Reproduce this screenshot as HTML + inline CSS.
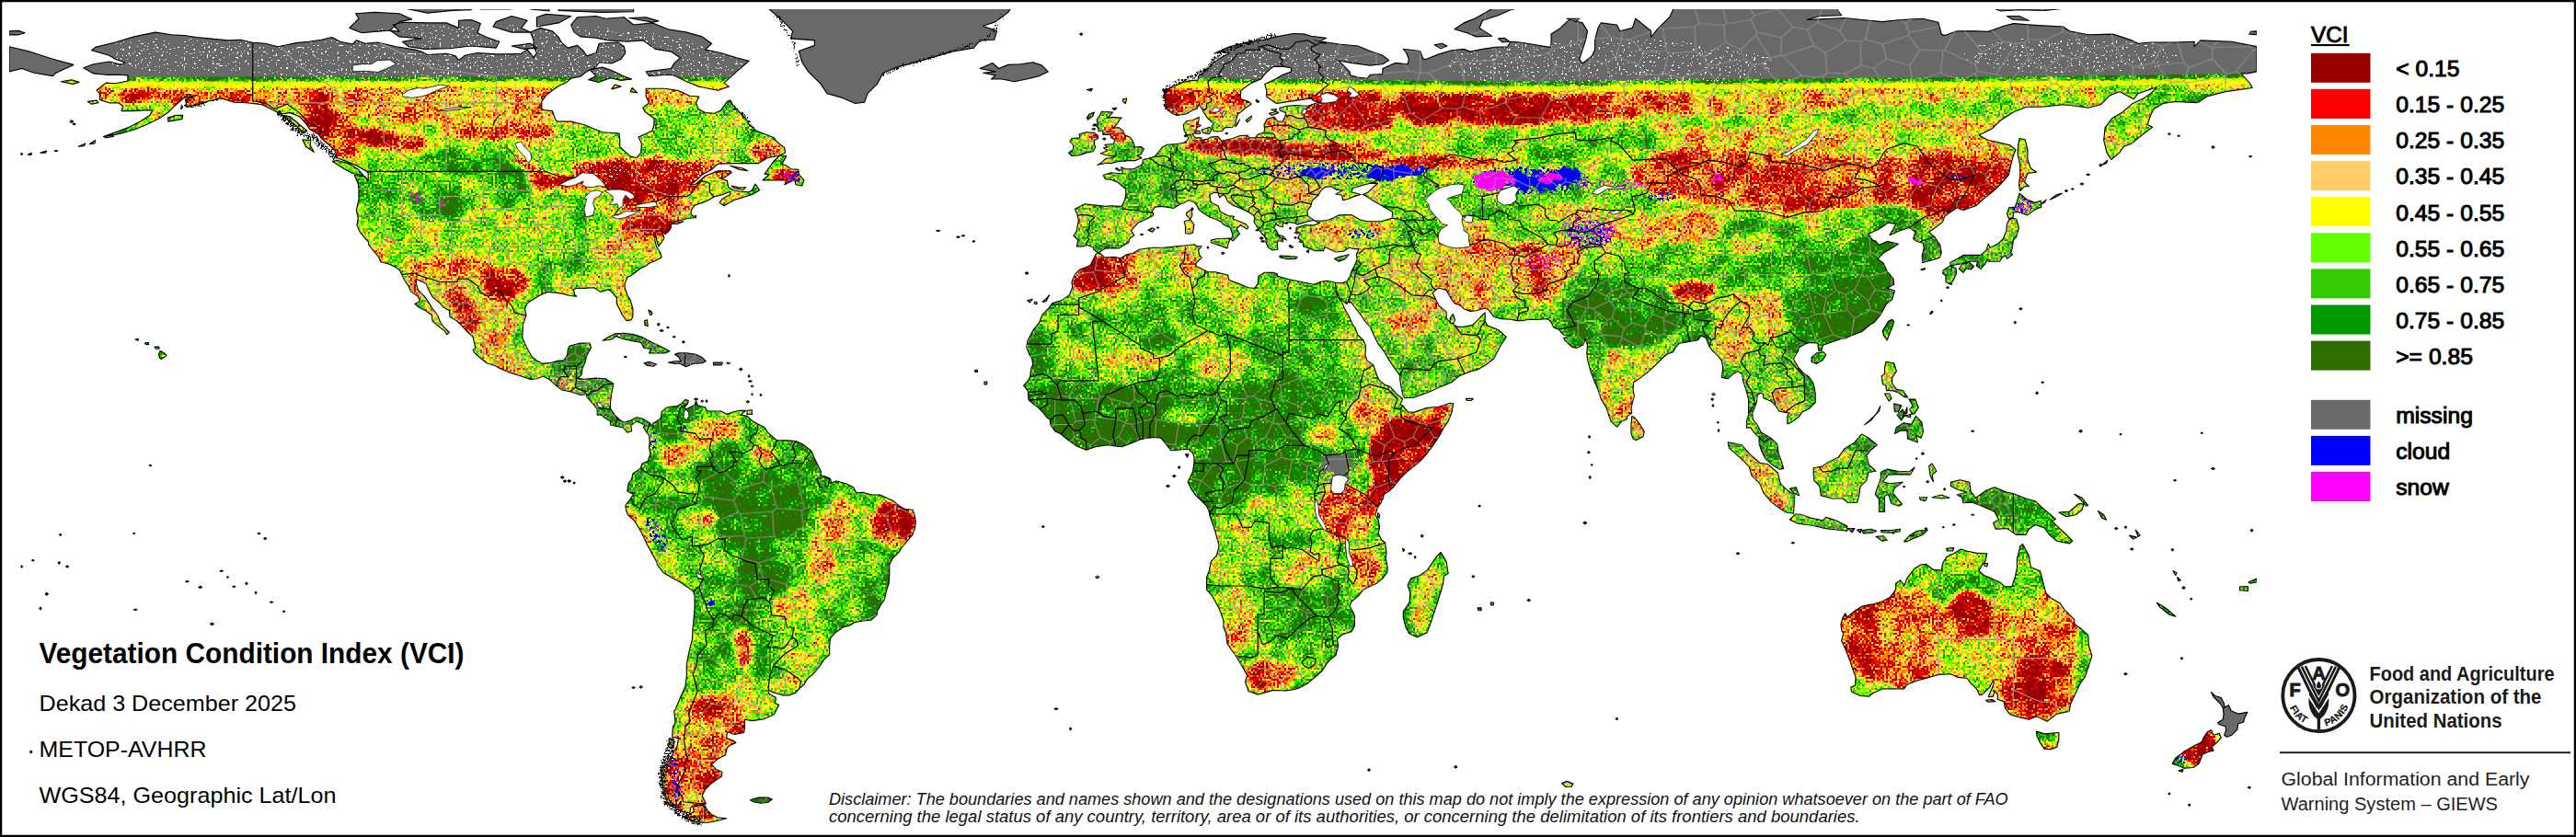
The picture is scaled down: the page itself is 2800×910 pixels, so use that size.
<!DOCTYPE html>
<html lang="en"><head><meta charset="utf-8"><title>Vegetation Condition Index (VCI)</title>
<style>
html,body{margin:0;padding:0;background:#fff}
body{width:2800px;height:910px;overflow:hidden;position:relative;font-family:"Liberation Sans",Arial,sans-serif}
svg{position:absolute;left:0;top:0;display:block}
</style></head><body>
<svg width="2800" height="910" viewBox="0 0 2800 910">
<defs>
<clipPath id="maparea"><rect x="10" y="10" width="2443" height="891"/></clipPath>
<clipPath id="land" clip-rule="nonzero"><path d="M90.8 73.8L101.6 69.7L118.6 67.0L132.1 70.4L135.5 67.7L125.4 64.3L118.6 60.2L99.6 54.8L103.6 51.4L125.4 46.0L145.7 39.9L168.8 35.1L186.4 37.8L200.0 38.5L213.6 40.5L227.2 41.9L247.5 43.9L261.1 43.3L274.7 46.3L288.2 47.3L301.8 50.7L312.0 48.7L322.2 46.6L335.7 45.3L349.3 43.3L360.8 40.5L369.7 45.3L383.2 48.0L387.3 43.9L396.8 47.3L410.4 46.0L430.7 50.7L451.1 54.1L457.9 56.1L464.7 59.5L485.0 58.2L495.2 60.9L498.6 65.6L505.4 60.2L519.0 57.5L539.3 58.9L552.9 58.9L566.5 58.2L573.2 54.1L580.0 62.3L583.4 57.5L580.0 50.7L580.0 43.9L576.6 35.1L586.8 30.4L600.4 33.8L607.2 40.5L610.6 46.6L617.3 52.1L627.5 49.4L634.3 55.5L637.7 60.9L647.9 57.5L651.3 47.3L671.6 46.0L678.4 50.7L679.8 57.5L675.0 64.3L664.8 69.0L651.3 67.7L647.9 72.4L637.7 77.9L630.9 83.3L620.7 85.3L616.0 89.4L607.2 93.5L600.4 98.2L593.6 103.6L588.8 110.4L588.8 118.6L592.2 119.9L600.4 120.6L603.8 130.1L605.8 132.1L620.7 132.1L634.3 135.5L654.7 143.7L673.0 145.0L673.7 152.5L673.7 159.3L678.4 164.0L685.2 170.1L692.0 171.5L696.7 166.1L697.4 155.9L694.0 149.1L709.0 142.3L711.0 135.5L711.0 128.8L700.8 121.3L698.8 117.2L705.6 111.8L702.2 105.0L702.2 96.2L722.5 96.2L736.1 98.2L742.9 100.9L749.7 104.3L759.9 105.0L756.5 111.8L759.2 118.6L766.6 122.6L776.8 123.3L783.6 119.9L790.4 110.4L793.8 109.1L797.2 115.2L804.0 122.0L810.7 128.8L814.1 135.5L822.3 142.3L831.1 145.7L841.3 149.8L844.7 154.5L852.8 160.6L853.5 166.1L846.0 169.5L834.5 171.5L824.3 177.6L810.7 177.6L797.2 177.6L780.2 178.3L773.4 184.4L763.2 189.8L756.5 196.6L749.7 200.7L756.5 200.0L766.6 191.2L780.2 185.8L793.8 185.8L795.1 187.8L787.0 193.2L781.6 193.2L790.4 196.6L791.7 203.4L797.2 206.8L804.0 208.2L814.1 208.8L817.5 206.8L820.9 200.0L825.7 206.8L817.5 211.5L804.0 215.6L797.2 217.7L787.0 223.8L782.2 220.4L785.0 216.3L793.8 211.5L793.8 208.2L783.6 212.2L776.8 213.6L770.0 217.7L763.2 220.4L755.1 223.1L751.7 227.8L751.0 231.9L753.1 235.3L756.5 234.6L756.5 236.7L748.3 237.3L742.9 238.7L732.7 240.7L739.5 241.4L742.9 240.7L736.1 243.4L729.3 243.4L729.3 247.5L727.3 250.9L723.2 254.6L719.1 250.9L721.2 256.3L721.9 259.0L718.5 264.5L715.7 267.9L713.7 261.1L712.4 252.9L711.7 261.1L713.7 268.5L717.8 274.7L719.1 279.7L712.4 283.5L705.6 286.2L702.2 288.9L695.4 292.3L688.6 297.7L681.8 301.8L679.1 308.6L679.1 312.7L681.8 320.8L685.2 326.2L687.9 335.7L687.9 343.9L685.9 347.9L681.1 348.6L676.4 342.5L673.7 336.4L670.3 330.3L670.3 323.5L665.5 318.1L661.5 314.7L652.6 317.4L645.8 312.7L637.7 313.3L632.3 313.3L626.2 313.3L623.5 314.7L624.8 320.8L626.8 322.2L619.4 321.5L611.9 319.4L603.8 318.1L595.0 317.4L588.8 320.1L581.4 324.2L573.2 329.6L570.5 335.7L571.9 343.2L568.5 352.7L567.8 367.6L571.9 376.4L577.3 386.6L579.3 388.7L583.4 392.1L590.2 395.4L600.4 394.1L607.2 392.1L612.6 392.1L616.7 385.9L617.3 379.8L618.7 376.4L630.9 373.1L641.1 373.1L642.5 377.8L637.7 386.6L635.7 394.8L633.0 400.2L632.3 407.0L628.2 411.1L634.3 412.4L647.9 411.1L658.1 411.7L666.9 417.2L664.8 427.3L663.5 437.5L663.5 444.3L668.2 451.1L673.7 456.5L678.4 459.2L685.2 457.2L692.0 453.8L698.8 455.2L706.2 459.9L710.3 464.7L709.6 460.6L713.7 457.9L718.5 454.5L719.1 447.7L723.9 443.6L728.0 442.3L736.1 441.6L741.5 438.2L744.9 434.5L748.3 435.5L747.6 438.9L743.6 442.9L745.6 445.0L749.7 442.9L755.1 440.2L756.5 436.2L758.5 440.9L766.6 442.9L768.7 447.0L776.8 447.0L783.6 447.0L790.4 450.4L797.2 447.7L804.0 446.3L810.7 446.3L807.4 449.1L805.3 451.1L812.1 452.4L818.2 457.9L824.3 461.3L831.1 464.7L834.5 470.1L841.3 476.2L844.7 478.9L854.9 478.9L865.0 479.6L872.5 483.0L878.6 487.7L882.0 490.4L885.4 498.6L888.8 505.4L892.2 512.2L892.2 517.6L886.8 521.0L892.2 520.3L895.6 517.6L902.4 520.3L903.7 525.1L909.1 523.0L919.3 525.7L927.5 529.8L930.9 535.9L937.6 535.2L947.8 538.0L956.6 538.0L966.8 542.7L970.2 544.1L978.4 550.8L983.8 553.6L991.9 554.2L994.0 559.7L995.3 567.1L994.6 573.9L991.9 581.4L984.5 590.2L980.4 595.0L977.0 600.4L970.2 607.2L966.8 614.0L966.8 624.1L966.1 634.3L963.4 642.5L961.4 652.0L958.0 656.7L953.3 664.8L953.3 668.2L946.5 674.3L938.3 675.0L929.5 676.4L922.7 680.5L916.6 681.8L907.1 688.6L902.4 694.0L901.7 702.2L901.7 711.7L895.6 717.1L890.8 724.6L884.0 732.7L877.9 737.5L873.9 744.2L869.1 748.3L865.0 753.1L858.2 755.8L850.1 755.8L839.2 752.4L835.2 749.7L835.2 753.7L843.3 758.5L842.6 764.6L846.7 766.6L841.3 776.8L831.1 781.6L817.5 783.6L809.4 782.2L809.4 790.4L808.7 796.5L798.5 798.5L790.4 795.8L789.7 802.6L797.2 805.3L799.9 807.4L793.8 810.1L790.4 812.8L788.4 820.9L780.2 825.0L773.4 831.1L778.2 836.5L785.0 839.2L784.3 844.0L773.4 851.5L766.6 858.2L763.2 865.0L767.3 873.9L759.9 875.2L751.0 877.3L749.7 884.0L739.5 882.0L732.7 877.3L725.9 873.2L722.5 865.0L720.5 858.2L719.1 848.1L719.1 837.9L718.5 835.2L725.9 829.7L730.7 820.9L736.1 810.7L737.5 802.6L730.7 801.2L731.4 790.4L734.1 785.6L732.7 773.4L734.7 770.0L738.8 759.9L744.9 746.3L746.3 736.1L746.3 722.5L747.6 715.7L749.7 705.6L752.4 695.4L753.1 681.8L753.7 677.1L755.1 661.5L755.1 647.9L753.7 643.1L747.6 638.4L739.5 633.0L729.3 627.5L721.2 622.8L714.4 614.0L713.7 610.6L708.3 601.1L703.5 592.2L698.8 582.1L694.0 573.2L689.3 565.8L682.5 559.7L680.5 554.2L679.8 549.5L685.2 542.7L687.2 539.3L690.0 535.2L686.6 536.6L681.8 533.9L683.2 525.7L686.6 521.0L687.9 514.9L692.0 512.2L696.1 509.4L698.1 504.0L704.2 501.3L706.9 493.8L705.6 486.4L706.2 479.6L705.6 473.5L702.9 470.1L699.5 464.7L700.8 461.9L692.0 457.9L685.9 462.6L686.6 468.7L681.8 470.1L677.1 464.7L668.9 463.3L663.5 461.9L663.5 457.9L656.7 453.8L654.0 451.1L649.2 451.1L649.2 445.0L644.5 438.9L637.7 431.4L638.4 428.7L630.9 429.4L620.7 426.0L610.6 423.9L605.1 419.9L597.0 412.4L590.2 409.0L583.4 411.7L576.6 412.4L566.5 409.0L553.6 404.9L542.7 400.2L538.0 397.5L529.1 394.8L522.3 389.3L515.6 383.2L514.2 380.5L516.9 378.5L515.6 373.1L514.2 366.3L508.8 361.5L502.0 354.1L495.2 347.9L489.1 344.5L488.4 337.8L481.6 333.7L478.2 329.6L470.1 322.8L466.0 315.4L463.3 308.6L456.5 305.2L452.4 303.2L452.4 308.6L454.5 315.4L461.3 322.2L466.0 328.9L470.1 335.7L475.5 342.5L478.2 349.3L481.6 354.7L488.4 361.5L485.7 363.6L483.0 359.5L474.8 353.4L470.1 349.3L469.4 342.5L462.6 337.8L454.5 333.7L451.1 330.3L456.5 327.6L454.5 322.2L446.3 316.7L444.3 311.3L439.6 304.5L436.8 298.4L434.1 293.0L428.0 289.6L422.6 286.9L413.8 284.8L411.7 279.4L404.3 270.6L400.9 266.5L400.2 262.4L396.8 259.0L391.4 252.3L388.0 244.8L389.3 237.3L387.3 228.5L390.0 217.0L390.0 205.4L389.3 200.0L385.3 190.5L396.8 191.9L400.2 196.6L400.2 187.8L395.4 184.4L386.6 179.6L376.4 175.6L366.3 171.5L364.2 164.0L357.4 157.3L349.3 150.5L345.9 145.7L337.1 141.0L332.3 134.2L325.5 126.7L315.4 122.6L305.2 124.0L298.4 120.6L284.8 113.8L267.9 111.8L254.3 111.1L240.7 107.0L227.2 109.8L217.0 113.1L203.4 116.5L201.4 108.4L213.6 103.6L200.0 106.4L189.8 115.2L183.0 122.0L172.9 128.8L159.3 135.5L145.7 141.0L132.1 145.0L122.0 147.1L113.1 148.4L125.4 143.7L138.9 138.9L152.5 132.1L162.7 125.4L166.1 119.9L155.9 119.9L145.7 120.6L132.1 120.6L133.5 115.2L128.8 111.8L118.6 111.8L108.4 108.4L108.4 101.6L105.0 98.2L111.8 92.8L115.2 90.1L125.4 90.8L138.9 88.0L138.9 81.9L128.8 81.3L115.2 81.3L101.6 79.9ZM1191.4 276.0L1195.5 275.3L1200.9 280.1L1211.1 279.4L1217.9 280.8L1224.7 276.7L1231.5 275.3L1238.3 271.3L1251.8 269.2L1265.4 269.2L1279.0 267.9L1292.6 266.5L1298.0 265.8L1301.4 267.9L1306.1 267.9L1302.7 271.9L1303.4 276.7L1306.1 280.1L1300.0 286.2L1300.0 289.6L1306.1 292.3L1312.9 295.7L1321.1 295.7L1334.6 299.1L1336.0 304.5L1346.8 308.6L1357.0 312.7L1363.8 313.3L1367.2 308.6L1367.9 300.4L1374.0 296.4L1384.2 296.4L1388.2 297.7L1388.9 300.4L1401.1 303.8L1414.7 306.5L1428.3 309.3L1435.1 306.5L1441.8 305.2L1448.6 306.5L1451.3 307.2L1452.4 315.7L1453.4 322.2L1458.8 328.9L1460.8 334.4L1465.6 342.5L1470.3 352.7L1473.1 356.8L1475.8 364.2L1481.9 369.7L1484.6 376.4L1483.9 385.9L1486.0 392.1L1492.7 396.8L1497.5 410.4L1499.5 413.8L1504.3 417.8L1511.1 420.6L1518.5 428.7L1524.6 433.4L1521.9 440.2L1524.6 440.9L1530.1 447.7L1536.8 448.4L1550.4 443.6L1564.0 442.3L1576.2 438.2L1579.6 438.9L1578.2 447.7L1574.2 457.9L1569.4 464.7L1564.0 474.8L1557.2 485.0L1550.4 493.8L1543.6 501.3L1538.9 505.4L1530.1 512.2L1521.9 520.3L1513.8 530.5L1509.0 534.6L1504.3 537.3L1503.6 541.3L1500.9 546.8L1497.5 551.5L1494.8 559.7L1498.2 565.1L1499.5 573.2L1498.2 580.0L1501.6 586.8L1505.6 590.2L1507.0 600.4L1506.3 607.2L1508.3 617.3L1507.7 622.1L1502.9 628.9L1496.1 634.3L1486.0 639.1L1481.9 641.1L1477.1 647.2L1469.0 654.0L1467.0 658.7L1470.3 664.8L1472.4 669.6L1472.4 680.5L1469.0 686.6L1458.8 690.0L1453.4 694.7L1454.7 702.2L1452.0 712.4L1445.2 717.8L1441.8 721.9L1437.1 729.3L1429.6 736.1L1421.5 742.9L1411.3 748.3L1405.9 749.7L1397.7 751.0L1384.2 750.4L1367.2 755.1L1360.4 752.4L1357.0 751.7L1356.3 749.0L1353.6 741.5L1355.7 734.1L1348.9 722.5L1343.4 713.0L1338.0 705.6L1333.9 699.5L1332.6 688.6L1329.9 681.8L1329.9 674.3L1325.1 661.5L1317.7 647.9L1311.6 641.1L1311.6 635.7L1311.6 627.5L1314.3 620.7L1316.3 610.6L1322.4 603.8L1325.1 593.6L1322.4 583.4L1321.1 578.7L1318.3 569.8L1314.9 560.3L1314.3 556.3L1311.6 550.2L1306.8 545.4L1299.3 538.0L1294.6 531.2L1291.2 523.7L1294.6 516.9L1296.6 512.2L1298.0 503.3L1298.0 497.2L1296.6 492.5L1291.9 488.4L1287.8 488.4L1280.3 489.1L1272.9 489.8L1268.1 483.7L1262.0 476.2L1254.6 475.5L1247.8 476.2L1239.6 477.6L1234.9 479.6L1230.1 481.6L1219.3 485.7L1211.8 485.0L1204.3 483.7L1190.8 485.7L1180.6 489.1L1170.4 485.0L1158.2 476.2L1153.4 472.1L1146.7 468.7L1141.9 461.9L1141.2 455.8L1138.5 454.5L1132.4 447.0L1129.0 443.6L1122.9 438.9L1118.2 434.8L1117.5 430.1L1117.5 425.3L1112.7 419.2L1117.5 413.8L1119.5 410.4L1120.9 400.2L1122.9 396.1L1121.5 388.7L1119.5 386.6L1115.8 377.8L1116.8 371.0L1120.9 362.9L1123.6 358.1L1129.7 350.7L1133.1 341.8L1140.5 334.4L1143.9 329.6L1153.4 326.9L1162.3 320.8L1165.7 312.7L1165.0 305.9L1168.4 298.4L1173.8 293.0L1179.9 290.9L1185.3 288.2L1189.4 280.1ZM1451.3 307.2L1458.8 307.9L1464.2 305.9L1467.6 300.4L1469.0 295.0L1472.4 288.9L1475.1 282.1L1474.4 276.7L1477.1 270.6L1472.4 270.6L1466.3 269.2L1460.2 273.3L1452.0 274.0L1439.8 268.5L1438.5 272.6L1429.6 272.6L1422.8 269.9L1416.7 267.9L1416.1 262.4L1410.6 259.0L1413.3 254.3L1408.6 250.9L1409.3 247.5L1418.1 244.8L1428.3 244.8L1434.4 242.4L1429.0 240.0L1438.5 240.0L1445.2 238.7L1455.4 233.9L1469.0 233.6L1477.8 238.7L1486.0 240.7L1500.9 240.7L1513.1 237.3L1513.8 230.5L1500.9 223.1L1492.7 218.3L1485.3 213.6L1481.2 211.5L1486.6 209.5L1490.7 205.4L1497.5 199.3L1489.3 199.3L1479.2 202.0L1470.3 204.8L1469.0 208.8L1479.2 211.5L1471.7 213.6L1465.6 216.3L1459.5 217.7L1458.8 212.2L1452.0 210.9L1459.5 206.8L1452.0 206.1L1447.3 202.7L1439.8 203.4L1435.1 208.2L1433.0 212.2L1426.2 218.3L1424.9 223.8L1420.8 229.2L1421.5 234.6L1428.3 239.4L1421.5 240.7L1416.7 242.1L1410.0 244.1L1407.9 242.8L1401.1 241.4L1394.3 242.8L1394.3 246.8L1389.6 245.5L1386.9 243.4L1384.8 247.5L1388.9 252.9L1387.6 255.0L1394.3 259.7L1394.3 263.1L1392.3 261.8L1388.9 261.8L1388.2 265.2L1388.9 271.3L1383.5 271.9L1378.7 269.2L1376.0 263.8L1376.0 259.7L1374.0 256.3L1372.0 254.3L1368.6 250.2L1365.8 245.5L1363.1 241.4L1363.8 236.7L1362.4 233.9L1357.0 230.5L1346.8 225.8L1340.1 223.1L1334.6 219.0L1331.9 213.6L1329.2 211.5L1325.8 214.9L1323.8 209.5L1319.7 209.5L1314.9 211.5L1315.6 218.3L1317.0 220.4L1323.8 223.8L1326.5 229.9L1334.6 234.6L1341.4 235.3L1340.1 238.0L1346.8 240.7L1353.6 243.4L1357.0 246.8L1355.7 248.9L1348.2 244.8L1344.1 248.9L1347.5 254.3L1343.4 258.4L1340.1 261.8L1338.0 260.4L1340.1 255.7L1337.3 247.5L1332.6 245.5L1329.2 243.4L1327.8 241.7L1323.1 239.0L1314.9 236.0L1307.5 231.2L1302.7 227.2L1301.4 223.8L1298.0 219.7L1291.9 217.7L1285.8 221.0L1281.7 222.4L1275.6 226.5L1268.1 225.1L1262.0 224.4L1255.2 225.1L1251.8 230.5L1253.9 231.9L1253.2 234.6L1246.4 238.0L1236.9 242.1L1229.4 250.9L1232.8 255.7L1228.1 259.0L1226.7 263.8L1219.3 267.9L1216.6 269.9L1207.7 269.9L1201.6 269.9L1195.2 274.0L1193.5 274.7L1188.7 271.3L1188.0 268.5L1181.3 266.5L1177.2 267.9L1170.4 267.9L1171.8 261.1L1167.0 256.3L1170.4 250.9L1171.1 246.2L1172.4 239.4L1171.1 233.9L1168.4 227.2L1175.2 223.8L1179.2 221.7L1190.8 223.1L1200.9 224.4L1207.7 223.8L1219.3 224.4L1222.7 217.0L1224.0 210.2L1223.3 205.4L1217.2 200.0L1214.5 198.0L1207.7 195.3L1201.6 194.6L1198.9 190.5L1207.7 187.8L1217.9 188.8L1220.6 188.5L1218.6 181.7L1223.3 183.7L1232.2 183.7L1241.7 179.0L1242.3 173.5L1248.4 172.2L1255.2 170.1L1258.6 166.1L1263.4 160.0L1268.8 157.3L1279.0 156.6L1286.4 155.2L1289.8 153.2L1291.9 150.5L1289.8 146.4L1287.1 142.3L1286.4 135.5L1289.8 131.5L1295.9 130.8L1303.4 127.4L1302.1 135.5L1305.4 136.2L1300.7 138.9L1299.3 144.4L1295.9 145.7L1298.0 148.4L1299.3 149.8L1306.1 149.8L1305.4 152.5L1312.9 151.1L1316.3 149.1L1323.8 148.4L1327.8 153.2L1340.1 150.5L1346.8 147.8L1355.7 147.1L1358.4 149.8L1364.5 149.8L1367.2 146.4L1374.0 143.7L1374.7 141.0L1374.0 135.5L1377.4 129.4L1384.8 127.1L1388.9 132.1L1394.3 132.1L1397.1 126.0L1397.7 122.6L1391.0 119.9L1391.0 117.2L1399.1 115.2L1407.9 114.5L1421.5 115.2L1431.7 111.8L1436.4 112.1L1428.3 109.8L1424.9 107.0L1414.7 108.4L1401.1 110.4L1387.6 112.5L1382.1 109.1L1376.7 105.0L1376.7 98.2L1374.7 91.4L1386.2 86.0L1394.3 81.3L1403.8 77.9L1403.2 73.8L1395.0 72.4L1384.2 72.4L1377.4 77.9L1374.0 81.3L1370.6 86.0L1360.4 90.1L1353.6 94.8L1348.9 98.2L1348.2 105.0L1348.9 107.7L1357.0 110.4L1360.4 113.1L1355.0 116.5L1350.2 120.6L1345.5 124.0L1344.1 128.8L1342.8 134.9L1339.4 138.3L1331.2 138.9L1328.5 142.3L1323.1 143.0L1319.0 142.3L1317.0 137.6L1319.0 134.2L1312.9 128.8L1308.2 122.0L1306.8 118.6L1304.1 115.2L1303.4 112.5L1301.4 117.9L1295.9 119.9L1289.2 124.0L1279.3 125.4L1275.6 124.0L1269.5 119.9L1266.8 115.2L1266.8 109.1L1265.4 105.0L1265.4 98.2L1275.6 94.1L1285.8 89.4L1295.9 87.4L1302.1 87.4L1302.7 82.6L1309.5 77.9L1314.9 72.4L1319.7 67.7L1326.5 62.9L1336.7 57.5L1326.5 56.1L1319.7 58.2L1333.3 52.1L1336.7 50.7L1350.2 47.3L1360.4 45.3L1374.0 43.3L1387.6 39.9L1405.9 36.5L1418.1 37.1L1424.9 39.2L1441.8 41.2L1435.1 44.6L1428.3 43.9L1441.8 46.0L1455.4 48.0L1475.8 50.0L1489.3 55.5L1502.9 60.2L1509.7 65.6L1502.9 69.7L1489.3 71.1L1469.0 68.4L1455.4 66.3L1451.3 63.6L1458.8 69.7L1467.0 77.9L1467.6 81.9L1475.8 84.0L1486.0 85.3L1489.3 81.3L1502.9 80.6L1502.9 74.5L1516.5 68.4L1530.1 69.7L1531.4 64.3L1528.7 57.5L1525.3 53.4L1543.6 55.5L1547.0 64.3L1550.4 64.3L1564.0 58.9L1577.6 54.8L1591.1 53.4L1597.9 56.1L1611.5 53.4L1625.1 51.4L1638.6 50.7L1642.0 45.3L1652.2 46.0L1669.2 48.7L1684.8 51.4L1686.1 47.3L1686.1 37.1L1696.3 30.4L1703.1 23.6L1706.5 21.5L1720.1 24.9L1725.5 33.8L1723.5 43.9L1720.1 54.1L1716.7 64.3L1720.1 69.0L1730.3 60.9L1733.6 54.1L1733.6 43.9L1737.0 30.4L1740.4 24.9L1757.4 27.0L1760.8 33.8L1774.4 30.4L1777.8 20.2L1794.7 33.8L1794.7 40.5L1801.5 31.7L1815.1 18.1L1821.9 3.2L1991.5 3.2L2001.7 16.8L1977.9 17.5L1964.4 21.5L1977.9 20.9L2005.1 19.5L2032.2 22.2L2045.8 23.6L2066.2 21.5L2089.9 20.2L2106.9 24.3L2110.3 37.1L2113.7 38.5L2127.2 33.8L2147.6 33.8L2161.2 34.4L2178.1 28.3L2188.3 25.6L2215.4 27.6L2242.6 29.0L2249.4 33.8L2269.7 37.8L2296.9 37.1L2317.2 43.9L2324.0 47.3L2337.6 46.0L2364.7 46.0L2385.1 45.3L2385.1 50.7L2391.9 43.9L2425.8 45.3L2453.0 50.7L2453.0 77.9L2442.8 79.9L2436.0 79.9L2446.2 91.4L2448.2 95.5L2419.0 99.6L2398.7 105.0L2388.5 111.8L2364.7 110.4L2351.2 112.5L2341.0 118.6L2337.6 125.4L2334.2 135.5L2339.6 138.3L2329.5 145.7L2317.2 155.9L2308.4 159.3L2303.7 166.1L2294.8 173.5L2290.1 166.1L2286.7 152.5L2288.1 138.9L2295.5 128.8L2307.1 122.0L2317.2 113.1L2330.8 106.4L2337.6 101.6L2344.4 94.8L2324.0 101.6L2319.3 107.7L2303.7 99.6L2293.5 103.6L2283.3 113.8L2269.7 117.2L2256.2 115.2L2242.6 113.8L2222.2 115.9L2201.9 116.5L2188.3 122.0L2174.7 130.8L2164.6 140.3L2151.0 147.1L2161.2 152.5L2167.9 153.9L2184.9 157.9L2191.0 162.7L2188.3 169.5L2185.6 179.6L2183.6 189.8L2174.7 200.0L2167.9 206.8L2157.8 214.9L2147.6 223.8L2134.0 228.5L2127.2 225.8L2119.1 231.2L2113.7 235.3L2111.6 241.4L2103.5 247.5L2096.7 252.3L2102.8 257.7L2108.9 266.5L2110.3 274.7L2108.2 280.1L2100.1 282.8L2089.9 285.5L2089.2 278.0L2091.3 269.9L2090.6 264.5L2083.8 262.4L2079.7 259.7L2081.8 252.3L2075.7 247.5L2066.2 250.2L2053.9 255.7L2058.0 248.9L2060.7 243.4L2052.6 242.1L2042.4 248.9L2030.9 254.3L2035.6 261.1L2039.0 262.4L2042.4 266.5L2051.2 262.4L2063.4 265.2L2056.0 269.9L2047.8 274.7L2041.0 281.4L2047.2 286.2L2051.2 295.0L2058.0 303.2L2058.7 309.3L2051.2 313.3L2059.4 316.0L2056.7 325.5L2050.6 330.3L2043.8 342.5L2037.0 350.7L2032.9 352.7L2023.4 360.8L2011.9 364.9L2006.4 367.6L2001.7 368.3L1991.5 371.7L1981.3 375.1L1980.0 381.2L1976.6 381.2L1975.9 373.1L1967.8 372.4L1964.4 373.1L1957.6 376.4L1955.5 377.8L1954.2 381.9L1949.4 390.0L1954.2 398.8L1961.0 406.3L1966.4 409.7L1971.2 417.2L1973.2 427.3L1973.2 437.5L1966.4 444.3L1958.3 448.4L1955.5 453.1L1946.0 459.9L1942.7 460.6L1942.7 452.4L1944.7 449.1L1940.6 448.4L1933.8 447.0L1930.4 441.6L1925.0 436.2L1916.9 432.8L1916.2 428.0L1913.5 427.3L1910.1 429.4L1909.4 437.5L1906.7 444.3L1904.7 449.1L1905.3 455.8L1910.1 461.9L1914.2 470.1L1922.3 474.8L1925.7 476.9L1931.8 483.0L1933.2 493.2L1936.5 502.0L1938.6 509.4L1933.8 510.1L1925.7 504.7L1918.9 498.6L1914.8 490.4L1912.1 482.3L1912.1 475.5L1907.4 471.4L1902.6 464.7L1898.5 465.3L1898.5 457.9L1900.6 451.1L1900.6 440.9L1900.6 434.1L1897.9 423.9L1894.5 413.8L1893.8 407.0L1889.0 403.6L1884.3 406.3L1878.2 411.7L1871.4 410.4L1872.8 400.2L1871.4 392.1L1867.3 386.6L1861.9 381.9L1857.8 376.4L1854.4 367.6L1849.0 364.9L1845.6 369.7L1838.8 371.0L1830.7 372.4L1825.3 373.1L1821.2 377.8L1818.5 382.6L1811.7 385.3L1806.3 390.0L1797.4 398.8L1790.0 405.6L1782.5 411.1L1775.7 415.8L1775.0 423.9L1776.4 430.1L1774.4 437.5L1773.0 444.3L1773.7 449.1L1768.9 452.4L1768.3 455.8L1762.1 458.6L1757.7 464.1L1751.3 458.6L1748.6 451.1L1745.9 442.9L1740.4 434.1L1736.4 421.9L1733.0 414.4L1728.9 403.6L1725.5 390.4L1724.8 383.2L1725.5 375.8L1723.5 368.3L1720.8 375.1L1713.3 378.5L1708.5 377.1L1701.1 370.3L1699.7 367.6L1707.9 364.2L1699.7 364.2L1697.0 361.5L1694.3 358.1L1688.9 356.1L1686.1 350.7L1682.7 346.6L1672.6 347.3L1662.4 347.3L1654.2 348.6L1648.8 348.6L1642.0 347.3L1631.9 346.6L1623.7 344.5L1618.3 337.1L1614.2 335.0L1604.7 337.8L1597.9 338.4L1591.1 335.7L1587.7 332.3L1581.0 329.6L1576.2 322.8L1572.1 315.4L1567.4 314.0L1563.3 313.3L1560.6 315.4L1557.2 318.8L1560.6 325.5L1564.0 332.3L1572.1 339.1L1572.1 345.9L1576.2 350.7L1576.2 345.9L1579.3 341.5L1581.6 347.3L1579.6 352.7L1584.4 355.4L1591.1 355.4L1600.6 353.4L1606.7 347.3L1611.5 342.5L1614.2 339.8L1614.2 349.3L1616.9 354.1L1629.1 358.8L1637.3 366.3L1631.9 374.4L1628.5 380.5L1623.7 390.0L1614.9 396.8L1606.7 401.6L1598.6 403.6L1585.7 409.0L1577.6 415.8L1565.4 420.6L1553.8 426.0L1536.8 432.1L1526.7 432.8L1524.6 428.7L1522.6 418.5L1521.2 407.7L1511.1 393.4L1504.3 381.9L1497.5 373.1L1492.7 362.9L1489.3 355.4L1483.9 349.3L1479.2 342.5L1472.4 333.7L1469.0 328.9L1466.3 328.9L1468.3 318.8L1464.9 328.9L1463.9 330.6L1459.5 326.9L1456.8 324.9L1453.4 318.1L1452.4 315.7ZM2198.5 591.6L2205.3 603.8L2207.3 616.7L2217.5 620.7L2220.9 633.6L2223.6 644.5L2229.0 649.9L2239.2 656.0L2244.0 662.8L2254.8 673.7L2254.8 678.4L2261.6 683.2L2269.7 690.6L2270.4 702.2L2273.1 710.3L2273.8 713.4L2269.7 725.9L2266.3 736.1L2261.6 742.2L2258.2 749.0L2254.8 756.5L2250.7 765.3L2249.0 773.4L2235.8 776.1L2225.0 784.3L2215.4 779.5L2213.4 778.9L2205.3 782.2L2191.7 778.9L2184.9 776.8L2179.5 770.0L2178.1 762.6L2171.3 760.5L2171.3 755.1L2167.9 751.0L2166.6 757.1L2161.2 757.8L2164.6 749.7L2167.3 742.9L2166.6 739.5L2162.5 747.6L2154.4 755.1L2151.7 755.8L2148.9 749.7L2142.2 742.9L2138.1 737.5L2127.2 736.1L2120.4 732.7L2106.9 733.4L2093.3 737.5L2083.1 740.2L2072.9 744.2L2069.6 749.0L2056.0 748.7L2045.8 749.0L2035.6 753.7L2031.5 757.1L2022.0 756.5L2012.5 752.0L2011.9 747.0L2016.6 744.9L2017.0 736.1L2013.2 725.9L2011.2 719.1L2009.2 714.4L2005.8 705.6L2001.7 696.7L2003.7 688.6L2001.7 685.2L2001.0 678.4L2003.0 671.6L2005.8 666.9L2007.8 671.0L2015.3 664.8L2023.4 659.4L2032.2 657.4L2036.3 656.7L2045.8 654.0L2054.6 649.2L2060.7 641.1L2060.7 634.3L2065.5 630.9L2070.2 636.3L2072.3 629.6L2076.3 624.1L2081.1 618.0L2087.9 614.0L2093.3 613.3L2101.4 619.4L2110.3 620.1L2111.6 612.6L2115.7 605.8L2119.4 603.4L2123.8 601.7L2131.3 597.0L2137.4 599.0L2147.6 601.1L2154.4 601.7L2159.8 601.7L2157.8 610.6L2153.7 615.3L2151.0 620.7L2156.4 625.5L2164.6 628.9L2174.7 633.6L2178.8 637.7L2186.9 637.7L2190.3 627.5L2192.4 617.3L2192.4 607.2L2194.4 600.4L2195.8 593.6ZM10.0 50.7L30.4 55.5L57.5 64.3L79.9 70.4L60.9 79.2L57.5 82.6L37.1 79.2L23.6 74.5L10.0 77.9ZM736.1 -10.4L770.0 2.5L804.0 1.9L834.5 8.6L848.1 20.2L861.6 33.8L859.6 41.9L885.4 43.9L885.4 49.4L868.4 55.5L871.8 67.7L878.6 77.9L892.2 91.4L899.0 101.6L915.9 106.4L929.5 112.5L939.7 111.1L943.1 101.6L953.3 91.4L960.0 79.2L977.0 72.4L1000.8 66.3L1034.7 56.1L1058.4 52.1L1065.2 43.9L1080.8 43.3L1083.5 33.8L1068.6 28.3L1082.2 23.6L1095.8 13.4L1102.5 3.2L1102.5 -10.4ZM1065.2 74.5L1078.8 68.4L1085.6 74.5L1095.8 70.4L1109.3 69.7L1122.9 67.7L1132.4 71.1L1139.2 77.9L1129.7 82.6L1116.1 86.0L1102.5 88.7L1089.0 86.0L1077.4 86.0L1082.2 81.9L1068.6 79.2L1082.2 77.9ZM394.8 190.5L383.2 188.5L373.1 183.0L361.5 175.6L366.3 174.2L379.8 178.3L388.7 183.7ZM341.2 165.4L332.3 159.3L328.9 151.8L337.8 152.5L337.1 157.9ZM183.0 132.1L198.0 129.4L198.7 125.4L191.2 125.4L182.4 128.1ZM328.9 144.4L322.2 136.9L312.0 130.1L306.5 125.4L315.4 126.7L325.5 135.5L333.7 142.3ZM829.1 195.9L835.9 189.8L831.1 189.2L841.3 174.9L848.1 168.8L854.9 169.5L850.1 178.3L854.9 180.3L859.6 183.7L867.8 184.4L868.4 189.8L873.9 195.9L871.8 202.0L865.0 200.7L863.7 195.3L852.8 200.7L854.9 195.9L841.3 195.9ZM795.1 202.0L804.0 204.1L810.7 203.7L807.4 206.8L798.5 204.8ZM793.8 180.3L807.4 183.0L812.8 185.8L804.0 184.4ZM655.3 370.3L661.5 366.3L668.2 362.9L678.4 362.2L688.6 363.6L698.8 366.9L709.0 372.4L717.8 376.4L728.0 381.9L722.5 383.9L705.6 383.9L707.6 379.2L700.1 378.5L696.7 372.4L685.2 370.3L676.4 368.3L669.6 365.6L664.8 369.0ZM726.6 394.1L734.7 395.4L739.5 395.4L745.6 398.8L753.1 395.4L763.2 394.8L767.3 392.7L763.2 388.7L756.5 385.3L746.3 383.9L737.5 383.9L733.4 385.3L737.5 388.0L740.2 392.7L732.7 392.7ZM700.1 394.8L705.6 393.4L713.7 396.1L710.3 398.2L703.5 397.5ZM775.5 394.1L785.6 394.1L784.3 396.8L775.5 396.8ZM700.8 348.6L703.5 347.9L704.2 354.7L700.8 353.4ZM704.9 337.1L708.3 339.1L709.0 341.8L706.9 342.5ZM812.1 446.3L817.5 445.7L817.5 450.4L812.1 450.4ZM814.1 66.3L800.6 77.9L787.0 90.1L792.4 94.1L780.2 98.2L770.0 96.2L759.9 94.1L746.3 88.7L732.7 81.9L725.9 81.3L705.6 82.6L702.2 77.9L729.3 74.5L732.7 69.0L739.5 62.9L729.3 56.1L712.4 53.4L698.8 43.9L681.8 45.3L661.5 43.9L647.9 41.2L630.9 39.9L624.1 35.1L620.7 27.0L627.5 18.8L647.9 17.5L658.1 20.2L678.4 18.8L688.6 27.0L709.0 24.9L725.9 31.7L746.3 35.1L763.2 39.9L773.4 47.3L766.6 54.1L783.6 57.5L800.6 62.9ZM641.1 75.8L654.7 73.1L664.8 76.5L677.1 82.6L686.6 86.0L675.0 87.4L663.5 84.6L650.6 89.4L639.7 86.7L647.9 82.6ZM668.2 92.1L675.0 94.1L664.8 96.9ZM687.2 95.5L692.7 100.9L685.2 99.6ZM434.1 34.4L423.9 33.1L434.1 39.9L457.9 41.9L437.5 45.3L444.3 50.7L461.3 53.4L488.4 52.8L512.2 50.0L539.3 52.1L542.7 45.3L529.1 40.5L519.0 35.8L522.3 25.6L512.2 21.5L498.6 22.2L498.6 30.4L485.0 24.9L464.7 24.9L437.5 24.3L427.3 27.0ZM379.8 30.4L393.4 35.8L407.0 34.4L423.9 33.1L434.1 23.6L447.7 20.9L434.1 14.8L407.0 13.4L386.6 14.8L390.0 20.2ZM539.3 23.6L556.3 17.5L573.2 22.2L566.5 30.4L576.6 35.1L556.3 35.1L535.9 29.0ZM583.4 29.0L607.2 24.9L620.7 17.5L593.6 15.4L583.4 18.8ZM556.3 50.0L576.6 47.3L583.4 52.1L569.8 53.4ZM607.2 11.4L654.7 13.4L688.6 12.7L688.6 3.2L607.2 -0.2ZM437.5 8.6L464.7 14.1L491.8 11.4L512.2 10.7L512.2 -0.2L437.5 -0.2ZM522.3 10.0L552.9 10.0L566.5 8.6L566.5 -0.2L525.7 -0.2ZM576.6 10.0L597.0 12.0L597.0 6.6L580.0 5.9ZM683.8 19.5L709.0 24.3L715.7 22.9L702.2 18.8ZM95.5 110.4L105.0 109.1L107.0 111.8L99.6 113.1ZM66.3 88.7L77.9 86.7L86.0 89.4L79.2 91.4ZM172.5 385.3L174.2 381.5L179.0 384.2L181.0 386.6L175.6 390.4L173.5 389.3ZM168.1 377.1L172.9 377.1L172.9 379.2L169.5 379.2ZM157.3 373.1L161.3 372.4L161.3 374.7L158.6 374.4ZM147.1 369.0L150.5 368.3L149.8 370.3ZM766.0 875.9L768.7 880.6L773.4 885.4L780.2 888.8L789.7 889.8L780.2 892.2L770.0 894.2L759.9 894.2L749.7 891.5L742.9 888.1L749.7 885.4L754.4 882.0L753.1 877.3L759.9 875.9ZM815.5 869.8L824.3 867.1L834.5 867.1L839.2 869.1L834.5 872.5L826.4 873.2L818.9 871.8ZM728.0 802.6L732.7 804.0L732.0 813.5L726.6 812.1ZM888.1 520.3L893.5 516.9L901.7 521.0L900.3 528.5L890.8 529.8ZM1566.0 600.4L1572.1 610.6L1574.2 623.5L1569.4 626.2L1568.7 634.3L1566.7 641.1L1562.6 654.7L1559.2 664.8L1555.2 677.1L1551.1 687.9L1540.2 692.7L1531.4 688.6L1528.0 681.8L1525.3 671.6L1525.3 664.8L1532.1 654.7L1532.8 644.5L1530.1 636.3L1533.5 628.9L1543.6 625.5L1551.8 619.4L1557.2 611.2L1562.6 603.8ZM1593.2 433.4L1601.3 433.4L1599.3 435.5L1594.5 435.5ZM1606.1 660.8L1610.1 660.8L1610.1 663.8L1606.7 663.5ZM1620.7 654.7L1623.7 655.3L1623.0 658.1L1620.3 657.7ZM1524.6 596.3L1526.7 597.7L1525.3 599.7ZM1116.8 326.6L1122.2 325.2L1119.5 328.9ZM1124.3 328.3L1127.0 328.3L1127.0 330.6L1124.3 330.3ZM1133.1 328.3L1137.8 324.2L1140.5 320.8L1137.2 327.6ZM1070.0 415.1L1072.7 415.1L1072.7 417.8L1070.0 417.8ZM1059.8 402.2L1062.5 402.2L1062.5 404.3L1059.8 404.3ZM1288.5 493.8L1291.9 493.8L1290.5 497.2ZM1497.5 557.6L1499.5 559.7L1499.5 563.1L1497.5 561.7ZM10.0 33.8L20.2 33.4L27.0 35.8L20.2 37.8L10.0 37.8ZM2453.0 33.8L2446.2 34.4L2444.8 37.1L2453.0 37.8ZM1192.8 179.3L1203.0 177.3L1207.7 177.6L1214.5 175.6L1224.7 174.6L1233.5 174.6L1241.0 171.8L1238.3 170.1L1235.6 169.5L1240.3 167.4L1243.4 162.0L1240.3 159.6L1233.5 160.0L1232.2 155.9L1230.8 152.5L1228.1 149.1L1222.7 147.1L1220.6 142.3L1216.6 138.9L1209.8 138.9L1213.8 135.5L1217.9 128.8L1219.3 128.1L1207.7 127.4L1203.0 128.8L1209.8 122.0L1197.5 121.3L1195.5 125.4L1192.1 130.1L1193.5 135.5L1189.4 134.9L1193.5 138.9L1194.2 143.0L1198.9 141.6L1198.9 146.4L1207.1 146.4L1207.7 149.8L1211.8 151.8L1210.4 156.6L1200.9 157.3L1203.7 160.0L1199.6 160.6L1203.7 164.0L1196.2 166.8L1203.0 168.8L1209.8 170.1L1213.2 168.8L1210.4 171.5L1202.3 172.2L1196.2 177.6ZM1189.4 157.3L1190.8 160.0L1188.0 164.7L1180.6 166.1L1173.8 168.8L1165.0 169.5L1161.6 166.1L1167.0 162.0L1166.3 157.3L1162.9 153.9L1165.0 150.5L1173.8 149.8L1173.1 145.7L1180.6 143.7L1189.4 144.4L1193.5 147.8L1193.5 150.5L1189.4 152.5ZM1316.3 261.1L1322.4 259.7L1337.3 259.0L1334.6 266.5L1333.9 269.9L1328.5 267.9L1316.3 263.8ZM1287.1 240.7L1293.9 238.7L1298.0 244.1L1296.6 252.9L1292.6 254.3L1288.5 253.6L1288.5 245.5ZM1289.8 231.2L1295.3 227.2L1295.9 233.9L1293.9 238.0L1289.8 234.6ZM1391.0 278.0L1397.7 278.4L1410.0 279.4L1408.6 281.4L1399.1 281.8L1391.0 279.7ZM1450.7 281.4L1455.4 279.4L1466.3 276.7L1462.2 281.4L1455.4 284.2ZM1247.8 250.2L1252.5 247.8L1255.2 249.5L1252.5 252.3ZM1388.9 255.0L1395.0 257.0L1398.4 261.1L1391.6 257.7ZM1420.1 273.3L1422.8 271.6L1422.2 274.7ZM1407.2 252.9L1412.0 252.3L1410.0 254.3ZM1306.1 141.0L1314.9 138.3L1317.0 141.0L1314.3 145.7L1307.5 144.4ZM1298.0 142.3L1304.1 142.3L1304.8 145.0L1300.0 145.4ZM1354.3 130.8L1360.4 126.0L1359.7 129.4L1355.7 132.8ZM1342.8 137.6L1347.5 130.1L1344.8 135.5ZM1379.4 123.3L1387.6 121.3L1389.6 122.6L1382.1 125.4ZM1381.5 119.3L1387.6 118.6L1386.2 120.6ZM1181.3 97.5L1187.4 96.2L1186.0 98.9ZM1220.6 107.7L1224.7 107.0L1223.3 112.5L1220.6 110.4ZM1209.1 117.9L1213.8 117.2L1211.8 119.6ZM1184.0 124.0L1189.4 122.0L1188.0 126.0L1182.6 130.1L1181.3 128.1ZM1581.0 31.7L1591.1 24.9L1601.3 20.9L1611.5 15.4L1618.3 11.4L1628.5 6.6L1638.6 1.9L1686.1 -3.6L1692.9 -0.2L1659.0 6.6L1642.0 10.7L1628.5 16.8L1611.5 22.2L1608.1 30.4L1621.7 39.2L1604.7 39.9L1594.5 35.8ZM1559.2 48.7L1567.4 47.3L1572.8 50.0L1566.0 52.8ZM1628.5 41.9L1635.2 41.2L1640.7 45.3L1633.2 46.0ZM2161.2 6.6L2181.5 1.9L2215.4 5.9L2249.4 8.6L2222.2 11.4L2195.1 10.7L2174.7 12.0ZM2181.5 17.5L2195.1 17.5L2205.3 22.2L2188.3 21.5ZM1703.1 20.2L1716.7 20.2L1713.3 23.6ZM2195.1 150.5L2201.2 151.8L2203.9 162.7L2203.9 172.9L2207.3 183.0L2213.4 187.1L2203.9 188.5L2200.5 198.0L2205.3 202.7L2200.5 202.7L2195.8 207.5L2194.4 200.0L2195.8 191.2L2195.8 179.6L2193.1 167.4L2193.7 157.3ZM2181.5 232.6L2183.6 225.8L2190.3 225.1L2193.1 217.0L2195.1 210.2L2203.2 217.0L2212.1 220.4L2218.2 218.3L2218.8 225.1L2212.1 227.8L2203.9 233.9L2193.7 230.5L2188.3 231.2L2188.3 236.0L2183.6 238.0ZM2187.6 237.3L2191.7 238.0L2194.4 247.5L2191.7 257.7L2188.3 261.1L2187.6 268.5L2185.6 274.7L2187.6 276.7L2181.5 281.4L2180.2 277.4L2176.1 280.1L2173.4 284.2L2169.3 284.2L2161.2 284.2L2160.5 281.4L2157.8 286.9L2153.0 292.3L2148.3 288.9L2149.6 284.2L2140.8 284.2L2130.6 286.9L2120.4 288.9L2119.8 285.5L2127.2 281.4L2134.0 277.4L2144.2 277.4L2153.0 277.4L2159.1 271.9L2161.2 265.2L2163.2 269.2L2171.3 265.2L2177.4 259.7L2180.8 250.9L2181.5 243.4L2183.6 239.4ZM2129.3 292.3L2132.7 287.5L2140.8 285.5L2145.6 289.6L2142.2 293.0L2137.4 291.6L2134.0 296.4ZM2112.3 293.7L2119.8 288.9L2125.9 291.6L2126.6 297.0L2122.5 305.9L2118.4 308.6L2115.0 306.5L2115.0 299.8L2111.6 297.0ZM2052.6 349.3L2056.7 347.3L2058.7 349.3L2056.7 356.1L2053.3 364.2L2051.2 370.0L2047.2 364.2L2046.5 359.5ZM1969.1 388.7L1974.5 383.9L1982.0 382.6L1984.7 385.9L1981.3 391.4L1974.5 395.4L1969.1 393.4ZM2087.9 293.0L2092.6 291.6L2091.9 293.0L2088.6 293.7ZM1773.7 452.4L1776.4 453.8L1782.5 461.3L1787.3 469.4L1785.9 474.8L1778.4 478.6L1775.0 476.9L1773.0 471.4L1773.0 463.3ZM2049.9 393.4L2058.7 394.8L2061.4 403.6L2056.7 410.4L2056.7 417.2L2061.4 423.3L2068.2 424.6L2073.6 432.1L2069.6 431.4L2063.4 426.7L2056.7 424.6L2050.6 424.6L2049.9 419.2L2046.5 417.8L2045.1 409.0L2048.5 406.3L2048.5 400.2ZM2048.5 428.0L2053.9 428.0L2056.0 433.4L2053.3 436.2ZM2026.8 461.9L2035.6 453.8L2042.4 447.0L2043.8 441.6L2040.4 448.4L2034.3 456.5ZM2058.7 438.9L2066.8 440.9L2063.4 447.7L2059.4 447.7ZM2062.1 451.1L2068.2 445.0L2069.6 448.4L2066.8 457.2ZM2068.2 454.5L2072.9 442.9L2072.9 449.1ZM2075.0 434.1L2081.8 434.1L2085.2 442.9L2081.1 449.7L2078.4 450.4L2075.7 445.0L2079.1 440.9ZM2071.6 452.4L2077.0 450.4L2076.3 453.8ZM2059.4 471.4L2061.4 464.7L2068.9 459.9L2077.7 461.3L2082.4 452.4L2088.6 458.6L2090.6 469.4L2087.9 476.2L2082.4 472.8L2084.5 480.9L2073.6 476.9L2072.9 468.1L2066.2 468.1ZM1971.2 508.8L1980.0 507.4L1986.8 502.7L1998.3 497.2L2005.1 487.7L2015.3 481.6L2023.4 472.1L2030.2 475.5L2040.4 483.7L2032.9 489.8L2028.8 495.2L2031.5 505.4L2039.0 512.2L2030.9 513.5L2028.8 522.3L2022.0 529.1L2020.7 539.3L2018.7 546.1L2009.2 546.8L2003.0 542.0L1991.5 542.0L1979.3 538.6L1977.9 528.5L1971.8 522.3L1971.2 515.6ZM1878.2 480.9L1893.1 483.7L1901.3 493.2L1912.8 503.3L1921.6 504.7L1932.5 514.2L1935.2 525.7L1940.6 531.2L1950.8 538.6L1950.1 549.5L1949.4 558.3L1941.3 557.0L1933.8 552.2L1925.7 546.1L1916.9 535.9L1912.8 525.7L1904.0 516.9L1901.3 507.4L1891.1 497.2L1879.5 487.1ZM1945.4 565.1L1951.5 559.0L1957.6 559.3L1967.8 563.1L1981.3 565.8L1984.7 562.4L1995.6 565.8L2007.8 571.9L2007.8 577.3L1996.3 576.0L1984.7 574.6L1969.8 571.2L1954.2 569.2ZM2008.5 574.6L2015.9 574.6L2013.2 578.7ZM2018.7 576.0L2023.4 575.3L2022.0 579.3ZM2024.1 576.6L2033.6 575.3L2039.7 577.3L2035.6 579.3L2025.4 580.0ZM2044.4 576.6L2056.0 576.6L2065.5 575.3L2064.8 578.0L2052.6 579.3L2045.1 578.7ZM2039.0 583.4L2047.2 582.7L2051.2 587.5L2045.8 588.2ZM2069.6 588.8L2075.7 582.1L2083.8 577.3L2095.3 576.0L2089.9 581.4L2079.7 585.5L2072.9 588.8ZM2044.4 513.5L2051.2 510.1L2064.8 512.8L2076.3 512.2L2081.1 508.1L2076.3 516.2L2066.2 515.6L2052.6 516.2L2046.5 523.7L2053.9 525.7L2068.2 524.4L2059.4 530.5L2057.3 535.9L2062.8 542.7L2067.5 548.1L2064.1 550.2L2056.0 547.5L2052.6 537.3L2048.5 539.3L2048.5 556.3L2042.4 556.3L2042.4 542.7L2038.3 537.3L2044.4 519.6ZM2096.7 506.7L2100.1 504.0L2104.8 512.2L2100.1 516.2L2101.4 523.7L2098.1 516.9ZM2100.1 540.7L2110.3 538.0L2119.1 541.3L2110.3 542.0ZM2086.5 540.7L2094.7 540.7L2092.6 544.7L2087.2 543.4ZM1945.4 531.2L1952.2 529.8L1955.5 538.6L1949.4 535.9ZM2120.4 524.4L2130.6 521.7L2140.8 524.4L2142.2 534.6L2147.6 541.3L2157.8 533.9L2167.9 529.8L2181.5 535.2L2188.3 536.6L2201.9 542.0L2212.1 544.7L2220.9 552.9L2229.0 559.7L2234.5 564.4L2230.4 566.5L2237.2 573.2L2244.6 580.0L2252.8 588.2L2249.4 590.9L2235.8 588.2L2228.3 582.1L2222.2 573.9L2212.1 570.5L2205.3 575.3L2201.9 581.4L2191.7 581.4L2181.5 574.6L2169.3 575.3L2166.6 568.5L2172.7 565.1L2167.9 556.3L2154.4 550.2L2144.2 546.1L2134.0 546.8L2132.7 540.7L2127.2 538.0L2137.4 535.2L2128.6 532.5L2120.4 528.5ZM2237.8 557.0L2249.4 556.3L2259.6 547.5L2265.0 548.1L2263.0 554.2L2256.2 559.7L2246.0 561.7ZM2254.8 537.3L2263.0 541.3L2269.7 549.5L2267.7 550.2L2259.6 541.3ZM2280.6 555.6L2286.7 559.7L2289.4 565.1L2284.7 563.1ZM2314.5 582.1L2322.7 584.1L2318.6 586.1ZM2321.3 576.0L2326.1 582.1L2324.0 583.4ZM2344.4 655.3L2354.6 661.5L2364.7 670.3L2358.0 668.2L2347.8 660.1ZM2362.0 620.7L2366.1 622.8L2364.7 625.5ZM2366.8 627.5L2370.2 630.9L2367.5 631.6ZM2434.6 637.7L2443.5 637.7L2443.5 642.5L2434.6 641.8ZM2444.1 633.0L2453.0 628.9L2453.0 633.0L2446.2 634.3ZM2213.4 795.1L2222.2 797.9L2229.0 797.2L2237.8 796.5L2237.8 804.0L2235.8 812.1L2229.0 814.8L2222.2 814.1L2217.5 807.4L2214.1 800.6ZM2403.4 752.4L2407.5 756.5L2414.3 758.5L2417.7 765.3L2417.7 769.4L2422.4 766.6L2425.1 772.7L2432.6 776.1L2442.8 774.4L2439.4 781.6L2438.7 785.0L2432.6 787.0L2431.9 793.1L2425.8 799.2L2420.4 801.2L2417.7 799.2L2419.7 793.8L2419.0 789.7L2412.2 787.7L2410.9 785.6L2416.3 782.2L2417.0 776.8L2416.3 770.0L2413.6 765.3L2406.1 757.8ZM2403.4 793.8L2406.1 799.2L2412.2 797.2L2414.3 801.9L2410.2 806.7L2404.1 812.1L2406.1 816.2L2400.0 817.5L2393.9 820.2L2392.6 824.3L2389.9 830.4L2383.7 834.5L2374.2 835.2L2368.1 832.5L2361.3 830.4L2364.7 824.3L2370.2 820.2L2374.2 816.9L2385.1 810.7L2393.2 806.7L2395.3 801.9L2399.4 795.8ZM2368.1 837.9L2372.9 836.5L2372.2 839.2ZM2158.4 761.2L2165.2 760.5L2168.6 762.6L2161.2 763.2ZM2115.7 596.3L2123.8 595.6L2122.5 599.0L2116.4 599.0ZM2157.1 612.6L2160.5 612.6L2159.8 616.0L2157.1 615.3ZM2228.3 217.0L2235.8 211.5L2241.2 210.2L2234.5 214.3ZM2218.2 221.7L2224.3 217.0L2222.2 220.4ZM2285.3 179.0L2290.8 174.2L2289.4 177.6ZM112.5 148.4L122.6 145.7L123.3 148.4L115.2 149.8ZM97.5 156.6L103.6 152.5L103.0 155.9ZM85.3 159.3L92.8 155.9L91.4 158.6ZM43.9 166.1L50.7 164.0L49.4 166.1ZM30.4 168.1L34.4 166.4L33.8 168.5ZM1697.7 851.5L1703.1 849.4L1709.9 852.1L1707.9 855.5L1701.7 855.5ZM612.5 523.0L614.0 521.9L615.4 523.0L614.0 524.2ZM617.0 523.0L618.7 521.7L620.4 523.0L618.7 524.3ZM609.6 519.0L611.2 517.7L612.9 519.0L611.2 520.2ZM623.3 525.1L624.1 524.1L625.0 525.1L624.1 526.0ZM215.8 638.4L217.7 637.3L219.5 638.4L217.7 639.5ZM201.6 632.3L203.4 631.6L205.2 632.3L203.4 632.9ZM280.1 580.0L281.4 579.3L282.8 580.0L281.4 580.8ZM286.8 585.5L288.2 584.4L289.6 585.5L288.2 586.5ZM246.7 627.5L247.5 626.8L248.3 627.5L247.5 628.2ZM266.8 634.3L267.9 633.0L269.0 634.3L267.9 635.6ZM293.4 654.7L295.0 654.0L296.7 654.7L295.0 655.3ZM239.0 620.7L240.7 620.1L242.4 620.7L240.7 621.4ZM252.8 637.7L254.3 637.1L255.8 637.7L254.3 638.4ZM277.2 644.5L278.0 643.2L278.9 644.5L278.0 645.7ZM307.5 664.8L308.6 664.1L309.6 664.8L308.6 665.6ZM228.7 678.4L230.5 677.2L232.4 678.4L230.5 679.7ZM63.2 611.9L64.3 610.6L65.4 611.9L64.3 613.2ZM71.7 616.0L73.1 614.9L74.5 616.0L73.1 617.1ZM42.9 661.5L43.9 660.1L45.0 661.5L43.9 662.8ZM49.2 645.8L50.7 644.5L52.3 645.8L50.7 647.2ZM145.3 662.8L147.1 662.0L148.9 662.8L147.1 663.6ZM162.2 506.1L163.4 505.4L164.6 506.1L163.4 506.7ZM144.7 580.0L145.7 579.4L146.7 580.0L145.7 580.6ZM64.5 581.4L65.6 580.3L66.8 581.4L65.6 582.4ZM22.8 616.0L23.6 614.9L24.4 616.0L23.6 617.1ZM34.6 609.2L35.8 608.4L37.0 609.2L35.8 610.0ZM1039.8 257.7L1041.5 256.8L1043.2 257.7L1041.5 258.6ZM1057.3 262.4L1058.4 261.5L1059.6 262.4L1058.4 263.4ZM1045.3 256.3L1046.9 255.7L1048.5 256.3L1046.9 256.9ZM1017.9 250.9L1019.8 250.3L1021.6 250.9L1019.8 251.5ZM1114.5 297.0L1116.1 295.8L1117.7 297.0L1116.1 298.3ZM791.6 299.8L792.4 298.6L793.3 299.8L792.4 300.9ZM1725.6 491.8L1726.9 490.8L1728.1 491.8L1726.9 492.8ZM1729.4 505.4L1730.3 504.8L1731.1 505.4L1730.3 506.0ZM1727.2 519.0L1728.2 517.6L1729.2 519.0L1728.2 520.3ZM1726.5 474.8L1727.5 473.7L1728.6 474.8L1727.5 476.0ZM1721.0 568.5L1722.8 567.2L1724.6 568.5L1722.8 569.8ZM1606.9 550.2L1608.1 549.3L1609.3 550.2L1608.1 551.0ZM1859.8 434.1L1861.2 433.0L1862.6 434.1L1861.2 435.3ZM1861.0 440.9L1861.9 439.8L1862.8 440.9L1861.9 442.1ZM1860.9 428.7L1862.6 427.5L1864.3 428.7L1862.6 429.9ZM1867.2 468.1L1868.0 466.7L1868.9 468.1L1868.0 469.4ZM1866.4 459.2L1867.3 458.4L1868.2 459.2L1867.3 460.1ZM1173.7 37.1L1175.2 35.9L1176.6 37.1L1175.2 38.4ZM2212.9 427.3L2214.1 426.0L2215.3 427.3L2214.1 428.6ZM2142.8 468.7L2144.2 467.9L2145.6 468.7L2144.2 469.5ZM2219.0 415.8L2220.2 415.1L2221.4 415.8L2220.2 416.5ZM2304.1 472.1L2305.0 471.5L2305.9 472.1L2305.0 472.8ZM2260.0 468.7L2261.6 467.4L2263.2 468.7L2261.6 470.1ZM2392.3 470.8L2393.2 470.2L2394.2 470.8L2393.2 471.4ZM2403.6 509.4L2405.5 508.5L2407.3 509.4L2405.5 510.4ZM2362.8 522.3L2364.1 521.6L2365.3 522.3L2364.1 523.1ZM2446.1 576.6L2447.5 575.4L2449.0 576.6L2447.5 577.8ZM816.2 419.9L817.5 419.0L818.8 419.9L817.5 420.8ZM813.3 409.0L814.1 407.7L815.0 409.0L814.1 410.3ZM816.7 428.7L817.5 427.8L818.4 428.7L817.5 429.6ZM813.8 414.4L815.5 413.8L817.2 414.4L815.5 415.1ZM803.7 401.6L805.3 400.2L806.9 401.6L805.3 402.9ZM811.3 436.8L812.8 435.7L814.3 436.8L812.8 438.0ZM826.1 429.4L827.0 428.5L828.0 429.4L827.0 430.3ZM767.0 436.2L768.0 434.9L769.0 436.2L768.0 437.4ZM762.1 436.2L763.2 435.2L764.4 436.2L763.2 437.1ZM754.6 434.1L756.5 432.9L758.4 434.1L756.5 435.4ZM789.9 394.8L791.7 393.9L793.6 394.8L791.7 395.7ZM741.5 371.7L742.9 370.6L744.2 371.7L742.9 372.8ZM731.4 366.3L732.7 365.5L734.0 366.3L732.7 367.0ZM724.7 356.1L725.9 355.4L727.2 356.1L725.9 356.7ZM714.5 352.7L715.7 351.3L717.0 352.7L715.7 354.0ZM717.3 359.5L719.1 358.4L721.0 359.5L719.1 360.5ZM678.4 388.0L679.8 387.2L681.1 388.0L679.8 388.8ZM2380.8 651.3L2381.7 650.5L2382.6 651.3L2381.7 652.0ZM2371.9 639.1L2373.6 637.8L2375.2 639.1L2373.6 640.3ZM2360.1 597.7L2361.3 596.5L2362.6 597.7L2361.3 598.9ZM2315.6 597.0L2317.2 595.9L2318.9 597.0L2317.2 598.1ZM2298.7 574.6L2300.3 573.4L2301.8 574.6L2300.3 575.8ZM2309.2 573.2L2310.5 572.1L2311.7 573.2L2310.5 574.4ZM2370.4 715.7L2371.5 714.8L2372.6 715.7L2371.5 716.7ZM2308.8 732.7L2310.5 731.6L2312.1 732.7L2310.5 733.8ZM32.6 817.5L33.8 816.2L34.9 817.5L33.8 818.8ZM2443.3 856.2L2444.8 855.2L2446.3 856.2L2444.8 857.2ZM2357.1 863.0L2358.0 862.0L2358.8 863.0L2358.0 864.0ZM2378.6 875.2L2379.7 874.1L2380.8 875.2L2379.7 876.3ZM1486.7 837.2L1488.0 836.0L1489.3 837.2L1488.0 838.4ZM1580.8 833.8L1582.3 832.6L1583.8 833.8L1582.3 835.0ZM1756.2 781.6L1757.4 780.5L1758.6 781.6L1757.4 782.6ZM1274.7 517.6L1276.3 516.4L1277.9 517.6L1276.3 518.8ZM1280.5 508.1L1281.7 506.9L1282.9 508.1L1281.7 509.3ZM1267.7 528.5L1269.5 527.3L1271.2 528.5L1269.5 529.6ZM1190.9 627.5L1192.8 626.2L1194.7 627.5L1192.8 628.8ZM1132.4 572.6L1133.8 571.6L1135.1 572.6L1133.8 573.5ZM1162.6 792.4L1163.6 791.2L1164.6 792.4L1163.6 793.6ZM1146.2 770.7L1148.0 769.8L1149.8 770.7L1148.0 771.6ZM1887.5 601.7L1889.0 600.6L1890.6 601.7L1889.0 602.9ZM1947.2 590.2L1948.8 589.5L1950.4 590.2L1948.8 590.9ZM487.4 702.9L489.1 701.8L490.8 702.9L489.1 703.9ZM687.1 747.6L688.6 746.8L690.1 747.6L688.6 748.5ZM695.3 747.0L696.7 745.8L698.2 747.0L696.7 748.1ZM2088.4 493.2L2089.9 492.0L2091.4 493.2L2089.9 494.3ZM2082.3 498.6L2083.1 497.9L2084.0 498.6L2083.1 499.3ZM2094.0 523.7L2095.3 522.6L2096.6 523.7L2095.3 524.8ZM2112.6 531.8L2113.7 530.7L2114.7 531.8L2113.7 532.9ZM2142.7 559.7L2144.2 559.1L2145.7 559.7L2144.2 560.2ZM2122.5 570.5L2123.8 569.8L2125.2 570.5L2123.8 571.3ZM2111.4 573.2L2112.3 572.6L2113.2 573.2L2112.3 573.9ZM2092.1 574.6L2093.3 573.9L2094.5 574.6L2093.3 575.3ZM2068.5 529.1L2069.6 528.6L2070.6 529.1L2069.6 529.7ZM2056.7 579.3L2058.0 578.5L2059.3 579.3L2058.0 580.2ZM2195.0 335.7L2196.4 334.7L2197.9 335.7L2196.4 336.8ZM2189.3 350.7L2190.3 349.4L2191.4 350.7L2190.3 351.9ZM2109.5 326.9L2110.3 326.0L2111.1 326.9L2110.3 327.8ZM2099.0 339.1L2100.1 338.2L2101.2 339.1L2100.1 340.0ZM2097.8 340.5L2098.7 339.3L2099.7 340.5L2098.7 341.7ZM2073.1 353.4L2074.3 352.8L2075.5 353.4L2074.3 353.9ZM2119.0 308.6L2120.4 308.0L2121.9 308.6L2120.4 309.2ZM2115.6 312.7L2117.1 311.8L2118.5 312.7L2117.1 313.5ZM2281.9 179.6L2283.3 178.3L2284.8 179.6L2283.3 181.0ZM2268.0 189.8L2269.7 188.9L2271.4 189.8L2269.7 190.7ZM2261.3 200.0L2263.0 198.9L2264.6 200.0L2263.0 201.1ZM2251.6 205.4L2252.8 204.8L2254.0 205.4L2252.8 206.1ZM2244.5 207.5L2246.0 206.5L2247.4 207.5L2246.0 208.5ZM76.0 132.1L77.9 130.8L79.7 132.1L77.9 133.5ZM79.1 134.9L80.6 134.0L82.0 134.9L80.6 135.7ZM59.1 164.0L60.9 163.5L62.7 164.0L60.9 164.6ZM22.6 167.4L23.6 166.4L24.5 167.4L23.6 168.4ZM2444.7 170.1L2446.2 169.5L2447.7 170.1L2446.2 170.8ZM2404.0 160.0L2405.5 158.7L2407.0 160.0L2405.5 161.2ZM2356.7 145.7L2358.0 144.8L2359.2 145.7L2358.0 146.6ZM2367.1 147.8L2368.1 147.0L2369.2 147.8L2368.1 148.5ZM1370.8 262.4L1372.6 261.6L1374.5 262.4L1372.6 263.3ZM1369.4 259.0L1371.3 257.8L1373.1 259.0L1371.3 260.3ZM1365.1 250.2L1366.5 249.5L1368.0 250.2L1366.5 251.0ZM1402.0 268.5L1403.8 267.6L1405.7 268.5L1403.8 269.5ZM1401.2 267.2L1402.5 266.4L1403.8 267.2L1402.5 268.0ZM1412.1 262.8L1414.0 261.8L1415.9 262.8L1414.0 263.7ZM1406.8 258.4L1407.9 257.4L1409.0 258.4L1407.9 259.3ZM1401.5 248.2L1402.5 247.1L1403.4 248.2L1402.5 249.2ZM1397.1 242.8L1398.4 242.0L1399.7 242.8L1398.4 243.5ZM1327.5 275.3L1329.2 274.1L1330.9 275.3L1329.2 276.5ZM1312.1 269.2L1312.9 268.2L1313.7 269.2L1312.9 270.2ZM1294.8 227.2L1295.9 225.8L1297.1 227.2L1295.9 228.5ZM1239.3 255.0L1241.0 254.2L1242.6 255.0L1241.0 255.7ZM1257.5 247.5L1258.6 246.8L1259.7 247.5L1258.6 248.2ZM1186.8 140.3L1188.7 139.5L1190.6 140.3L1188.7 141.1ZM1187.9 136.2L1189.4 135.3L1190.9 136.2L1189.4 137.1ZM1198.7 151.1L1200.3 150.1L1201.8 151.1L1200.3 152.2ZM1221.0 174.9L1222.7 174.3L1224.3 174.9L1222.7 175.5ZM1214.9 185.1L1216.6 184.3L1218.2 185.1L1216.6 185.9ZM1212.4 183.4L1213.8 182.6L1215.2 183.4L1213.8 184.2ZM1287.3 147.8L1288.5 146.8L1289.6 147.8L1288.5 148.7ZM1332.0 145.0L1333.3 144.2L1334.6 145.0L1333.3 145.9ZM1365.6 110.4L1367.2 109.4L1368.8 110.4L1367.2 111.5ZM1365.0 109.1L1365.8 108.3L1366.7 109.1L1365.8 109.8ZM1544.4 582.7L1545.7 581.4L1547.0 582.7L1545.7 584.0ZM1531.0 601.7L1532.8 600.8L1534.6 601.7L1532.8 602.7ZM1537.4 605.8L1538.2 604.6L1539.0 605.8L1538.2 607.0ZM1600.0 626.8L1601.3 625.8L1602.6 626.8L1601.3 627.9ZM1660.1 652.6L1661.7 651.6L1663.3 652.6L1661.7 653.7Z"/></clipPath>
<clipPath id="north"><rect x="10" y="10" width="2443" height="79.6" transform="translate(0,-10)"/></clipPath>
<path id="mp" d="M88.7 63.5L99.0 76.9M88.7 63.5L70.5 83.3M70.5 83.3L98.9 88.1M99.0 76.9L98.9 88.1M24.0 142.6L5.6 136.8M24.0 142.6L26.4 141.5M5.6 136.8L5.4 114.9M26.4 141.5L26.9 114.3M26.9 114.3L5.4 114.9M70.0 83.4L68.1 94.1M70.0 83.4L70.5 83.3M82.6 110.6L101.3 92.0M82.6 110.6L75.7 111.3M101.3 92.0L98.9 88.1M75.7 111.3L68.1 94.1M87.3 113.6L108.1 119.0M87.3 113.6L95.9 136.2M108.1 119.0L103.6 139.7M95.9 136.2L103.6 139.7M82.6 110.6L87.3 113.6M103.8 93.0L101.3 92.0M103.8 93.0L112.1 99.0M112.1 99.0L113.2 114.2M113.2 114.2L108.1 119.0M103.8 93.0L122.5 71.0M99.0 76.9L114.4 67.0M114.4 67.0L122.5 71.0M112.1 99.0L131.8 91.5M131.8 91.5L126.4 71.4M122.5 71.0L126.4 71.4M113.2 114.2L134.4 122.4M131.8 91.5L132.4 91.9M132.4 91.9L142.5 111.3M142.5 111.3L134.4 122.4M103.6 139.7L109.8 141.4M103.6 139.7L103.6 139.7M109.8 141.4L135.5 134.5M134.4 122.4L135.5 134.5M157.4 163.6L161.5 139.4M142.5 111.3L160.8 109.2M161.5 139.4L136.9 136.2M135.5 134.5L136.9 136.2M165.4 114.9L160.8 109.2M24.0 142.6L21.7 159.1M26.4 141.5L45.6 141.5M21.7 159.1L31.6 169.0M45.6 141.5L47.4 154.6M47.4 154.6L46.2 157.3M46.2 157.3L31.6 169.0M86.5 160.4L87.9 177.0M86.5 160.4L75.9 155.6M75.9 155.6L65.2 164.0M65.2 164.0L47.4 154.6M46.2 157.3L52.7 181.9M45.0 25.7L38.2 25.7M45.0 25.7L54.6 50.4M54.6 50.4L46.9 61.0M46.9 61.0L26.3 42.3M26.3 42.3L38.2 25.7M45.5 93.0L45.1 69.7M45.5 93.0L24.3 90.8M45.1 69.7L32.7 74.0M32.7 74.0L22.5 88.5M24.3 90.8L22.5 88.5M60.6 74.1L47.0 68.2M60.6 74.1L70.0 83.4M47.0 68.2L45.1 69.7M68.1 94.1L48.4 98.8M48.4 98.8L45.5 93.0M32.4 110.3L24.3 90.8M32.4 110.3L41.7 111.3M48.4 98.8L41.7 111.3M-2.6 3.6L2.5 9.9M-2.6 3.6L1.5 -20.6M2.5 9.9L21.7 -0.9M21.7 -0.9L24.0 -17.4M-19.5 26.7L2.2 22.4M2.2 22.4L3.1 19.7M3.1 19.7L2.5 9.9M31.6 9.0L32.7 18.4M31.6 9.0L21.7 -0.9M32.7 18.4L3.1 19.7M118.3 155.3L135.2 158.3M118.3 155.3L110.8 167.0M136.4 160.8L135.2 158.3M136.4 160.8L128.5 179.2M109.8 141.4L118.3 155.3M136.9 136.2L135.2 158.3M95.8 154.9L110.8 167.0M95.8 154.9L103.6 139.7M157.4 163.6L136.4 160.8M95.8 154.9L86.5 160.4M54.6 50.4L72.6 43.8M60.6 74.1L82.1 47.4M46.9 61.0L47.0 68.2M72.6 43.8L82.1 47.4M88.7 63.5L88.7 47.9M82.1 47.4L88.7 47.9M132.4 91.9L159.2 79.9M160.8 109.2L166.2 89.2M166.2 89.2L159.2 79.9M155.8 64.7L133.3 64.9M155.8 64.7L157.9 67.7M133.3 64.9L126.4 71.4M157.9 67.7L159.2 79.9M1.5 139.4L-2.6 163.6M1.5 139.4L-23.1 136.2M1.5 139.4L5.6 136.8M21.7 159.1L2.5 169.9M74.2 113.6L43.1 113.0M74.2 113.6L70.3 133.6M70.3 133.6L68.5 135.8M68.5 135.8L49.1 138.2M43.1 113.0L49.1 138.2M75.7 111.3L74.2 113.6M41.7 111.3L43.1 113.0M95.9 136.2L70.3 133.6M75.9 155.6L68.5 135.8M45.6 141.5L49.1 138.2M32.4 110.3L26.9 114.3M7.5 38.1L25.2 42.5M7.5 38.1L-3.0 51.7M25.2 42.5L18.8 63.6M18.8 63.6L-2.1 67.7M26.3 42.3L25.2 42.5M38.2 25.7L32.7 18.4M2.2 22.4L7.5 38.1M32.7 74.0L18.8 63.6M72.6 43.8L62.6 21.8M88.7 47.9L92.5 45.3M62.6 21.8L87.9 17.0M87.9 17.0L95.3 25.8M95.3 25.8L92.5 45.3M114.4 67.0L105.6 48.9M105.6 48.9L92.5 45.3M178.8 63.6L157.9 67.7M6.2 89.2L0.8 109.2M6.2 89.2L-0.8 79.9M-0.8 79.9L-27.6 91.9M0.8 109.2L-17.5 111.3M5.4 114.9L0.8 109.2M22.5 88.5L6.2 89.2M-2.1 67.7L-0.8 79.9M140.5 26.7L140.6 41.4M140.5 26.7L128.5 19.2M128.5 19.2L124.3 20.5M124.3 20.5L119.9 43.8M140.6 41.4L128.7 48.4M128.7 48.4L119.9 43.8M95.3 25.8L113.5 17.3M105.6 48.9L119.9 43.8M113.5 17.3L124.3 20.5M155.8 64.7L157.0 51.7M133.3 64.9L128.7 48.4M157.0 51.7L140.6 41.4M157.0 51.7L167.5 38.1M140.5 26.7L162.2 22.4M65.2 4.0L47.4 -5.4M65.2 4.0L61.3 21.0M52.7 21.9L46.2 -2.7M52.7 21.9L61.3 21.0M75.9 -4.4L65.2 4.0M62.6 21.8L61.3 21.0M87.9 17.0L86.5 0.4M86.5 0.4L75.9 -4.4M45.0 25.7L52.7 21.9M31.6 9.0L46.2 -2.7M86.5 0.4L95.8 -5.1M113.5 17.3L110.8 7.0M95.8 -5.1L110.8 7.0M110.8 7.0L118.3 -4.7M161.5 -20.6L157.4 3.6M157.4 3.6L136.4 0.8M136.4 0.8L135.2 -1.7M162.5 9.9L157.4 3.6M128.5 19.2L136.4 0.8" fill="none" stroke="#929292"/>
<pattern id="ma" width="160" height="160" patternUnits="userSpaceOnUse"><use href="#mp" stroke-width="1.0"/></pattern>
<pattern id="mb" width="160" height="160" patternUnits="userSpaceOnUse" patternTransform="scale(0.48)"><use href="#mp" stroke-width="2.1"/></pattern>
<pattern id="mc" width="160" height="160" patternUnits="userSpaceOnUse" patternTransform="scale(0.75) rotate(20)"><use href="#mp" stroke-width="1.35"/></pattern>
<pattern id="md" width="160" height="160" patternUnits="userSpaceOnUse" patternTransform="scale(1.4 1.1) rotate(-12)"><use href="#mp" stroke-width="0.75"/></pattern>
<filter id="vci" x="0" y="0" width="2460" height="910" filterUnits="userSpaceOnUse" color-interpolation-filters="sRGB">
<feGaussianBlur in="SourceGraphic" stdDeviation="3.2" result="b"/>
<feTurbulence type="fractalNoise" baseFrequency="0.012" numOctaves="2" seed="7"/><feColorMatrix type="matrix" values="1 0 0 0 0  1 0 0 0 0  1 0 0 0 0  0 0 0 0 1" result="n1"/>
<feTurbulence type="fractalNoise" baseFrequency="0.05" numOctaves="2" seed="11"/><feColorMatrix type="matrix" values="1 0 0 0 0  1 0 0 0 0  1 0 0 0 0  0 0 0 0 1" result="n2"/>
<feTurbulence type="fractalNoise" baseFrequency="0.42" numOctaves="1" seed="5"/><feColorMatrix type="matrix" values="1 0 0 0 0  1 0 0 0 0  1 0 0 0 0  0 0 0 0 1" result="n3"/>
<feComposite in="n1" in2="n2" operator="arithmetic" k1="0" k2="0.250" k3="0.350" k4="0.2000" result="n12"/>
<feComposite in="n12" in2="n3" operator="arithmetic" k1="0" k2="1" k3="0.575" k4="-0.2875" result="n"/>
<feComposite in="b" in2="n" operator="arithmetic" k1="0" k2="1.4286" k3="2" k4="-1.2143" result="v"/>
<feComponentTransfer in="v" result="c">
<feFuncR type="discrete" tableValues="0.600 1.000 1.000 1.000 1.000 0.400 0.200 0.000 0.176"/>
<feFuncG type="discrete" tableValues="0.000 0.000 0.533 0.800 1.000 1.000 0.800 0.600 0.431"/>
<feFuncB type="discrete" tableValues="0.000 0.000 0.000 0.400 0.000 0.000 0.000 0.000 0.000"/>
<feFuncA type="linear" slope="0" intercept="1"/>
</feComponentTransfer>
<feFlood flood-color="#000" x="0" y="0" width="1" height="1" result="px"/>
<feComposite in="px" in2="px" operator="over" x="0" y="0" width="2" height="2" result="cell"/>
<feTile in="cell" result="grid"/>
<feComposite in="c" in2="grid" operator="in" result="s"/>
<feOffset in="s" dx="1" dy="0" result="s1"/>
<feMerge result="row"><feMergeNode in="s"/><feMergeNode in="s1"/></feMerge>
<feOffset in="row" dx="0" dy="1" result="r1"/>
<feMerge><feMergeNode in="row"/><feMergeNode in="r1"/></feMerge>
</filter>

<filter id="rag" x="-20%" y="-20%" width="140%" height="140%" color-interpolation-filters="sRGB">
<feTurbulence type="fractalNoise" baseFrequency="0.09" numOctaves="3" seed="3" result="t"/>
<feDisplacementMap in="SourceGraphic" in2="t" scale="16" xChannelSelector="R" yChannelSelector="G"/>
</filter>
<filter id="rag2" x="0" y="60" width="2460" height="60" filterUnits="userSpaceOnUse" color-interpolation-filters="sRGB">
<feTurbulence type="fractalNoise" baseFrequency="0.2" numOctaves="2" seed="9" result="t"/>
<feDisplacementMap in="SourceGraphic" in2="t" scale="5" xChannelSelector="R" yChannelSelector="G"/>
</filter>
<filter id="spk" x="-15%" y="-15%" width="130%" height="130%" color-interpolation-filters="sRGB">
<feTurbulence type="fractalNoise" baseFrequency="0.33" numOctaves="1" seed="21"/>
<feColorMatrix type="matrix" values="0 0 0 0 0  0 0 0 0 0  0 0 0 0 0  30 0 0 0 -15.6" result="a"/>
<feGaussianBlur in="SourceGraphic" stdDeviation="2.5" result="sg"/>
<feComposite in="sg" in2="a" operator="in"/>
<feComponentTransfer><feFuncA type="discrete" tableValues="0 0 1 1"/></feComponentTransfer>
</filter>
<filter id="spk3" x="-15%" y="-15%" width="130%" height="130%" color-interpolation-filters="sRGB">
<feTurbulence type="fractalNoise" baseFrequency="0.45" numOctaves="1" seed="77"/>
<feColorMatrix type="matrix" values="0 0 0 0 0  0 0 0 0 0  0 0 0 0 0  0 0 30 0 -19.8" result="a"/>
<feGaussianBlur in="SourceGraphic" stdDeviation="6" result="sg"/>
<feComposite in="sg" in2="a" operator="in"/>
<feComponentTransfer><feFuncA type="discrete" tableValues="0 0 1 1"/></feComponentTransfer>
</filter>
<filter id="rag4" x="-60%" y="-30%" width="220%" height="160%" color-interpolation-filters="sRGB">
<feTurbulence type="fractalNoise" baseFrequency="0.3" numOctaves="2" seed="13" result="t"/>
<feDisplacementMap in="SourceGraphic" in2="t" scale="8" xChannelSelector="R" yChannelSelector="G"/>
</filter>
<filter id="spk2" x="-15%" y="-15%" width="130%" height="130%" color-interpolation-filters="sRGB">
<feTurbulence type="fractalNoise" baseFrequency="0.4" numOctaves="1" seed="33"/>
<feColorMatrix type="matrix" values="0 0 0 0 0  0 0 0 0 0  0 0 0 0 0  0 30 0 0 -16.5" result="a"/>
<feGaussianBlur in="SourceGraphic" stdDeviation="2.5" result="sg"/>
<feComposite in="sg" in2="a" operator="in"/>
<feComponentTransfer><feFuncA type="discrete" tableValues="0 0 1 1"/></feComponentTransfer>
</filter>

</defs>
<rect x="0" y="0" width="2800" height="910" fill="#fff"/>
<g clip-path="url(#maparea)">
<g clip-path="url(#land)">
<g filter="url(#vci)">
<rect x="0" y="0" width="2800" height="910" fill="#a7a7a7"/>
<ellipse cx="480.0" cy="230.0" rx="330.0" ry="170.0" fill="#8d8d8d"/>
<ellipse cx="800.0" cy="620.0" rx="170.0" ry="280.0" fill="#a7a7a7"/>
<ellipse cx="1330.0" cy="180.0" rx="170.0" ry="110.0" fill="#999999"/>
<ellipse cx="1380.0" cy="350.0" rx="260.0" ry="90.0" fill="#939393"/>
<ellipse cx="1400.0" cy="560.0" rx="230.0" ry="200.0" fill="#afafaf"/>
<ellipse cx="1560.0" cy="340.0" rx="120.0" ry="110.0" fill="#939393"/>
<ellipse cx="1900.0" cy="180.0" rx="520.0" ry="120.0" fill="#8b8b8b"/>
<ellipse cx="1800.0" cy="380.0" rx="140.0" ry="110.0" fill="#a7a7a7"/>
<ellipse cx="2000.0" cy="330.0" rx="170.0" ry="120.0" fill="#ababab"/>
<ellipse cx="2080.0" cy="520.0" rx="260.0" ry="120.0" fill="#a3a3a3"/>
<ellipse cx="2230.0" cy="750.0" rx="170.0" ry="110.0" fill="#5e5e5e"/>
<ellipse cx="236.1" cy="107.2" rx="130.5" ry="9.3" fill="#484848"/>
<ellipse cx="118.0" cy="102.5" rx="18.6" ry="9.3" fill="#787878"/>
<ellipse cx="161.5" cy="124.3" rx="28.0" ry="10.9" fill="#9f9f9f" transform="rotate(-30 161.5 124.3)"/>
<ellipse cx="357.3" cy="136.7" rx="40.4" ry="24.9" fill="#3c3c3c" transform="rotate(45 357.3 136.7)"/>
<ellipse cx="400.7" cy="217.5" rx="18.6" ry="37.3" fill="#979797"/>
<ellipse cx="488.7" cy="115.9" rx="130.5" ry="18.6" fill="#606060"/>
<ellipse cx="420.4" cy="112.8" rx="40.4" ry="12.4" fill="#505050"/>
<ellipse cx="411.1" cy="150.1" rx="68.3" ry="8.7" fill="#383838" transform="rotate(10 411.1 150.1)"/>
<ellipse cx="541.5" cy="142.3" rx="65.2" ry="7.5" fill="#4e4e4e"/>
<ellipse cx="653.4" cy="143.9" rx="40.4" ry="17.1" fill="#999999"/>
<ellipse cx="746.6" cy="137.7" rx="52.8" ry="24.9" fill="#999999"/>
<ellipse cx="737.3" cy="106.6" rx="34.2" ry="9.3" fill="#666666"/>
<ellipse cx="578.8" cy="190.5" rx="28.0" ry="10.9" fill="#2a2a2a" transform="rotate(30 578.8 190.5)"/>
<ellipse cx="622.3" cy="199.8" rx="21.7" ry="9.3" fill="#303030" transform="rotate(10 622.3 199.8)"/>
<ellipse cx="675.1" cy="184.3" rx="52.8" ry="13.0" fill="#303030"/>
<ellipse cx="752.8" cy="190.5" rx="52.8" ry="14.9" fill="#363636"/>
<ellipse cx="686.0" cy="218.4" rx="14.0" ry="8.7" fill="#343434"/>
<ellipse cx="513.6" cy="179.6" rx="59.0" ry="12.4" fill="#c3c3c3" transform="rotate(8 513.6 179.6)"/>
<ellipse cx="482.5" cy="215.3" rx="34.2" ry="21.7" fill="#b7b7b7"/>
<ellipse cx="488.7" cy="221.5" rx="17.1" ry="12.4" fill="#cfcfcf"/>
<ellipse cx="550.9" cy="206.0" rx="28.0" ry="17.1" fill="#b3b3b3"/>
<ellipse cx="516.7" cy="160.0" rx="34.2" ry="8.7" fill="#999999"/>
<ellipse cx="473.2" cy="158.8" rx="15.5" ry="5.0" fill="#838383"/>
<ellipse cx="411.1" cy="215.3" rx="28.0" ry="31.1" fill="#999999"/>
<ellipse cx="420.4" cy="274.4" rx="34.2" ry="24.9" fill="#7e7e7e"/>
<ellipse cx="491.8" cy="296.1" rx="43.5" ry="21.7" fill="#626262"/>
<ellipse cx="547.8" cy="305.4" rx="24.9" ry="15.5" fill="#363636"/>
<ellipse cx="563.3" cy="265.0" rx="28.0" ry="18.6" fill="#8d8d8d"/>
<ellipse cx="569.5" cy="247.9" rx="12.4" ry="4.0" fill="#585858"/>
<ellipse cx="628.5" cy="246.4" rx="49.7" ry="28.0" fill="#898989"/>
<ellipse cx="678.2" cy="265.0" rx="34.2" ry="8.1" fill="#5e5e5e" transform="rotate(-25 678.2 265.0)"/>
<ellipse cx="721.7" cy="227.8" rx="31.1" ry="15.5" fill="#545454"/>
<ellipse cx="777.6" cy="206.0" rx="21.7" ry="15.5" fill="#6a6a6a"/>
<ellipse cx="659.6" cy="299.2" rx="37.3" ry="18.6" fill="#787878"/>
<ellipse cx="547.8" cy="311.1" rx="23.3" ry="18.6" fill="#424242"/>
<ellipse cx="549.3" cy="309.5" rx="10.9" ry="9.3" fill="#303030"/>
<ellipse cx="502.7" cy="335.9" rx="14.0" ry="27.3" fill="#444444" transform="rotate(-20 502.7 335.9)"/>
<ellipse cx="504.3" cy="332.8" rx="6.2" ry="14.0" fill="#303030" transform="rotate(-20 504.3 332.8)"/>
<ellipse cx="479.4" cy="311.1" rx="24.9" ry="12.4" fill="#565656"/>
<ellipse cx="463.9" cy="329.7" rx="40.4" ry="5.6" fill="#5c5c5c" transform="rotate(54 463.9 329.7)"/>
<ellipse cx="535.3" cy="360.8" rx="18.6" ry="24.9" fill="#787878"/>
<ellipse cx="566.4" cy="373.2" rx="10.9" ry="24.9" fill="#afafaf"/>
<ellipse cx="554.0" cy="398.0" rx="40.4" ry="9.3" fill="#787878" transform="rotate(15 554.0 398.0)"/>
<ellipse cx="628.5" cy="387.2" rx="12.4" ry="15.5" fill="#d3d3d3"/>
<ellipse cx="616.1" cy="416.7" rx="12.4" ry="7.8" fill="#6c6c6c"/>
<ellipse cx="650.3" cy="419.8" rx="15.5" ry="12.4" fill="#b7b7b7"/>
<ellipse cx="675.1" cy="454.0" rx="28.0" ry="7.8" fill="#cbcbcb" transform="rotate(20 675.1 454.0)"/>
<ellipse cx="678.2" cy="329.7" rx="9.3" ry="18.6" fill="#727272"/>
<ellipse cx="659.6" cy="292.4" rx="12.4" ry="12.4" fill="#646464"/>
<ellipse cx="724.8" cy="460.2" rx="15.5" ry="18.6" fill="#b9b9b9"/>
<ellipse cx="771.4" cy="469.5" rx="31.1" ry="15.5" fill="#5e5e5e"/>
<ellipse cx="765.2" cy="472.6" rx="14.0" ry="6.2" fill="#363636"/>
<ellipse cx="737.3" cy="497.5" rx="21.7" ry="15.5" fill="#6c6c6c"/>
<ellipse cx="780.7" cy="519.2" rx="24.9" ry="24.9" fill="#d5d5d5"/>
<ellipse cx="730.1" cy="107.2" rx="31.1" ry="10.9" fill="#686868"/>
<ellipse cx="754.9" cy="139.8" rx="59.0" ry="23.3" fill="#999999"/>
<ellipse cx="832.6" cy="161.5" rx="21.7" ry="12.4" fill="#585858"/>
<ellipse cx="708.3" cy="192.6" rx="65.2" ry="20.2" fill="#343434"/>
<ellipse cx="854.4" cy="191.1" rx="18.6" ry="10.9" fill="#3a3a3a"/>
<ellipse cx="789.1" cy="201.9" rx="28.0" ry="15.5" fill="#787878"/>
<ellipse cx="736.3" cy="226.8" rx="21.7" ry="15.5" fill="#606060"/>
<ellipse cx="702.1" cy="245.4" rx="31.1" ry="12.4" fill="#444444"/>
<ellipse cx="820.2" cy="553.6" rx="55.9" ry="40.4" fill="#d7d7d7"/>
<ellipse cx="832.6" cy="618.8" rx="24.9" ry="34.2" fill="#cfcfcf"/>
<ellipse cx="789.1" cy="494.6" rx="18.6" ry="15.5" fill="#cbcbcb"/>
<ellipse cx="776.7" cy="466.6" rx="31.1" ry="11.8" fill="#505050"/>
<ellipse cx="829.5" cy="494.6" rx="12.4" ry="12.4" fill="#5e5e5e"/>
<ellipse cx="739.4" cy="497.7" rx="15.5" ry="15.5" fill="#6c6c6c"/>
<ellipse cx="758.0" cy="562.9" rx="21.7" ry="14.0" fill="#707070"/>
<ellipse cx="695.9" cy="581.5" rx="9.3" ry="37.3" fill="#808080" transform="rotate(-25 695.9 581.5)"/>
<ellipse cx="919.6" cy="566.0" rx="28.0" ry="24.9" fill="#666666"/>
<ellipse cx="969.3" cy="569.1" rx="23.3" ry="26.4" fill="#303030"/>
<ellipse cx="891.6" cy="606.4" rx="15.5" ry="31.1" fill="#707070"/>
<ellipse cx="935.1" cy="637.5" rx="28.0" ry="31.1" fill="#999999"/>
<ellipse cx="946.0" cy="643.7" rx="9.3" ry="14.0" fill="#cbcbcb"/>
<ellipse cx="863.7" cy="659.2" rx="28.0" ry="18.6" fill="#858585"/>
<ellipse cx="807.8" cy="702.8" rx="10.9" ry="21.7" fill="#404040"/>
<ellipse cx="770.5" cy="796.0" rx="24.9" ry="40.4" fill="#505050"/>
<ellipse cx="764.3" cy="848.8" rx="18.6" ry="28.0" fill="#565656"/>
<ellipse cx="759.6" cy="842.6" rx="7.8" ry="7.8" fill="#808080"/>
<ellipse cx="814.0" cy="755.6" rx="31.1" ry="21.7" fill="#858585"/>
<ellipse cx="854.4" cy="743.2" rx="15.5" ry="10.9" fill="#686868"/>
<ellipse cx="876.1" cy="705.9" rx="24.9" ry="21.7" fill="#939393"/>
<ellipse cx="750.3" cy="727.7" rx="5.6" ry="46.6" fill="#7c7c7c"/>
<ellipse cx="739.4" cy="811.5" rx="6.8" ry="37.3" fill="#b3b3b3"/>
<ellipse cx="1286.4" cy="195.3" rx="87.0" ry="28.0" fill="#999999"/>
<ellipse cx="1311.2" cy="114.6" rx="46.6" ry="15.5" fill="#666666"/>
<ellipse cx="1277.1" cy="111.5" rx="10.9" ry="12.4" fill="#3c3c3c"/>
<ellipse cx="1298.8" cy="136.3" rx="12.4" ry="7.8" fill="#5e5e5e"/>
<ellipse cx="1469.7" cy="123.9" rx="52.8" ry="21.1" fill="#363636"/>
<ellipse cx="1398.2" cy="133.2" rx="24.9" ry="12.4" fill="#5e5e5e"/>
<ellipse cx="1342.3" cy="159.0" rx="57.5" ry="9.3" fill="#242424"/>
<ellipse cx="1441.7" cy="164.3" rx="65.2" ry="11.8" fill="#303030"/>
<ellipse cx="1205.6" cy="147.2" rx="24.9" ry="6.2" fill="#2c2c2c"/>
<ellipse cx="1205.6" cy="131.6" rx="12.4" ry="7.5" fill="#747474"/>
<ellipse cx="1221.2" cy="164.3" rx="18.6" ry="8.1" fill="#b3b3b3"/>
<ellipse cx="1176.1" cy="159.6" rx="14.0" ry="9.3" fill="#9f9f9f"/>
<ellipse cx="1205.6" cy="245.0" rx="37.3" ry="21.7" fill="#858585"/>
<ellipse cx="1466.6" cy="254.4" rx="52.8" ry="17.1" fill="#808080"/>
<ellipse cx="1205.6" cy="288.5" rx="34.2" ry="12.4" fill="#444444"/>
<ellipse cx="1267.8" cy="285.4" rx="37.3" ry="12.4" fill="#6a6a6a"/>
<ellipse cx="1500.7" cy="154.9" rx="21.7" ry="10.3" fill="#858585"/>
<ellipse cx="1214.7" cy="294.4" rx="53.5" ry="21.0" fill="#6a6a6a" transform="rotate(-15 1214.7 294.4)"/>
<ellipse cx="1195.6" cy="296.3" rx="32.5" ry="16.1" fill="#303030" transform="rotate(-25 1195.6 296.3)"/>
<ellipse cx="1272.1" cy="286.8" rx="42.1" ry="13.4" fill="#727272"/>
<ellipse cx="1168.8" cy="382.4" rx="21.0" ry="13.4" fill="#747474"/>
<ellipse cx="1230.0" cy="346.0" rx="42.1" ry="19.1" fill="#b7b7b7"/>
<ellipse cx="1260.6" cy="370.9" rx="21.0" ry="11.5" fill="#d5d5d5"/>
<ellipse cx="1348.6" cy="325.0" rx="22.9" ry="11.5" fill="#7a7a7a"/>
<ellipse cx="1325.6" cy="393.8" rx="32.5" ry="15.3" fill="#747474"/>
<ellipse cx="1428.9" cy="344.1" rx="26.8" ry="26.8" fill="#b3b3b3"/>
<ellipse cx="1425.0" cy="336.5" rx="13.4" ry="17.2" fill="#cfcfcf"/>
<ellipse cx="1195.6" cy="439.7" rx="99.4" ry="22.9" fill="#d5d5d5"/>
<ellipse cx="1314.1" cy="432.1" rx="42.1" ry="13.4" fill="#b7b7b7"/>
<ellipse cx="1405.9" cy="428.3" rx="65.0" ry="21.0" fill="#c7c7c7"/>
<ellipse cx="1214.7" cy="469.6" rx="80.3" ry="15.3" fill="#e3e3e3"/>
<ellipse cx="1287.4" cy="451.2" rx="24.9" ry="11.5" fill="#808080"/>
<ellipse cx="1383.0" cy="474.1" rx="57.4" ry="19.1" fill="#c7c7c7"/>
<ellipse cx="1436.5" cy="474.1" rx="21.0" ry="13.4" fill="#858585"/>
<ellipse cx="1360.0" cy="516.2" rx="65.0" ry="34.4" fill="#d9d9d9"/>
<ellipse cx="1493.9" cy="447.4" rx="26.8" ry="26.8" fill="#707070"/>
<ellipse cx="1528.3" cy="489.4" rx="45.9" ry="38.2" fill="#202020" transform="rotate(-35 1528.3 489.4)"/>
<ellipse cx="1558.9" cy="451.2" rx="19.1" ry="9.6" fill="#303030" transform="rotate(-30 1558.9 451.2)"/>
<ellipse cx="1501.5" cy="535.3" rx="15.3" ry="19.1" fill="#303030"/>
<ellipse cx="1463.3" cy="554.5" rx="30.6" ry="22.9" fill="#4a4a4a"/>
<ellipse cx="1405.9" cy="558.3" rx="22.9" ry="19.1" fill="#767676"/>
<ellipse cx="1532.1" cy="351.8" rx="24.9" ry="21.0" fill="#747474"/>
<ellipse cx="1578.0" cy="370.9" rx="19.1" ry="11.5" fill="#767676"/>
<ellipse cx="1570.4" cy="405.3" rx="38.2" ry="13.4" fill="#9f9f9f"/>
<ellipse cx="1520.7" cy="305.9" rx="30.6" ry="19.1" fill="#858585"/>
<ellipse cx="1593.3" cy="294.4" rx="30.6" ry="34.4" fill="#707070"/>
<ellipse cx="1463.9" cy="558.2" rx="30.6" ry="30.6" fill="#505050"/>
<ellipse cx="1391.2" cy="550.6" rx="38.2" ry="30.6" fill="#9f9f9f"/>
<ellipse cx="1372.1" cy="527.6" rx="19.1" ry="11.5" fill="#cfcfcf"/>
<ellipse cx="1349.1" cy="596.5" rx="30.6" ry="30.6" fill="#8b8b8b"/>
<ellipse cx="1326.2" cy="619.4" rx="15.3" ry="15.3" fill="#5e5e5e"/>
<ellipse cx="1418.0" cy="615.6" rx="34.4" ry="22.9" fill="#727272"/>
<ellipse cx="1483.0" cy="615.6" rx="19.1" ry="26.8" fill="#6c6c6c"/>
<ellipse cx="1398.9" cy="669.1" rx="26.8" ry="26.8" fill="#c7c7c7"/>
<ellipse cx="1341.5" cy="673.0" rx="22.9" ry="38.2" fill="#747474"/>
<ellipse cx="1379.7" cy="734.1" rx="30.6" ry="17.2" fill="#505050"/>
<ellipse cx="1429.4" cy="711.2" rx="19.1" ry="19.1" fill="#a7a7a7"/>
<ellipse cx="1544.2" cy="661.5" rx="13.4" ry="26.8" fill="#686868"/>
<ellipse cx="1555.6" cy="630.9" rx="11.5" ry="15.3" fill="#898989"/>
<ellipse cx="1567.1" cy="613.7" rx="5.7" ry="9.6" fill="#b1b1b1"/>
<ellipse cx="1653.0" cy="116.5" rx="160.6" ry="18.4" fill="#3c3c3c"/>
<ellipse cx="1653.0" cy="120.3" rx="30.6" ry="15.3" fill="#262626"/>
<ellipse cx="1549.7" cy="120.3" rx="26.8" ry="15.3" fill="#2a2a2a"/>
<ellipse cx="1882.4" cy="112.7" rx="137.7" ry="14.5" fill="#606060"/>
<ellipse cx="1683.6" cy="154.0" rx="130.0" ry="17.6" fill="#a1a1a1"/>
<ellipse cx="1565.0" cy="175.8" rx="65.0" ry="7.6" fill="#343434"/>
<ellipse cx="1653.0" cy="238.9" rx="49.7" ry="22.9" fill="#8b8b8b"/>
<ellipse cx="1658.7" cy="271.4" rx="15.3" ry="6.1" fill="#3c3c3c"/>
<ellipse cx="1588.0" cy="300.0" rx="74.6" ry="42.1" fill="#6c6c6c"/>
<ellipse cx="1679.7" cy="300.0" rx="34.4" ry="26.8" fill="#686868"/>
<ellipse cx="1867.1" cy="150.9" rx="53.5" ry="14.5" fill="#424242"/>
<ellipse cx="1958.9" cy="150.9" rx="61.2" ry="17.2" fill="#686868"/>
<ellipse cx="1932.1" cy="200.6" rx="91.8" ry="16.1" fill="#343434"/>
<ellipse cx="1805.9" cy="246.5" rx="65.0" ry="19.1" fill="#5e5e5e"/>
<ellipse cx="1844.2" cy="280.9" rx="76.5" ry="17.2" fill="#a1a1a1"/>
<ellipse cx="1844.2" cy="326.8" rx="76.5" ry="10.7" fill="#6c6c6c"/>
<ellipse cx="1840.3" cy="315.3" rx="26.8" ry="9.6" fill="#303030"/>
<ellipse cx="1767.7" cy="342.1" rx="68.8" ry="26.8" fill="#d7d7d7"/>
<ellipse cx="1970.4" cy="288.6" rx="57.4" ry="65.0" fill="#c7c7c7"/>
<ellipse cx="1958.9" cy="231.2" rx="61.2" ry="11.5" fill="#939393"/>
<ellipse cx="1905.4" cy="261.8" rx="26.8" ry="13.4" fill="#787878"/>
<ellipse cx="1916.8" cy="338.3" rx="19.1" ry="22.9" fill="#6c6c6c"/>
<ellipse cx="2132.1" cy="128.0" rx="172.1" ry="19.1" fill="#979797"/>
<ellipse cx="2055.6" cy="105.8" rx="99.4" ry="6.1" fill="#606060"/>
<ellipse cx="2086.2" cy="170.0" rx="99.4" ry="22.2" fill="#404040"/>
<ellipse cx="1998.2" cy="200.6" rx="42.1" ry="18.4" fill="#2a2a2a"/>
<ellipse cx="2074.7" cy="219.7" rx="34.4" ry="26.8" fill="#c7c7c7"/>
<ellipse cx="2128.3" cy="198.7" rx="17.2" ry="8.4" fill="#262626"/>
<ellipse cx="2162.7" cy="193.0" rx="19.1" ry="34.4" fill="#686868"/>
<ellipse cx="2105.3" cy="238.9" rx="19.1" ry="13.4" fill="#6c6c6c"/>
<ellipse cx="2005.9" cy="300.0" rx="57.4" ry="65.0" fill="#c7c7c7"/>
<ellipse cx="1998.2" cy="246.5" rx="38.2" ry="19.1" fill="#999999"/>
<ellipse cx="2311.8" cy="143.3" rx="19.1" ry="22.9" fill="#8b8b8b"/>
<ellipse cx="2315.6" cy="141.3" rx="5.7" ry="5.7" fill="#4e4e4e"/>
<ellipse cx="2200.9" cy="173.8" rx="5.7" ry="22.9" fill="#808080"/>
<ellipse cx="1765.0" cy="334.4" rx="68.8" ry="34.4" fill="#d7d7d7"/>
<ellipse cx="1765.0" cy="410.9" rx="26.8" ry="45.9" fill="#707070"/>
<ellipse cx="1826.2" cy="326.8" rx="76.5" ry="6.9" fill="#6c6c6c" transform="rotate(12 1826.2 326.8)"/>
<ellipse cx="1837.7" cy="315.3" rx="28.7" ry="7.6" fill="#303030"/>
<ellipse cx="1879.7" cy="368.8" rx="22.9" ry="26.8" fill="#5e5e5e"/>
<ellipse cx="1918.0" cy="342.1" rx="26.8" ry="26.8" fill="#686868"/>
<ellipse cx="1998.3" cy="334.4" rx="61.2" ry="34.4" fill="#d7d7d7"/>
<ellipse cx="1929.4" cy="407.1" rx="34.4" ry="30.6" fill="#999999"/>
<ellipse cx="1944.7" cy="435.8" rx="19.1" ry="15.3" fill="#5e5e5e"/>
<ellipse cx="1918.0" cy="487.4" rx="15.3" ry="22.9" fill="#b9b9b9"/>
<ellipse cx="1918.0" cy="521.8" rx="15.3" ry="34.4" fill="#767676" transform="rotate(-38 1918.0 521.8)"/>
<ellipse cx="2005.9" cy="514.1" rx="30.6" ry="26.8" fill="#808080"/>
<ellipse cx="1780.3" cy="464.4" rx="6.9" ry="11.5" fill="#6c6c6c"/>
<ellipse cx="2055.6" cy="701.5" rx="57.4" ry="42.1" fill="#484848"/>
<ellipse cx="2139.7" cy="667.1" rx="26.8" ry="26.8" fill="#262626"/>
<ellipse cx="2086.2" cy="632.7" rx="26.8" ry="15.3" fill="#999999" transform="rotate(-30 2086.2 632.7)"/>
<ellipse cx="2139.7" cy="617.4" rx="26.8" ry="17.2" fill="#8b8b8b"/>
<ellipse cx="2197.1" cy="636.5" rx="22.9" ry="34.4" fill="#8f8f8f"/>
<ellipse cx="2158.9" cy="716.8" rx="22.9" ry="22.9" fill="#7a7a7a"/>
<ellipse cx="2220.0" cy="686.2" rx="30.6" ry="26.8" fill="#565656"/>
<ellipse cx="2212.4" cy="739.7" rx="38.2" ry="30.6" fill="#3c3c3c"/>
<ellipse cx="2264.0" cy="720.6" rx="8.4" ry="49.7" fill="#ababab"/>
<ellipse cx="2223.9" cy="774.1" rx="30.6" ry="8.4" fill="#9f9f9f"/>
<ellipse cx="2023.1" cy="749.3" rx="13.4" ry="7.6" fill="#9b9b9b"/>
<ellipse cx="2392.1" cy="812.4" rx="22.9" ry="19.1" fill="#343434" transform="rotate(-40 2392.1 812.4)"/>
<ellipse cx="2223.9" cy="799.0" rx="11.5" ry="10.7" fill="#b1b1b1"/>
<ellipse cx="560.0" cy="118.0" rx="140.0" ry="18.0" fill="#6c6c6c"/>
<ellipse cx="430.0" cy="112.0" rx="60.0" ry="14.0" fill="#606060"/>
<ellipse cx="1960.0" cy="190.0" rx="190.0" ry="38.0" fill="#424242"/>
<ellipse cx="2110.0" cy="190.0" rx="90.0" ry="40.0" fill="#444444"/>
<ellipse cx="2050.0" cy="150.0" rx="250.0" ry="20.0" fill="#747474"/>
<ellipse cx="2060.0" cy="690.0" rx="70.0" ry="50.0" fill="#565656"/>
<ellipse cx="2150.0" cy="720.0" rx="40.0" ry="30.0" fill="#787878"/>
<ellipse cx="2215.0" cy="745.0" rx="40.0" ry="35.0" fill="#484848"/>
<ellipse cx="760.0" cy="840.0" rx="40.0" ry="55.0" fill="#565656"/>
<ellipse cx="775.0" cy="790.0" rx="35.0" ry="40.0" fill="#5c5c5c"/>
<ellipse cx="1764.1" cy="339.4" rx="62.1" ry="37.3" fill="#d5d5d5"/>
<ellipse cx="1717.5" cy="313.0" rx="18.6" ry="15.5" fill="#cfcfcf"/>
<ellipse cx="1736.1" cy="379.8" rx="9.3" ry="28.0" fill="#b1b1b1"/>
<ellipse cx="1767.2" cy="414.0" rx="17.1" ry="31.1" fill="#7c7c7c"/>
<ellipse cx="1788.9" cy="386.0" rx="18.6" ry="12.4" fill="#898989"/>
<ellipse cx="2187.0" cy="554.0" rx="47.0" ry="16.0" fill="#c5c5c5" transform="rotate(20 2187.0 554.0)"/>
<ellipse cx="2150.0" cy="545.0" rx="25.0" ry="12.0" fill="#cbcbcb" transform="rotate(20 2150.0 545.0)"/>
<ellipse cx="2053.0" cy="529.0" rx="16.0" ry="18.0" fill="#b7b7b7"/>
<ellipse cx="1950.0" cy="572.0" rx="55.0" ry="6.0" fill="#b3b3b3" transform="rotate(5 1950.0 572.0)"/>
<ellipse cx="2010.0" cy="520.0" rx="25.0" ry="20.0" fill="#9d9d9d"/>
<path d="M0.0 95.5L50.0 95.5L100.0 95.5L150.0 95.5L200.0 95.5L250.0 95.5L300.0 95.5L350.0 95.5L400.0 95.5L420.0 95.5L420.0 107.5L400.0 107.5L350.0 107.5L300.0 107.5L250.0 107.5L200.0 107.5L150.0 107.5L100.0 107.5L50.0 107.5L0.0 107.5Z" fill="#4a4a4a"/><path d="M420.0 95.5L470.0 95.5L520.0 95.5L570.0 95.5L620.0 95.5L670.0 95.5L720.0 95.5L770.0 95.6L820.0 95.7L870.0 95.8L920.0 95.9L970.0 96.0L1000.0 96.0L1000.0 106.0L970.0 106.0L920.0 105.9L870.0 105.8L820.0 105.7L770.0 105.6L720.0 105.5L670.0 105.5L620.0 105.5L570.0 105.5L520.0 105.5L470.0 105.5L420.0 105.5Z" fill="#686868"/><path d="M1200.0 96.4L1250.0 96.5L1300.0 97.0L1350.0 97.5L1400.0 98.0L1450.0 98.5L1500.0 99.0L1550.0 99.5L1600.0 100.0L1650.0 100.5L1700.0 100.2L1750.0 100.0L1750.0 112.0L1700.0 112.2L1650.0 112.5L1600.0 112.0L1550.0 111.5L1500.0 111.0L1450.0 110.5L1400.0 110.0L1350.0 109.5L1300.0 109.0L1250.0 108.5L1200.0 108.4Z" fill="#484848"/><path d="M1750.0 100.0L1800.0 99.2L1850.0 98.3L1900.0 97.8L1950.0 97.4L2000.0 97.1L2050.0 96.7L2100.0 96.2L2150.0 95.6L2150.0 105.6L2100.0 106.2L2050.0 106.7L2000.0 107.1L1950.0 107.4L1900.0 107.8L1850.0 108.3L1800.0 109.2L1750.0 110.0Z" fill="#646464"/><path d="M2150.0 95.6L2200.0 95.0L2250.0 94.5L2300.0 94.0L2300.0 102.0L2250.0 102.5L2200.0 103.0L2150.0 103.6Z" fill="#767676"/><path d="M0.0 88.5L50.0 88.5L100.0 88.5L150.0 88.5L200.0 88.5L250.0 88.5L300.0 88.5L350.0 88.5L400.0 88.5L450.0 88.5L500.0 88.5L550.0 88.5L600.0 88.5L650.0 88.5L700.0 88.5L750.0 88.6L800.0 88.7L850.0 88.8L900.0 88.8L950.0 88.9L1000.0 89.0L1050.0 89.1L1100.0 89.2L1150.0 89.3L1200.0 89.4L1250.0 89.5L1300.0 90.0L1350.0 90.5L1400.0 91.0L1450.0 91.5L1500.0 92.0L1550.0 92.5L1600.0 93.0L1650.0 93.5L1700.0 93.2L1750.0 93.0L1800.0 92.2L1850.0 91.3L1900.0 90.8L1950.0 90.4L2000.0 90.1L2050.0 89.7L2100.0 89.2L2150.0 88.6L2200.0 88.0L2250.0 87.5L2300.0 87.0L2350.0 86.3L2400.0 85.6L2450.0 84.9L2460.0 84.8L2460.0 92.3L2450.0 92.4L2400.0 93.1L2350.0 93.8L2300.0 94.5L2250.0 95.0L2200.0 95.5L2150.0 96.1L2100.0 96.8L2050.0 97.2L2000.0 97.6L1950.0 97.9L1900.0 98.3L1850.0 98.8L1800.0 99.7L1750.0 100.5L1700.0 100.8L1650.0 101.0L1600.0 100.5L1550.0 100.0L1500.0 99.5L1450.0 99.0L1400.0 98.5L1350.0 98.0L1300.0 97.5L1250.0 97.0L1200.0 96.9L1150.0 96.8L1100.0 96.7L1050.0 96.6L1000.0 96.5L950.0 96.4L900.0 96.3L850.0 96.2L800.0 96.2L750.0 96.1L700.0 96.0L650.0 96.0L600.0 96.0L550.0 96.0L500.0 96.0L450.0 96.0L400.0 96.0L350.0 96.0L300.0 96.0L250.0 96.0L200.0 96.0L150.0 96.0L100.0 96.0L50.0 96.0L0.0 96.0Z" fill="#808080"/><path d="M2150.0 95.6L2200.0 95.0L2250.0 94.5L2300.0 94.0L2350.0 93.3L2400.0 92.6L2450.0 91.9L2460.0 91.8L2460.0 97.8L2450.0 97.9L2400.0 98.6L2350.0 99.3L2300.0 100.0L2250.0 100.5L2200.0 101.0L2150.0 101.6Z" fill="#898989"/><path d="M0.0 77.5L50.0 77.5L100.0 77.5L150.0 77.5L200.0 77.5L250.0 77.5L300.0 77.5L350.0 77.5L400.0 77.5L450.0 77.5L500.0 77.5L550.0 77.5L600.0 77.5L650.0 77.5L700.0 77.5L750.0 77.6L800.0 77.7L850.0 77.8L900.0 77.8L950.0 77.9L1000.0 78.0L1050.0 78.1L1100.0 78.2L1150.0 78.3L1200.0 78.4L1250.0 78.5L1300.0 79.0L1350.0 79.5L1400.0 80.0L1450.0 80.5L1500.0 81.0L1550.0 81.5L1600.0 82.0L1650.0 82.5L1700.0 82.2L1750.0 82.0L1800.0 81.2L1850.0 80.3L1900.0 79.8L1950.0 79.4L2000.0 79.1L2050.0 78.7L2100.0 78.2L2150.0 77.6L2200.0 77.0L2250.0 76.5L2300.0 76.0L2350.0 75.3L2400.0 74.6L2450.0 73.9L2460.0 73.8L2460.0 84.8L2450.0 84.9L2400.0 85.6L2350.0 86.3L2300.0 87.0L2250.0 87.5L2200.0 88.0L2150.0 88.6L2100.0 89.2L2050.0 89.7L2000.0 90.1L1950.0 90.4L1900.0 90.8L1850.0 91.3L1800.0 92.2L1750.0 93.0L1700.0 93.2L1650.0 93.5L1600.0 93.0L1550.0 92.5L1500.0 92.0L1450.0 91.5L1400.0 91.0L1350.0 90.5L1300.0 90.0L1250.0 89.5L1200.0 89.4L1150.0 89.3L1100.0 89.2L1050.0 89.1L1000.0 89.0L950.0 88.9L900.0 88.8L850.0 88.8L800.0 88.7L750.0 88.6L700.0 88.5L650.0 88.5L600.0 88.5L550.0 88.5L500.0 88.5L450.0 88.5L400.0 88.5L350.0 88.5L300.0 88.5L250.0 88.5L200.0 88.5L150.0 88.5L100.0 88.5L50.0 88.5L0.0 88.5Z" fill="#c7c7c7"/>
</g>
<path d="M0.0 88.5L50.0 88.5L100.0 88.5L150.0 88.5L200.0 88.5L250.0 88.5L300.0 88.5L350.0 88.5L400.0 88.5L450.0 88.5L500.0 88.5L550.0 88.5L600.0 88.5L650.0 88.5L700.0 88.5L750.0 88.6L800.0 88.7L850.0 88.8L900.0 88.8L950.0 88.9L1000.0 89.0L1050.0 89.1L1100.0 89.2L1150.0 89.3L1200.0 89.4L1250.0 89.5L1300.0 90.0L1350.0 90.5L1400.0 91.0L1450.0 91.5L1500.0 92.0L1550.0 92.5L1600.0 93.0L1650.0 93.5L1700.0 93.2L1750.0 93.0L1800.0 92.2L1850.0 91.3L1900.0 90.8L1950.0 90.4L2000.0 90.1L2050.0 89.7L2100.0 89.2L2150.0 88.6L2200.0 88.0L2250.0 87.5L2300.0 87.0L2350.0 86.3L2400.0 85.6L2450.0 84.9L2460.0 84.8L2460.0 90.8L2450.0 90.9L2400.0 91.6L2350.0 92.3L2300.0 93.0L2250.0 93.5L2200.0 94.0L2150.0 94.6L2100.0 95.2L2050.0 95.7L2000.0 96.1L1950.0 96.4L1900.0 96.8L1850.0 97.3L1800.0 98.2L1750.0 99.0L1700.0 99.2L1650.0 99.5L1600.0 99.0L1550.0 98.5L1500.0 98.0L1450.0 97.5L1400.0 97.0L1350.0 96.5L1300.0 96.0L1250.0 95.5L1200.0 95.4L1150.0 95.3L1100.0 95.2L1050.0 95.1L1000.0 95.0L950.0 94.9L900.0 94.8L850.0 94.8L800.0 94.7L750.0 94.6L700.0 94.5L650.0 94.5L600.0 94.5L550.0 94.5L500.0 94.5L450.0 94.5L400.0 94.5L350.0 94.5L300.0 94.5L250.0 94.5L200.0 94.5L150.0 94.5L100.0 94.5L50.0 94.5L0.0 94.5Z" fill="#FFFF00" opacity="0.85" filter="url(#rag2)"/>
<path d="M0.0 -116.5L50.0 -116.5L100.0 -116.5L150.0 -116.5L200.0 -116.5L250.0 -116.5L300.0 -116.5L350.0 -116.5L400.0 -116.5L450.0 -116.5L500.0 -116.5L550.0 -116.5L600.0 -116.5L650.0 -116.5L700.0 -116.5L750.0 -116.4L800.0 -116.3L850.0 -116.2L900.0 -116.2L950.0 -116.1L1000.0 -116.0L1050.0 -115.9L1100.0 -115.8L1150.0 -115.7L1200.0 -115.6L1250.0 -115.5L1300.0 -115.0L1350.0 -114.5L1400.0 -114.0L1450.0 -113.5L1500.0 -113.0L1550.0 -112.5L1600.0 -112.0L1650.0 -111.5L1700.0 -111.8L1750.0 -112.0L1800.0 -112.8L1850.0 -113.7L1900.0 -114.2L1950.0 -114.6L2000.0 -114.9L2050.0 -115.3L2100.0 -115.8L2150.0 -116.4L2200.0 -117.0L2250.0 -117.5L2300.0 -118.0L2350.0 -118.7L2400.0 -119.4L2450.0 -120.1L2460.0 -120.2L2460.0 79.8L2450.0 79.9L2400.0 80.6L2350.0 81.3L2300.0 82.0L2250.0 82.5L2200.0 83.0L2150.0 83.6L2100.0 84.2L2050.0 84.7L2000.0 85.1L1950.0 85.4L1900.0 85.8L1850.0 86.3L1800.0 87.2L1750.0 88.0L1700.0 88.2L1650.0 88.5L1600.0 88.0L1550.0 87.5L1500.0 87.0L1450.0 86.5L1400.0 86.0L1350.0 85.5L1300.0 85.0L1250.0 84.5L1200.0 84.4L1150.0 84.3L1100.0 84.2L1050.0 84.1L1000.0 84.0L950.0 83.9L900.0 83.8L850.0 83.8L800.0 83.7L750.0 83.6L700.0 83.5L650.0 83.5L600.0 83.5L550.0 83.5L500.0 83.5L450.0 83.5L400.0 83.5L350.0 83.5L300.0 83.5L250.0 83.5L200.0 83.5L150.0 83.5L100.0 83.5L50.0 83.5L0.0 83.5Z" fill="#696969"/>
<path d="M736.1 -10.4L770.0 2.5L804.0 1.9L834.5 8.6L848.1 20.2L861.6 33.8L859.6 41.9L885.4 43.9L885.4 49.4L868.4 55.5L871.8 67.7L878.6 77.9L892.2 91.4L899.0 101.6L915.9 106.4L929.5 112.5L939.7 111.1L943.1 101.6L953.3 91.4L960.0 79.2L977.0 72.4L1000.8 66.3L1034.7 56.1L1058.4 52.1L1065.2 43.9L1080.8 43.3L1083.5 33.8L1068.6 28.3L1082.2 23.6L1095.8 13.4L1102.5 3.2L1102.5 -10.4ZM1065.2 74.5L1078.8 68.4L1085.6 74.5L1095.8 70.4L1109.3 69.7L1122.9 67.7L1132.4 71.1L1139.2 77.9L1129.7 82.6L1116.1 86.0L1102.5 88.7L1089.0 86.0L1077.4 86.0L1082.2 81.9L1068.6 79.2L1082.2 77.9ZM2403.4 752.4L2407.5 756.5L2414.3 758.5L2417.7 765.3L2417.7 769.4L2422.4 766.6L2425.1 772.7L2432.6 776.1L2442.8 774.4L2439.4 781.6L2438.7 785.0L2432.6 787.0L2431.9 793.1L2425.8 799.2L2420.4 801.2L2417.7 799.2L2419.7 793.8L2419.0 789.7L2412.2 787.7L2410.9 785.6L2416.3 782.2L2417.0 776.8L2416.3 770.0L2413.6 765.3L2406.1 757.8ZM726.6 394.1L734.7 395.4L739.5 395.4L745.6 398.8L753.1 395.4L763.2 394.8L767.3 392.7L763.2 388.7L756.5 385.3L746.3 383.9L737.5 383.9L733.4 385.3L737.5 388.0L740.2 392.7L732.7 392.7ZM700.1 394.8L705.6 393.4L713.7 396.1L710.3 398.2L703.5 397.5ZM775.5 394.1L785.6 394.1L784.3 396.8L775.5 396.8Z" fill="#696969"/>
<g><ellipse cx="1451.0" cy="186.0" rx="87.0" ry="9.3" fill="#0000FF" filter="url(#spk)"/><ellipse cx="1482.1" cy="254.4" rx="18.6" ry="6.2" fill="#0000FF" filter="url(#spk)"/><ellipse cx="1664.4" cy="196.0" rx="65.0" ry="15.3" fill="#0000FF" filter="url(#spk)"/><ellipse cx="1805.9" cy="214.0" rx="17.2" ry="5.4" fill="#0000FF" filter="url(#spk)"/><ellipse cx="1729.4" cy="254.1" rx="26.8" ry="15.3" fill="#0000FF" filter="url(#spk)"/><ellipse cx="2197.1" cy="223.6" rx="13.4" ry="9.6" fill="#0000FF" filter="url(#spk)"/><ellipse cx="2128.3" cy="193.0" rx="11.5" ry="3.8" fill="#0000FF" filter="url(#spk)"/><ellipse cx="865.2" cy="192.6" rx="7.8" ry="6.2" fill="#0000FF" filter="url(#spk)"/><g filter="url(#spk)"><ellipse cx="734.7" cy="848.8" rx="4.3" ry="34.2" fill="#0000FF" transform="rotate(-8 734.7 848.8)"/></g><ellipse cx="770.5" cy="656.2" rx="4.3" ry="4.3" fill="#0000FF" filter="url(#spk)"/><ellipse cx="709.9" cy="479.0" rx="3.7" ry="12.4" fill="#0000FF" filter="url(#spk)"/><ellipse cx="742.5" cy="466.6" rx="4.7" ry="4.7" fill="#0000FF" filter="url(#spk)"/><g filter="url(#spk)"><ellipse cx="714.6" cy="581.5" rx="7.8" ry="21.7" fill="#0000FF" transform="rotate(-30 714.6 581.5)"/></g><ellipse cx="2371.1" cy="825.8" rx="6.9" ry="5.4" fill="#0000FF" filter="url(#spk)"/><ellipse cx="1451.8" cy="508.6" rx="22.9" ry="19.1" fill="#696969" filter="url(#spk)"/><g filter="url(#spk)"><ellipse cx="690.7" cy="370.1" rx="34.2" ry="7.8" fill="#696969" transform="rotate(20 690.7 370.1)"/></g><ellipse cx="625.4" cy="416.7" rx="34.2" ry="15.5" fill="#696969" filter="url(#spk)"/><ellipse cx="2065.2" cy="426.2" rx="11.5" ry="26.8" fill="#696969" filter="url(#spk)"/><ellipse cx="1990.6" cy="575.3" rx="45.9" ry="4.6" fill="#696969" filter="url(#spk)"/></g>
<g><ellipse cx="1752.4" cy="200.6" rx="42.1" ry="6.1" fill="#FF00FF" filter="url(#spk2)"/><ellipse cx="1725.6" cy="252.2" rx="32.5" ry="19.1" fill="#FF00FF" filter="url(#spk2)"/><ellipse cx="1679.7" cy="284.7" rx="22.9" ry="9.6" fill="#FF00FF" filter="url(#spk2)"/><ellipse cx="1886.2" cy="254.1" rx="7.6" ry="3.8" fill="#FF00FF" filter="url(#spk2)"/><ellipse cx="2197.1" cy="223.6" rx="13.4" ry="9.6" fill="#FF00FF" filter="url(#spk2)"/><ellipse cx="857.5" cy="191.1" rx="10.9" ry="6.2" fill="#FF00FF" filter="url(#spk2)"/><g filter="url(#spk2)"><ellipse cx="733.2" cy="851.9" rx="2.5" ry="18.6" fill="#FF00FF" transform="rotate(-8 733.2 851.9)"/></g><ellipse cx="451.5" cy="215.3" rx="10.9" ry="7.8" fill="#FF00FF" filter="url(#spk2)"/><ellipse cx="482.5" cy="221.5" rx="6.2" ry="4.7" fill="#FF00FF" filter="url(#spk2)"/><ellipse cx="420.4" cy="258.8" rx="3.7" ry="6.2" fill="#FF00FF" filter="url(#spk2)"/></g>
<g filter="url(#rag)"><ellipse cx="1435.5" cy="186.6" rx="21.7" ry="4.3" fill="#0000FF"/><ellipse cx="1503.9" cy="189.1" rx="18.6" ry="5.0" fill="#0000FF"/><ellipse cx="1522.9" cy="187.2" rx="28.7" ry="5.0" fill="#0000FF"/><ellipse cx="1672.1" cy="196.8" rx="38.2" ry="9.2" fill="#0000FF"/><ellipse cx="1698.9" cy="188.4" rx="17.2" ry="6.9" fill="#0000FF"/><ellipse cx="1624.3" cy="194.9" rx="23.7" ry="9.9" fill="#FF00FF"/><ellipse cx="1683.6" cy="193.0" rx="13.4" ry="5.4" fill="#FF00FF"/><ellipse cx="1867.1" cy="192.2" rx="4.6" ry="3.1" fill="#FF00FF"/><ellipse cx="2084.3" cy="197.6" rx="9.2" ry="3.4" fill="#FF00FF"/><ellipse cx="773.0" cy="656.1" rx="3.1" ry="2.5" fill="#0000FF"/><ellipse cx="1451.8" cy="504.7" rx="14.5" ry="12.2" fill="#696969"/><ellipse cx="749.7" cy="390.3" rx="18.6" ry="5.6" fill="#696969"/><ellipse cx="709.3" cy="395.6" rx="7.8" ry="2.5" fill="#696969"/><ellipse cx="783.9" cy="394.9" rx="9.3" ry="2.5" fill="#696969"/></g>
<g><ellipse cx="540.0" cy="70.0" rx="270.0" ry="45.0" fill="#FFFFFF" filter="url(#spk3)"/><ellipse cx="700.0" cy="150.0" rx="160.0" ry="50.0" fill="#FFFFFF" filter="url(#spk3)"/><ellipse cx="860.0" cy="140.0" rx="60.0" ry="40.0" fill="#FFFFFF" filter="url(#spk3)"/><ellipse cx="1400.0" cy="80.0" rx="90.0" ry="30.0" fill="#FFFFFF" filter="url(#spk3)"/><ellipse cx="1750.0" cy="70.0" rx="180.0" ry="28.0" fill="#FFFFFF" filter="url(#spk3)"/><ellipse cx="2250.0" cy="60.0" rx="120.0" ry="20.0" fill="#FFFFFF" filter="url(#spk3)"/><ellipse cx="200.0" cy="60.0" rx="100.0" ry="20.0" fill="#FFFFFF" filter="url(#spk3)"/><ellipse cx="2080.0" cy="330.0" rx="30.0" ry="25.0" fill="#FFFFFF" filter="url(#spk3)"/></g>
</g>
<g fill="none" stroke="#000" stroke-linecap="butt" stroke-linejoin="round" stroke-dasharray="2.2 1.6"><path d="M1267.4 118.6L1264.7 105.0L1266.8 96.9L1279.0 90.1L1299.3 81.9L1312.9 73.8L1319.7 64.3L1329.9 55.5L1350.2 48.0L1367.2 43.3L1387.6 38.5" stroke-width="3.5" filter="url(#rag4)"/><path d="M301.8 122.0L313.3 132.1L323.5 142.3L339.1 149.1L349.3 157.3L359.5 166.1L366.3 174.2" stroke-width="6" filter="url(#rag4)"/><path d="M196.6 116.5L213.6 114.5L227.2 110.4L237.3 107.7" stroke-width="3" filter="url(#rag4)"/><path d="M730.7 804.0L726.6 817.5L722.5 831.1L720.5 844.7L721.2 858.2L725.9 871.8L736.1 882.0L749.7 889.5L763.2 894.9" stroke-width="8" filter="url(#rag4)"/><path d="M868.4 71.1L865.0 57.5L861.6 43.9L851.5 30.4L844.7 16.8" stroke-width="2" filter="url(#rag4)"/><path d="M960.0 81.3L980.4 72.4L1027.9 57.5L1068.6 43.9L1082.2 30.4L1089.0 16.8" stroke-width="2" filter="url(#rag4)"/><path d="M797.2 115.2L810.7 128.8L820.9 142.3" stroke-width="2.5" filter="url(#rag4)"/></g>
<path d="M90.8 73.8L101.6 69.7L118.6 67.0L132.1 70.4L135.5 67.7L125.4 64.3L118.6 60.2L99.6 54.8L103.6 51.4L125.4 46.0L145.7 39.9L168.8 35.1L186.4 37.8L200.0 38.5L213.6 40.5L227.2 41.9L247.5 43.9L261.1 43.3L274.7 46.3L288.2 47.3L301.8 50.7L312.0 48.7L322.2 46.6L335.7 45.3L349.3 43.3L360.8 40.5L369.7 45.3L383.2 48.0L387.3 43.9L396.8 47.3L410.4 46.0L430.7 50.7L451.1 54.1L457.9 56.1L464.7 59.5L485.0 58.2L495.2 60.9L498.6 65.6L505.4 60.2L519.0 57.5L539.3 58.9L552.9 58.9L566.5 58.2L573.2 54.1L580.0 62.3L583.4 57.5L580.0 50.7L580.0 43.9L576.6 35.1L586.8 30.4L600.4 33.8L607.2 40.5L610.6 46.6L617.3 52.1L627.5 49.4L634.3 55.5L637.7 60.9L647.9 57.5L651.3 47.3L671.6 46.0L678.4 50.7L679.8 57.5L675.0 64.3L664.8 69.0L651.3 67.7L647.9 72.4L637.7 77.9L630.9 83.3L620.7 85.3L616.0 89.4L607.2 93.5L600.4 98.2L593.6 103.6L588.8 110.4L588.8 118.6L592.2 119.9L600.4 120.6L603.8 130.1L605.8 132.1L620.7 132.1L634.3 135.5L654.7 143.7L673.0 145.0L673.7 152.5L673.7 159.3L678.4 164.0L685.2 170.1L692.0 171.5L696.7 166.1L697.4 155.9L694.0 149.1L709.0 142.3L711.0 135.5L711.0 128.8L700.8 121.3L698.8 117.2L705.6 111.8L702.2 105.0L702.2 96.2L722.5 96.2L736.1 98.2L742.9 100.9L749.7 104.3L759.9 105.0L756.5 111.8L759.2 118.6L766.6 122.6L776.8 123.3L783.6 119.9L790.4 110.4L793.8 109.1L797.2 115.2L804.0 122.0L810.7 128.8L814.1 135.5L822.3 142.3L831.1 145.7L841.3 149.8L844.7 154.5L852.8 160.6L853.5 166.1L846.0 169.5L834.5 171.5L824.3 177.6L810.7 177.6L797.2 177.6L780.2 178.3L773.4 184.4L763.2 189.8L756.5 196.6L749.7 200.7L756.5 200.0L766.6 191.2L780.2 185.8L793.8 185.8L795.1 187.8L787.0 193.2L781.6 193.2L790.4 196.6L791.7 203.4L797.2 206.8L804.0 208.2L814.1 208.8L817.5 206.8L820.9 200.0L825.7 206.8L817.5 211.5L804.0 215.6L797.2 217.7L787.0 223.8L782.2 220.4L785.0 216.3L793.8 211.5L793.8 208.2L783.6 212.2L776.8 213.6L770.0 217.7L763.2 220.4L755.1 223.1L751.7 227.8L751.0 231.9L753.1 235.3L756.5 234.6L756.5 236.7L748.3 237.3L742.9 238.7L732.7 240.7L739.5 241.4L742.9 240.7L736.1 243.4L729.3 243.4L729.3 247.5L727.3 250.9L723.2 254.6L719.1 250.9L721.2 256.3L721.9 259.0L718.5 264.5L715.7 267.9L713.7 261.1L712.4 252.9L711.7 261.1L713.7 268.5L717.8 274.7L719.1 279.7L712.4 283.5L705.6 286.2L702.2 288.9L695.4 292.3L688.6 297.7L681.8 301.8L679.1 308.6L679.1 312.7L681.8 320.8L685.2 326.2L687.9 335.7L687.9 343.9L685.9 347.9L681.1 348.6L676.4 342.5L673.7 336.4L670.3 330.3L670.3 323.5L665.5 318.1L661.5 314.7L652.6 317.4L645.8 312.7L637.7 313.3L632.3 313.3L626.2 313.3L623.5 314.7L624.8 320.8L626.8 322.2L619.4 321.5L611.9 319.4L603.8 318.1L595.0 317.4L588.8 320.1L581.4 324.2L573.2 329.6L570.5 335.7L571.9 343.2L568.5 352.7L567.8 367.6L571.9 376.4L577.3 386.6L579.3 388.7L583.4 392.1L590.2 395.4L600.4 394.1L607.2 392.1L612.6 392.1L616.7 385.9L617.3 379.8L618.7 376.4L630.9 373.1L641.1 373.1L642.5 377.8L637.7 386.6L635.7 394.8L633.0 400.2L632.3 407.0L628.2 411.1L634.3 412.4L647.9 411.1L658.1 411.7L666.9 417.2L664.8 427.3L663.5 437.5L663.5 444.3L668.2 451.1L673.7 456.5L678.4 459.2L685.2 457.2L692.0 453.8L698.8 455.2L706.2 459.9L710.3 464.7L709.6 460.6L713.7 457.9L718.5 454.5L719.1 447.7L723.9 443.6L728.0 442.3L736.1 441.6L741.5 438.2L744.9 434.5L748.3 435.5L747.6 438.9L743.6 442.9L745.6 445.0L749.7 442.9L755.1 440.2L756.5 436.2L758.5 440.9L766.6 442.9L768.7 447.0L776.8 447.0L783.6 447.0L790.4 450.4L797.2 447.7L804.0 446.3L810.7 446.3L807.4 449.1L805.3 451.1L812.1 452.4L818.2 457.9L824.3 461.3L831.1 464.7L834.5 470.1L841.3 476.2L844.7 478.9L854.9 478.9L865.0 479.6L872.5 483.0L878.6 487.7L882.0 490.4L885.4 498.6L888.8 505.4L892.2 512.2L892.2 517.6L886.8 521.0L892.2 520.3L895.6 517.6L902.4 520.3L903.7 525.1L909.1 523.0L919.3 525.7L927.5 529.8L930.9 535.9L937.6 535.2L947.8 538.0L956.6 538.0L966.8 542.7L970.2 544.1L978.4 550.8L983.8 553.6L991.9 554.2L994.0 559.7L995.3 567.1L994.6 573.9L991.9 581.4L984.5 590.2L980.4 595.0L977.0 600.4L970.2 607.2L966.8 614.0L966.8 624.1L966.1 634.3L963.4 642.5L961.4 652.0L958.0 656.7L953.3 664.8L953.3 668.2L946.5 674.3L938.3 675.0L929.5 676.4L922.7 680.5L916.6 681.8L907.1 688.6L902.4 694.0L901.7 702.2L901.7 711.7L895.6 717.1L890.8 724.6L884.0 732.7L877.9 737.5L873.9 744.2L869.1 748.3L865.0 753.1L858.2 755.8L850.1 755.8L839.2 752.4L835.2 749.7L835.2 753.7L843.3 758.5L842.6 764.6L846.7 766.6L841.3 776.8L831.1 781.6L817.5 783.6L809.4 782.2L809.4 790.4L808.7 796.5L798.5 798.5L790.4 795.8L789.7 802.6L797.2 805.3L799.9 807.4L793.8 810.1L790.4 812.8L788.4 820.9L780.2 825.0L773.4 831.1L778.2 836.5L785.0 839.2L784.3 844.0L773.4 851.5L766.6 858.2L763.2 865.0L767.3 873.9L759.9 875.2L751.0 877.3L749.7 884.0L739.5 882.0L732.7 877.3L725.9 873.2L722.5 865.0L720.5 858.2L719.1 848.1L719.1 837.9L718.5 835.2L725.9 829.7L730.7 820.9L736.1 810.7L737.5 802.6L730.7 801.2L731.4 790.4L734.1 785.6L732.7 773.4L734.7 770.0L738.8 759.9L744.9 746.3L746.3 736.1L746.3 722.5L747.6 715.7L749.7 705.6L752.4 695.4L753.1 681.8L753.7 677.1L755.1 661.5L755.1 647.9L753.7 643.1L747.6 638.4L739.5 633.0L729.3 627.5L721.2 622.8L714.4 614.0L713.7 610.6L708.3 601.1L703.5 592.2L698.8 582.1L694.0 573.2L689.3 565.8L682.5 559.7L680.5 554.2L679.8 549.5L685.2 542.7L687.2 539.3L690.0 535.2L686.6 536.6L681.8 533.9L683.2 525.7L686.6 521.0L687.9 514.9L692.0 512.2L696.1 509.4L698.1 504.0L704.2 501.3L706.9 493.8L705.6 486.4L706.2 479.6L705.6 473.5L702.9 470.1L699.5 464.7L700.8 461.9L692.0 457.9L685.9 462.6L686.6 468.7L681.8 470.1L677.1 464.7L668.9 463.3L663.5 461.9L663.5 457.9L656.7 453.8L654.0 451.1L649.2 451.1L649.2 445.0L644.5 438.9L637.7 431.4L638.4 428.7L630.9 429.4L620.7 426.0L610.6 423.9L605.1 419.9L597.0 412.4L590.2 409.0L583.4 411.7L576.6 412.4L566.5 409.0L553.6 404.9L542.7 400.2L538.0 397.5L529.1 394.8L522.3 389.3L515.6 383.2L514.2 380.5L516.9 378.5L515.6 373.1L514.2 366.3L508.8 361.5L502.0 354.1L495.2 347.9L489.1 344.5L488.4 337.8L481.6 333.7L478.2 329.6L470.1 322.8L466.0 315.4L463.3 308.6L456.5 305.2L452.4 303.2L452.4 308.6L454.5 315.4L461.3 322.2L466.0 328.9L470.1 335.7L475.5 342.5L478.2 349.3L481.6 354.7L488.4 361.5L485.7 363.6L483.0 359.5L474.8 353.4L470.1 349.3L469.4 342.5L462.6 337.8L454.5 333.7L451.1 330.3L456.5 327.6L454.5 322.2L446.3 316.7L444.3 311.3L439.6 304.5L436.8 298.4L434.1 293.0L428.0 289.6L422.6 286.9L413.8 284.8L411.7 279.4L404.3 270.6L400.9 266.5L400.2 262.4L396.8 259.0L391.4 252.3L388.0 244.8L389.3 237.3L387.3 228.5L390.0 217.0L390.0 205.4L389.3 200.0L385.3 190.5L396.8 191.9L400.2 196.6L400.2 187.8L395.4 184.4L386.6 179.6L376.4 175.6L366.3 171.5L364.2 164.0L357.4 157.3L349.3 150.5L345.9 145.7L337.1 141.0L332.3 134.2L325.5 126.7L315.4 122.6L305.2 124.0L298.4 120.6L284.8 113.8L267.9 111.8L254.3 111.1L240.7 107.0L227.2 109.8L217.0 113.1L203.4 116.5L201.4 108.4L213.6 103.6L200.0 106.4L189.8 115.2L183.0 122.0L172.9 128.8L159.3 135.5L145.7 141.0L132.1 145.0L122.0 147.1L113.1 148.4L125.4 143.7L138.9 138.9L152.5 132.1L162.7 125.4L166.1 119.9L155.9 119.9L145.7 120.6L132.1 120.6L133.5 115.2L128.8 111.8L118.6 111.8L108.4 108.4L108.4 101.6L105.0 98.2L111.8 92.8L115.2 90.1L125.4 90.8L138.9 88.0L138.9 81.9L128.8 81.3L115.2 81.3L101.6 79.9ZM1191.4 276.0L1195.5 275.3L1200.9 280.1L1211.1 279.4L1217.9 280.8L1224.7 276.7L1231.5 275.3L1238.3 271.3L1251.8 269.2L1265.4 269.2L1279.0 267.9L1292.6 266.5L1298.0 265.8L1301.4 267.9L1306.1 267.9L1302.7 271.9L1303.4 276.7L1306.1 280.1L1300.0 286.2L1300.0 289.6L1306.1 292.3L1312.9 295.7L1321.1 295.7L1334.6 299.1L1336.0 304.5L1346.8 308.6L1357.0 312.7L1363.8 313.3L1367.2 308.6L1367.9 300.4L1374.0 296.4L1384.2 296.4L1388.2 297.7L1388.9 300.4L1401.1 303.8L1414.7 306.5L1428.3 309.3L1435.1 306.5L1441.8 305.2L1448.6 306.5L1451.3 307.2L1452.4 315.7L1453.4 322.2L1458.8 328.9L1460.8 334.4L1465.6 342.5L1470.3 352.7L1473.1 356.8L1475.8 364.2L1481.9 369.7L1484.6 376.4L1483.9 385.9L1486.0 392.1L1492.7 396.8L1497.5 410.4L1499.5 413.8L1504.3 417.8L1511.1 420.6L1518.5 428.7L1524.6 433.4L1521.9 440.2L1524.6 440.9L1530.1 447.7L1536.8 448.4L1550.4 443.6L1564.0 442.3L1576.2 438.2L1579.6 438.9L1578.2 447.7L1574.2 457.9L1569.4 464.7L1564.0 474.8L1557.2 485.0L1550.4 493.8L1543.6 501.3L1538.9 505.4L1530.1 512.2L1521.9 520.3L1513.8 530.5L1509.0 534.6L1504.3 537.3L1503.6 541.3L1500.9 546.8L1497.5 551.5L1494.8 559.7L1498.2 565.1L1499.5 573.2L1498.2 580.0L1501.6 586.8L1505.6 590.2L1507.0 600.4L1506.3 607.2L1508.3 617.3L1507.7 622.1L1502.9 628.9L1496.1 634.3L1486.0 639.1L1481.9 641.1L1477.1 647.2L1469.0 654.0L1467.0 658.7L1470.3 664.8L1472.4 669.6L1472.4 680.5L1469.0 686.6L1458.8 690.0L1453.4 694.7L1454.7 702.2L1452.0 712.4L1445.2 717.8L1441.8 721.9L1437.1 729.3L1429.6 736.1L1421.5 742.9L1411.3 748.3L1405.9 749.7L1397.7 751.0L1384.2 750.4L1367.2 755.1L1360.4 752.4L1357.0 751.7L1356.3 749.0L1353.6 741.5L1355.7 734.1L1348.9 722.5L1343.4 713.0L1338.0 705.6L1333.9 699.5L1332.6 688.6L1329.9 681.8L1329.9 674.3L1325.1 661.5L1317.7 647.9L1311.6 641.1L1311.6 635.7L1311.6 627.5L1314.3 620.7L1316.3 610.6L1322.4 603.8L1325.1 593.6L1322.4 583.4L1321.1 578.7L1318.3 569.8L1314.9 560.3L1314.3 556.3L1311.6 550.2L1306.8 545.4L1299.3 538.0L1294.6 531.2L1291.2 523.7L1294.6 516.9L1296.6 512.2L1298.0 503.3L1298.0 497.2L1296.6 492.5L1291.9 488.4L1287.8 488.4L1280.3 489.1L1272.9 489.8L1268.1 483.7L1262.0 476.2L1254.6 475.5L1247.8 476.2L1239.6 477.6L1234.9 479.6L1230.1 481.6L1219.3 485.7L1211.8 485.0L1204.3 483.7L1190.8 485.7L1180.6 489.1L1170.4 485.0L1158.2 476.2L1153.4 472.1L1146.7 468.7L1141.9 461.9L1141.2 455.8L1138.5 454.5L1132.4 447.0L1129.0 443.6L1122.9 438.9L1118.2 434.8L1117.5 430.1L1117.5 425.3L1112.7 419.2L1117.5 413.8L1119.5 410.4L1120.9 400.2L1122.9 396.1L1121.5 388.7L1119.5 386.6L1115.8 377.8L1116.8 371.0L1120.9 362.9L1123.6 358.1L1129.7 350.7L1133.1 341.8L1140.5 334.4L1143.9 329.6L1153.4 326.9L1162.3 320.8L1165.7 312.7L1165.0 305.9L1168.4 298.4L1173.8 293.0L1179.9 290.9L1185.3 288.2L1189.4 280.1ZM1451.3 307.2L1458.8 307.9L1464.2 305.9L1467.6 300.4L1469.0 295.0L1472.4 288.9L1475.1 282.1L1474.4 276.7L1477.1 270.6L1472.4 270.6L1466.3 269.2L1460.2 273.3L1452.0 274.0L1439.8 268.5L1438.5 272.6L1429.6 272.6L1422.8 269.9L1416.7 267.9L1416.1 262.4L1410.6 259.0L1413.3 254.3L1408.6 250.9L1409.3 247.5L1418.1 244.8L1428.3 244.8L1434.4 242.4L1429.0 240.0L1438.5 240.0L1445.2 238.7L1455.4 233.9L1469.0 233.6L1477.8 238.7L1486.0 240.7L1500.9 240.7L1513.1 237.3L1513.8 230.5L1500.9 223.1L1492.7 218.3L1485.3 213.6L1481.2 211.5L1486.6 209.5L1490.7 205.4L1497.5 199.3L1489.3 199.3L1479.2 202.0L1470.3 204.8L1469.0 208.8L1479.2 211.5L1471.7 213.6L1465.6 216.3L1459.5 217.7L1458.8 212.2L1452.0 210.9L1459.5 206.8L1452.0 206.1L1447.3 202.7L1439.8 203.4L1435.1 208.2L1433.0 212.2L1426.2 218.3L1424.9 223.8L1420.8 229.2L1421.5 234.6L1428.3 239.4L1421.5 240.7L1416.7 242.1L1410.0 244.1L1407.9 242.8L1401.1 241.4L1394.3 242.8L1394.3 246.8L1389.6 245.5L1386.9 243.4L1384.8 247.5L1388.9 252.9L1387.6 255.0L1394.3 259.7L1394.3 263.1L1392.3 261.8L1388.9 261.8L1388.2 265.2L1388.9 271.3L1383.5 271.9L1378.7 269.2L1376.0 263.8L1376.0 259.7L1374.0 256.3L1372.0 254.3L1368.6 250.2L1365.8 245.5L1363.1 241.4L1363.8 236.7L1362.4 233.9L1357.0 230.5L1346.8 225.8L1340.1 223.1L1334.6 219.0L1331.9 213.6L1329.2 211.5L1325.8 214.9L1323.8 209.5L1319.7 209.5L1314.9 211.5L1315.6 218.3L1317.0 220.4L1323.8 223.8L1326.5 229.9L1334.6 234.6L1341.4 235.3L1340.1 238.0L1346.8 240.7L1353.6 243.4L1357.0 246.8L1355.7 248.9L1348.2 244.8L1344.1 248.9L1347.5 254.3L1343.4 258.4L1340.1 261.8L1338.0 260.4L1340.1 255.7L1337.3 247.5L1332.6 245.5L1329.2 243.4L1327.8 241.7L1323.1 239.0L1314.9 236.0L1307.5 231.2L1302.7 227.2L1301.4 223.8L1298.0 219.7L1291.9 217.7L1285.8 221.0L1281.7 222.4L1275.6 226.5L1268.1 225.1L1262.0 224.4L1255.2 225.1L1251.8 230.5L1253.9 231.9L1253.2 234.6L1246.4 238.0L1236.9 242.1L1229.4 250.9L1232.8 255.7L1228.1 259.0L1226.7 263.8L1219.3 267.9L1216.6 269.9L1207.7 269.9L1201.6 269.9L1195.2 274.0L1193.5 274.7L1188.7 271.3L1188.0 268.5L1181.3 266.5L1177.2 267.9L1170.4 267.9L1171.8 261.1L1167.0 256.3L1170.4 250.9L1171.1 246.2L1172.4 239.4L1171.1 233.9L1168.4 227.2L1175.2 223.8L1179.2 221.7L1190.8 223.1L1200.9 224.4L1207.7 223.8L1219.3 224.4L1222.7 217.0L1224.0 210.2L1223.3 205.4L1217.2 200.0L1214.5 198.0L1207.7 195.3L1201.6 194.6L1198.9 190.5L1207.7 187.8L1217.9 188.8L1220.6 188.5L1218.6 181.7L1223.3 183.7L1232.2 183.7L1241.7 179.0L1242.3 173.5L1248.4 172.2L1255.2 170.1L1258.6 166.1L1263.4 160.0L1268.8 157.3L1279.0 156.6L1286.4 155.2L1289.8 153.2L1291.9 150.5L1289.8 146.4L1287.1 142.3L1286.4 135.5L1289.8 131.5L1295.9 130.8L1303.4 127.4L1302.1 135.5L1305.4 136.2L1300.7 138.9L1299.3 144.4L1295.9 145.7L1298.0 148.4L1299.3 149.8L1306.1 149.8L1305.4 152.5L1312.9 151.1L1316.3 149.1L1323.8 148.4L1327.8 153.2L1340.1 150.5L1346.8 147.8L1355.7 147.1L1358.4 149.8L1364.5 149.8L1367.2 146.4L1374.0 143.7L1374.7 141.0L1374.0 135.5L1377.4 129.4L1384.8 127.1L1388.9 132.1L1394.3 132.1L1397.1 126.0L1397.7 122.6L1391.0 119.9L1391.0 117.2L1399.1 115.2L1407.9 114.5L1421.5 115.2L1431.7 111.8L1436.4 112.1L1428.3 109.8L1424.9 107.0L1414.7 108.4L1401.1 110.4L1387.6 112.5L1382.1 109.1L1376.7 105.0L1376.7 98.2L1374.7 91.4L1386.2 86.0L1394.3 81.3L1403.8 77.9L1403.2 73.8L1395.0 72.4L1384.2 72.4L1377.4 77.9L1374.0 81.3L1370.6 86.0L1360.4 90.1L1353.6 94.8L1348.9 98.2L1348.2 105.0L1348.9 107.7L1357.0 110.4L1360.4 113.1L1355.0 116.5L1350.2 120.6L1345.5 124.0L1344.1 128.8L1342.8 134.9L1339.4 138.3L1331.2 138.9L1328.5 142.3L1323.1 143.0L1319.0 142.3L1317.0 137.6L1319.0 134.2L1312.9 128.8L1308.2 122.0L1306.8 118.6L1304.1 115.2L1303.4 112.5L1301.4 117.9L1295.9 119.9L1289.2 124.0L1279.3 125.4L1275.6 124.0L1269.5 119.9L1266.8 115.2L1266.8 109.1L1265.4 105.0L1265.4 98.2L1275.6 94.1L1285.8 89.4L1295.9 87.4L1302.1 87.4L1302.7 82.6L1309.5 77.9L1314.9 72.4L1319.7 67.7L1326.5 62.9L1336.7 57.5L1326.5 56.1L1319.7 58.2L1333.3 52.1L1336.7 50.7L1350.2 47.3L1360.4 45.3L1374.0 43.3L1387.6 39.9L1405.9 36.5L1418.1 37.1L1424.9 39.2L1441.8 41.2L1435.1 44.6L1428.3 43.9L1441.8 46.0L1455.4 48.0L1475.8 50.0L1489.3 55.5L1502.9 60.2L1509.7 65.6L1502.9 69.7L1489.3 71.1L1469.0 68.4L1455.4 66.3L1451.3 63.6L1458.8 69.7L1467.0 77.9L1467.6 81.9L1475.8 84.0L1486.0 85.3L1489.3 81.3L1502.9 80.6L1502.9 74.5L1516.5 68.4L1530.1 69.7L1531.4 64.3L1528.7 57.5L1525.3 53.4L1543.6 55.5L1547.0 64.3L1550.4 64.3L1564.0 58.9L1577.6 54.8L1591.1 53.4L1597.9 56.1L1611.5 53.4L1625.1 51.4L1638.6 50.7L1642.0 45.3L1652.2 46.0L1669.2 48.7L1684.8 51.4L1686.1 47.3L1686.1 37.1L1696.3 30.4L1703.1 23.6L1706.5 21.5L1720.1 24.9L1725.5 33.8L1723.5 43.9L1720.1 54.1L1716.7 64.3L1720.1 69.0L1730.3 60.9L1733.6 54.1L1733.6 43.9L1737.0 30.4L1740.4 24.9L1757.4 27.0L1760.8 33.8L1774.4 30.4L1777.8 20.2L1794.7 33.8L1794.7 40.5L1801.5 31.7L1815.1 18.1L1821.9 3.2L1991.5 3.2L2001.7 16.8L1977.9 17.5L1964.4 21.5L1977.9 20.9L2005.1 19.5L2032.2 22.2L2045.8 23.6L2066.2 21.5L2089.9 20.2L2106.9 24.3L2110.3 37.1L2113.7 38.5L2127.2 33.8L2147.6 33.8L2161.2 34.4L2178.1 28.3L2188.3 25.6L2215.4 27.6L2242.6 29.0L2249.4 33.8L2269.7 37.8L2296.9 37.1L2317.2 43.9L2324.0 47.3L2337.6 46.0L2364.7 46.0L2385.1 45.3L2385.1 50.7L2391.9 43.9L2425.8 45.3L2453.0 50.7L2453.0 77.9L2442.8 79.9L2436.0 79.9L2446.2 91.4L2448.2 95.5L2419.0 99.6L2398.7 105.0L2388.5 111.8L2364.7 110.4L2351.2 112.5L2341.0 118.6L2337.6 125.4L2334.2 135.5L2339.6 138.3L2329.5 145.7L2317.2 155.9L2308.4 159.3L2303.7 166.1L2294.8 173.5L2290.1 166.1L2286.7 152.5L2288.1 138.9L2295.5 128.8L2307.1 122.0L2317.2 113.1L2330.8 106.4L2337.6 101.6L2344.4 94.8L2324.0 101.6L2319.3 107.7L2303.7 99.6L2293.5 103.6L2283.3 113.8L2269.7 117.2L2256.2 115.2L2242.6 113.8L2222.2 115.9L2201.9 116.5L2188.3 122.0L2174.7 130.8L2164.6 140.3L2151.0 147.1L2161.2 152.5L2167.9 153.9L2184.9 157.9L2191.0 162.7L2188.3 169.5L2185.6 179.6L2183.6 189.8L2174.7 200.0L2167.9 206.8L2157.8 214.9L2147.6 223.8L2134.0 228.5L2127.2 225.8L2119.1 231.2L2113.7 235.3L2111.6 241.4L2103.5 247.5L2096.7 252.3L2102.8 257.7L2108.9 266.5L2110.3 274.7L2108.2 280.1L2100.1 282.8L2089.9 285.5L2089.2 278.0L2091.3 269.9L2090.6 264.5L2083.8 262.4L2079.7 259.7L2081.8 252.3L2075.7 247.5L2066.2 250.2L2053.9 255.7L2058.0 248.9L2060.7 243.4L2052.6 242.1L2042.4 248.9L2030.9 254.3L2035.6 261.1L2039.0 262.4L2042.4 266.5L2051.2 262.4L2063.4 265.2L2056.0 269.9L2047.8 274.7L2041.0 281.4L2047.2 286.2L2051.2 295.0L2058.0 303.2L2058.7 309.3L2051.2 313.3L2059.4 316.0L2056.7 325.5L2050.6 330.3L2043.8 342.5L2037.0 350.7L2032.9 352.7L2023.4 360.8L2011.9 364.9L2006.4 367.6L2001.7 368.3L1991.5 371.7L1981.3 375.1L1980.0 381.2L1976.6 381.2L1975.9 373.1L1967.8 372.4L1964.4 373.1L1957.6 376.4L1955.5 377.8L1954.2 381.9L1949.4 390.0L1954.2 398.8L1961.0 406.3L1966.4 409.7L1971.2 417.2L1973.2 427.3L1973.2 437.5L1966.4 444.3L1958.3 448.4L1955.5 453.1L1946.0 459.9L1942.7 460.6L1942.7 452.4L1944.7 449.1L1940.6 448.4L1933.8 447.0L1930.4 441.6L1925.0 436.2L1916.9 432.8L1916.2 428.0L1913.5 427.3L1910.1 429.4L1909.4 437.5L1906.7 444.3L1904.7 449.1L1905.3 455.8L1910.1 461.9L1914.2 470.1L1922.3 474.8L1925.7 476.9L1931.8 483.0L1933.2 493.2L1936.5 502.0L1938.6 509.4L1933.8 510.1L1925.7 504.7L1918.9 498.6L1914.8 490.4L1912.1 482.3L1912.1 475.5L1907.4 471.4L1902.6 464.7L1898.5 465.3L1898.5 457.9L1900.6 451.1L1900.6 440.9L1900.6 434.1L1897.9 423.9L1894.5 413.8L1893.8 407.0L1889.0 403.6L1884.3 406.3L1878.2 411.7L1871.4 410.4L1872.8 400.2L1871.4 392.1L1867.3 386.6L1861.9 381.9L1857.8 376.4L1854.4 367.6L1849.0 364.9L1845.6 369.7L1838.8 371.0L1830.7 372.4L1825.3 373.1L1821.2 377.8L1818.5 382.6L1811.7 385.3L1806.3 390.0L1797.4 398.8L1790.0 405.6L1782.5 411.1L1775.7 415.8L1775.0 423.9L1776.4 430.1L1774.4 437.5L1773.0 444.3L1773.7 449.1L1768.9 452.4L1768.3 455.8L1762.1 458.6L1757.7 464.1L1751.3 458.6L1748.6 451.1L1745.9 442.9L1740.4 434.1L1736.4 421.9L1733.0 414.4L1728.9 403.6L1725.5 390.4L1724.8 383.2L1725.5 375.8L1723.5 368.3L1720.8 375.1L1713.3 378.5L1708.5 377.1L1701.1 370.3L1699.7 367.6L1707.9 364.2L1699.7 364.2L1697.0 361.5L1694.3 358.1L1688.9 356.1L1686.1 350.7L1682.7 346.6L1672.6 347.3L1662.4 347.3L1654.2 348.6L1648.8 348.6L1642.0 347.3L1631.9 346.6L1623.7 344.5L1618.3 337.1L1614.2 335.0L1604.7 337.8L1597.9 338.4L1591.1 335.7L1587.7 332.3L1581.0 329.6L1576.2 322.8L1572.1 315.4L1567.4 314.0L1563.3 313.3L1560.6 315.4L1557.2 318.8L1560.6 325.5L1564.0 332.3L1572.1 339.1L1572.1 345.9L1576.2 350.7L1576.2 345.9L1579.3 341.5L1581.6 347.3L1579.6 352.7L1584.4 355.4L1591.1 355.4L1600.6 353.4L1606.7 347.3L1611.5 342.5L1614.2 339.8L1614.2 349.3L1616.9 354.1L1629.1 358.8L1637.3 366.3L1631.9 374.4L1628.5 380.5L1623.7 390.0L1614.9 396.8L1606.7 401.6L1598.6 403.6L1585.7 409.0L1577.6 415.8L1565.4 420.6L1553.8 426.0L1536.8 432.1L1526.7 432.8L1524.6 428.7L1522.6 418.5L1521.2 407.7L1511.1 393.4L1504.3 381.9L1497.5 373.1L1492.7 362.9L1489.3 355.4L1483.9 349.3L1479.2 342.5L1472.4 333.7L1469.0 328.9L1466.3 328.9L1468.3 318.8L1464.9 328.9L1463.9 330.6L1459.5 326.9L1456.8 324.9L1453.4 318.1L1452.4 315.7ZM2198.5 591.6L2205.3 603.8L2207.3 616.7L2217.5 620.7L2220.9 633.6L2223.6 644.5L2229.0 649.9L2239.2 656.0L2244.0 662.8L2254.8 673.7L2254.8 678.4L2261.6 683.2L2269.7 690.6L2270.4 702.2L2273.1 710.3L2273.8 713.4L2269.7 725.9L2266.3 736.1L2261.6 742.2L2258.2 749.0L2254.8 756.5L2250.7 765.3L2249.0 773.4L2235.8 776.1L2225.0 784.3L2215.4 779.5L2213.4 778.9L2205.3 782.2L2191.7 778.9L2184.9 776.8L2179.5 770.0L2178.1 762.6L2171.3 760.5L2171.3 755.1L2167.9 751.0L2166.6 757.1L2161.2 757.8L2164.6 749.7L2167.3 742.9L2166.6 739.5L2162.5 747.6L2154.4 755.1L2151.7 755.8L2148.9 749.7L2142.2 742.9L2138.1 737.5L2127.2 736.1L2120.4 732.7L2106.9 733.4L2093.3 737.5L2083.1 740.2L2072.9 744.2L2069.6 749.0L2056.0 748.7L2045.8 749.0L2035.6 753.7L2031.5 757.1L2022.0 756.5L2012.5 752.0L2011.9 747.0L2016.6 744.9L2017.0 736.1L2013.2 725.9L2011.2 719.1L2009.2 714.4L2005.8 705.6L2001.7 696.7L2003.7 688.6L2001.7 685.2L2001.0 678.4L2003.0 671.6L2005.8 666.9L2007.8 671.0L2015.3 664.8L2023.4 659.4L2032.2 657.4L2036.3 656.7L2045.8 654.0L2054.6 649.2L2060.7 641.1L2060.7 634.3L2065.5 630.9L2070.2 636.3L2072.3 629.6L2076.3 624.1L2081.1 618.0L2087.9 614.0L2093.3 613.3L2101.4 619.4L2110.3 620.1L2111.6 612.6L2115.7 605.8L2119.4 603.4L2123.8 601.7L2131.3 597.0L2137.4 599.0L2147.6 601.1L2154.4 601.7L2159.8 601.7L2157.8 610.6L2153.7 615.3L2151.0 620.7L2156.4 625.5L2164.6 628.9L2174.7 633.6L2178.8 637.7L2186.9 637.7L2190.3 627.5L2192.4 617.3L2192.4 607.2L2194.4 600.4L2195.8 593.6ZM10.0 50.7L30.4 55.5L57.5 64.3L79.9 70.4L60.9 79.2L57.5 82.6L37.1 79.2L23.6 74.5L10.0 77.9ZM736.1 -10.4L770.0 2.5L804.0 1.9L834.5 8.6L848.1 20.2L861.6 33.8L859.6 41.9L885.4 43.9L885.4 49.4L868.4 55.5L871.8 67.7L878.6 77.9L892.2 91.4L899.0 101.6L915.9 106.4L929.5 112.5L939.7 111.1L943.1 101.6L953.3 91.4L960.0 79.2L977.0 72.4L1000.8 66.3L1034.7 56.1L1058.4 52.1L1065.2 43.9L1080.8 43.3L1083.5 33.8L1068.6 28.3L1082.2 23.6L1095.8 13.4L1102.5 3.2L1102.5 -10.4ZM1065.2 74.5L1078.8 68.4L1085.6 74.5L1095.8 70.4L1109.3 69.7L1122.9 67.7L1132.4 71.1L1139.2 77.9L1129.7 82.6L1116.1 86.0L1102.5 88.7L1089.0 86.0L1077.4 86.0L1082.2 81.9L1068.6 79.2L1082.2 77.9ZM394.8 190.5L383.2 188.5L373.1 183.0L361.5 175.6L366.3 174.2L379.8 178.3L388.7 183.7ZM341.2 165.4L332.3 159.3L328.9 151.8L337.8 152.5L337.1 157.9ZM183.0 132.1L198.0 129.4L198.7 125.4L191.2 125.4L182.4 128.1ZM328.9 144.4L322.2 136.9L312.0 130.1L306.5 125.4L315.4 126.7L325.5 135.5L333.7 142.3ZM829.1 195.9L835.9 189.8L831.1 189.2L841.3 174.9L848.1 168.8L854.9 169.5L850.1 178.3L854.9 180.3L859.6 183.7L867.8 184.4L868.4 189.8L873.9 195.9L871.8 202.0L865.0 200.7L863.7 195.3L852.8 200.7L854.9 195.9L841.3 195.9ZM795.1 202.0L804.0 204.1L810.7 203.7L807.4 206.8L798.5 204.8ZM793.8 180.3L807.4 183.0L812.8 185.8L804.0 184.4ZM655.3 370.3L661.5 366.3L668.2 362.9L678.4 362.2L688.6 363.6L698.8 366.9L709.0 372.4L717.8 376.4L728.0 381.9L722.5 383.9L705.6 383.9L707.6 379.2L700.1 378.5L696.7 372.4L685.2 370.3L676.4 368.3L669.6 365.6L664.8 369.0ZM726.6 394.1L734.7 395.4L739.5 395.4L745.6 398.8L753.1 395.4L763.2 394.8L767.3 392.7L763.2 388.7L756.5 385.3L746.3 383.9L737.5 383.9L733.4 385.3L737.5 388.0L740.2 392.7L732.7 392.7ZM700.1 394.8L705.6 393.4L713.7 396.1L710.3 398.2L703.5 397.5ZM775.5 394.1L785.6 394.1L784.3 396.8L775.5 396.8ZM700.8 348.6L703.5 347.9L704.2 354.7L700.8 353.4ZM704.9 337.1L708.3 339.1L709.0 341.8L706.9 342.5ZM812.1 446.3L817.5 445.7L817.5 450.4L812.1 450.4ZM814.1 66.3L800.6 77.9L787.0 90.1L792.4 94.1L780.2 98.2L770.0 96.2L759.9 94.1L746.3 88.7L732.7 81.9L725.9 81.3L705.6 82.6L702.2 77.9L729.3 74.5L732.7 69.0L739.5 62.9L729.3 56.1L712.4 53.4L698.8 43.9L681.8 45.3L661.5 43.9L647.9 41.2L630.9 39.9L624.1 35.1L620.7 27.0L627.5 18.8L647.9 17.5L658.1 20.2L678.4 18.8L688.6 27.0L709.0 24.9L725.9 31.7L746.3 35.1L763.2 39.9L773.4 47.3L766.6 54.1L783.6 57.5L800.6 62.9ZM641.1 75.8L654.7 73.1L664.8 76.5L677.1 82.6L686.6 86.0L675.0 87.4L663.5 84.6L650.6 89.4L639.7 86.7L647.9 82.6ZM668.2 92.1L675.0 94.1L664.8 96.9ZM687.2 95.5L692.7 100.9L685.2 99.6ZM434.1 34.4L423.9 33.1L434.1 39.9L457.9 41.9L437.5 45.3L444.3 50.7L461.3 53.4L488.4 52.8L512.2 50.0L539.3 52.1L542.7 45.3L529.1 40.5L519.0 35.8L522.3 25.6L512.2 21.5L498.6 22.2L498.6 30.4L485.0 24.9L464.7 24.9L437.5 24.3L427.3 27.0ZM379.8 30.4L393.4 35.8L407.0 34.4L423.9 33.1L434.1 23.6L447.7 20.9L434.1 14.8L407.0 13.4L386.6 14.8L390.0 20.2ZM539.3 23.6L556.3 17.5L573.2 22.2L566.5 30.4L576.6 35.1L556.3 35.1L535.9 29.0ZM583.4 29.0L607.2 24.9L620.7 17.5L593.6 15.4L583.4 18.8ZM556.3 50.0L576.6 47.3L583.4 52.1L569.8 53.4ZM607.2 11.4L654.7 13.4L688.6 12.7L688.6 3.2L607.2 -0.2ZM437.5 8.6L464.7 14.1L491.8 11.4L512.2 10.7L512.2 -0.2L437.5 -0.2ZM522.3 10.0L552.9 10.0L566.5 8.6L566.5 -0.2L525.7 -0.2ZM576.6 10.0L597.0 12.0L597.0 6.6L580.0 5.9ZM683.8 19.5L709.0 24.3L715.7 22.9L702.2 18.8ZM95.5 110.4L105.0 109.1L107.0 111.8L99.6 113.1ZM66.3 88.7L77.9 86.7L86.0 89.4L79.2 91.4ZM172.5 385.3L174.2 381.5L179.0 384.2L181.0 386.6L175.6 390.4L173.5 389.3ZM168.1 377.1L172.9 377.1L172.9 379.2L169.5 379.2ZM157.3 373.1L161.3 372.4L161.3 374.7L158.6 374.4ZM147.1 369.0L150.5 368.3L149.8 370.3ZM766.0 875.9L768.7 880.6L773.4 885.4L780.2 888.8L789.7 889.8L780.2 892.2L770.0 894.2L759.9 894.2L749.7 891.5L742.9 888.1L749.7 885.4L754.4 882.0L753.1 877.3L759.9 875.9ZM815.5 869.8L824.3 867.1L834.5 867.1L839.2 869.1L834.5 872.5L826.4 873.2L818.9 871.8ZM728.0 802.6L732.7 804.0L732.0 813.5L726.6 812.1ZM888.1 520.3L893.5 516.9L901.7 521.0L900.3 528.5L890.8 529.8ZM1566.0 600.4L1572.1 610.6L1574.2 623.5L1569.4 626.2L1568.7 634.3L1566.7 641.1L1562.6 654.7L1559.2 664.8L1555.2 677.1L1551.1 687.9L1540.2 692.7L1531.4 688.6L1528.0 681.8L1525.3 671.6L1525.3 664.8L1532.1 654.7L1532.8 644.5L1530.1 636.3L1533.5 628.9L1543.6 625.5L1551.8 619.4L1557.2 611.2L1562.6 603.8ZM1593.2 433.4L1601.3 433.4L1599.3 435.5L1594.5 435.5ZM1606.1 660.8L1610.1 660.8L1610.1 663.8L1606.7 663.5ZM1620.7 654.7L1623.7 655.3L1623.0 658.1L1620.3 657.7ZM1524.6 596.3L1526.7 597.7L1525.3 599.7ZM1116.8 326.6L1122.2 325.2L1119.5 328.9ZM1124.3 328.3L1127.0 328.3L1127.0 330.6L1124.3 330.3ZM1133.1 328.3L1137.8 324.2L1140.5 320.8L1137.2 327.6ZM1070.0 415.1L1072.7 415.1L1072.7 417.8L1070.0 417.8ZM1059.8 402.2L1062.5 402.2L1062.5 404.3L1059.8 404.3ZM1288.5 493.8L1291.9 493.8L1290.5 497.2ZM1497.5 557.6L1499.5 559.7L1499.5 563.1L1497.5 561.7ZM10.0 33.8L20.2 33.4L27.0 35.8L20.2 37.8L10.0 37.8ZM2453.0 33.8L2446.2 34.4L2444.8 37.1L2453.0 37.8ZM1192.8 179.3L1203.0 177.3L1207.7 177.6L1214.5 175.6L1224.7 174.6L1233.5 174.6L1241.0 171.8L1238.3 170.1L1235.6 169.5L1240.3 167.4L1243.4 162.0L1240.3 159.6L1233.5 160.0L1232.2 155.9L1230.8 152.5L1228.1 149.1L1222.7 147.1L1220.6 142.3L1216.6 138.9L1209.8 138.9L1213.8 135.5L1217.9 128.8L1219.3 128.1L1207.7 127.4L1203.0 128.8L1209.8 122.0L1197.5 121.3L1195.5 125.4L1192.1 130.1L1193.5 135.5L1189.4 134.9L1193.5 138.9L1194.2 143.0L1198.9 141.6L1198.9 146.4L1207.1 146.4L1207.7 149.8L1211.8 151.8L1210.4 156.6L1200.9 157.3L1203.7 160.0L1199.6 160.6L1203.7 164.0L1196.2 166.8L1203.0 168.8L1209.8 170.1L1213.2 168.8L1210.4 171.5L1202.3 172.2L1196.2 177.6ZM1189.4 157.3L1190.8 160.0L1188.0 164.7L1180.6 166.1L1173.8 168.8L1165.0 169.5L1161.6 166.1L1167.0 162.0L1166.3 157.3L1162.9 153.9L1165.0 150.5L1173.8 149.8L1173.1 145.7L1180.6 143.7L1189.4 144.4L1193.5 147.8L1193.5 150.5L1189.4 152.5ZM1316.3 261.1L1322.4 259.7L1337.3 259.0L1334.6 266.5L1333.9 269.9L1328.5 267.9L1316.3 263.8ZM1287.1 240.7L1293.9 238.7L1298.0 244.1L1296.6 252.9L1292.6 254.3L1288.5 253.6L1288.5 245.5ZM1289.8 231.2L1295.3 227.2L1295.9 233.9L1293.9 238.0L1289.8 234.6ZM1391.0 278.0L1397.7 278.4L1410.0 279.4L1408.6 281.4L1399.1 281.8L1391.0 279.7ZM1450.7 281.4L1455.4 279.4L1466.3 276.7L1462.2 281.4L1455.4 284.2ZM1247.8 250.2L1252.5 247.8L1255.2 249.5L1252.5 252.3ZM1388.9 255.0L1395.0 257.0L1398.4 261.1L1391.6 257.7ZM1420.1 273.3L1422.8 271.6L1422.2 274.7ZM1407.2 252.9L1412.0 252.3L1410.0 254.3ZM1306.1 141.0L1314.9 138.3L1317.0 141.0L1314.3 145.7L1307.5 144.4ZM1298.0 142.3L1304.1 142.3L1304.8 145.0L1300.0 145.4ZM1354.3 130.8L1360.4 126.0L1359.7 129.4L1355.7 132.8ZM1342.8 137.6L1347.5 130.1L1344.8 135.5ZM1379.4 123.3L1387.6 121.3L1389.6 122.6L1382.1 125.4ZM1381.5 119.3L1387.6 118.6L1386.2 120.6ZM1181.3 97.5L1187.4 96.2L1186.0 98.9ZM1220.6 107.7L1224.7 107.0L1223.3 112.5L1220.6 110.4ZM1209.1 117.9L1213.8 117.2L1211.8 119.6ZM1184.0 124.0L1189.4 122.0L1188.0 126.0L1182.6 130.1L1181.3 128.1ZM1581.0 31.7L1591.1 24.9L1601.3 20.9L1611.5 15.4L1618.3 11.4L1628.5 6.6L1638.6 1.9L1686.1 -3.6L1692.9 -0.2L1659.0 6.6L1642.0 10.7L1628.5 16.8L1611.5 22.2L1608.1 30.4L1621.7 39.2L1604.7 39.9L1594.5 35.8ZM1559.2 48.7L1567.4 47.3L1572.8 50.0L1566.0 52.8ZM1628.5 41.9L1635.2 41.2L1640.7 45.3L1633.2 46.0ZM2161.2 6.6L2181.5 1.9L2215.4 5.9L2249.4 8.6L2222.2 11.4L2195.1 10.7L2174.7 12.0ZM2181.5 17.5L2195.1 17.5L2205.3 22.2L2188.3 21.5ZM1703.1 20.2L1716.7 20.2L1713.3 23.6ZM2195.1 150.5L2201.2 151.8L2203.9 162.7L2203.9 172.9L2207.3 183.0L2213.4 187.1L2203.9 188.5L2200.5 198.0L2205.3 202.7L2200.5 202.7L2195.8 207.5L2194.4 200.0L2195.8 191.2L2195.8 179.6L2193.1 167.4L2193.7 157.3ZM2181.5 232.6L2183.6 225.8L2190.3 225.1L2193.1 217.0L2195.1 210.2L2203.2 217.0L2212.1 220.4L2218.2 218.3L2218.8 225.1L2212.1 227.8L2203.9 233.9L2193.7 230.5L2188.3 231.2L2188.3 236.0L2183.6 238.0ZM2187.6 237.3L2191.7 238.0L2194.4 247.5L2191.7 257.7L2188.3 261.1L2187.6 268.5L2185.6 274.7L2187.6 276.7L2181.5 281.4L2180.2 277.4L2176.1 280.1L2173.4 284.2L2169.3 284.2L2161.2 284.2L2160.5 281.4L2157.8 286.9L2153.0 292.3L2148.3 288.9L2149.6 284.2L2140.8 284.2L2130.6 286.9L2120.4 288.9L2119.8 285.5L2127.2 281.4L2134.0 277.4L2144.2 277.4L2153.0 277.4L2159.1 271.9L2161.2 265.2L2163.2 269.2L2171.3 265.2L2177.4 259.7L2180.8 250.9L2181.5 243.4L2183.6 239.4ZM2129.3 292.3L2132.7 287.5L2140.8 285.5L2145.6 289.6L2142.2 293.0L2137.4 291.6L2134.0 296.4ZM2112.3 293.7L2119.8 288.9L2125.9 291.6L2126.6 297.0L2122.5 305.9L2118.4 308.6L2115.0 306.5L2115.0 299.8L2111.6 297.0ZM2052.6 349.3L2056.7 347.3L2058.7 349.3L2056.7 356.1L2053.3 364.2L2051.2 370.0L2047.2 364.2L2046.5 359.5ZM1969.1 388.7L1974.5 383.9L1982.0 382.6L1984.7 385.9L1981.3 391.4L1974.5 395.4L1969.1 393.4ZM2087.9 293.0L2092.6 291.6L2091.9 293.0L2088.6 293.7ZM1773.7 452.4L1776.4 453.8L1782.5 461.3L1787.3 469.4L1785.9 474.8L1778.4 478.6L1775.0 476.9L1773.0 471.4L1773.0 463.3ZM2049.9 393.4L2058.7 394.8L2061.4 403.6L2056.7 410.4L2056.7 417.2L2061.4 423.3L2068.2 424.6L2073.6 432.1L2069.6 431.4L2063.4 426.7L2056.7 424.6L2050.6 424.6L2049.9 419.2L2046.5 417.8L2045.1 409.0L2048.5 406.3L2048.5 400.2ZM2048.5 428.0L2053.9 428.0L2056.0 433.4L2053.3 436.2ZM2026.8 461.9L2035.6 453.8L2042.4 447.0L2043.8 441.6L2040.4 448.4L2034.3 456.5ZM2058.7 438.9L2066.8 440.9L2063.4 447.7L2059.4 447.7ZM2062.1 451.1L2068.2 445.0L2069.6 448.4L2066.8 457.2ZM2068.2 454.5L2072.9 442.9L2072.9 449.1ZM2075.0 434.1L2081.8 434.1L2085.2 442.9L2081.1 449.7L2078.4 450.4L2075.7 445.0L2079.1 440.9ZM2071.6 452.4L2077.0 450.4L2076.3 453.8ZM2059.4 471.4L2061.4 464.7L2068.9 459.9L2077.7 461.3L2082.4 452.4L2088.6 458.6L2090.6 469.4L2087.9 476.2L2082.4 472.8L2084.5 480.9L2073.6 476.9L2072.9 468.1L2066.2 468.1ZM1971.2 508.8L1980.0 507.4L1986.8 502.7L1998.3 497.2L2005.1 487.7L2015.3 481.6L2023.4 472.1L2030.2 475.5L2040.4 483.7L2032.9 489.8L2028.8 495.2L2031.5 505.4L2039.0 512.2L2030.9 513.5L2028.8 522.3L2022.0 529.1L2020.7 539.3L2018.7 546.1L2009.2 546.8L2003.0 542.0L1991.5 542.0L1979.3 538.6L1977.9 528.5L1971.8 522.3L1971.2 515.6ZM1878.2 480.9L1893.1 483.7L1901.3 493.2L1912.8 503.3L1921.6 504.7L1932.5 514.2L1935.2 525.7L1940.6 531.2L1950.8 538.6L1950.1 549.5L1949.4 558.3L1941.3 557.0L1933.8 552.2L1925.7 546.1L1916.9 535.9L1912.8 525.7L1904.0 516.9L1901.3 507.4L1891.1 497.2L1879.5 487.1ZM1945.4 565.1L1951.5 559.0L1957.6 559.3L1967.8 563.1L1981.3 565.8L1984.7 562.4L1995.6 565.8L2007.8 571.9L2007.8 577.3L1996.3 576.0L1984.7 574.6L1969.8 571.2L1954.2 569.2ZM2008.5 574.6L2015.9 574.6L2013.2 578.7ZM2018.7 576.0L2023.4 575.3L2022.0 579.3ZM2024.1 576.6L2033.6 575.3L2039.7 577.3L2035.6 579.3L2025.4 580.0ZM2044.4 576.6L2056.0 576.6L2065.5 575.3L2064.8 578.0L2052.6 579.3L2045.1 578.7ZM2039.0 583.4L2047.2 582.7L2051.2 587.5L2045.8 588.2ZM2069.6 588.8L2075.7 582.1L2083.8 577.3L2095.3 576.0L2089.9 581.4L2079.7 585.5L2072.9 588.8ZM2044.4 513.5L2051.2 510.1L2064.8 512.8L2076.3 512.2L2081.1 508.1L2076.3 516.2L2066.2 515.6L2052.6 516.2L2046.5 523.7L2053.9 525.7L2068.2 524.4L2059.4 530.5L2057.3 535.9L2062.8 542.7L2067.5 548.1L2064.1 550.2L2056.0 547.5L2052.6 537.3L2048.5 539.3L2048.5 556.3L2042.4 556.3L2042.4 542.7L2038.3 537.3L2044.4 519.6ZM2096.7 506.7L2100.1 504.0L2104.8 512.2L2100.1 516.2L2101.4 523.7L2098.1 516.9ZM2100.1 540.7L2110.3 538.0L2119.1 541.3L2110.3 542.0ZM2086.5 540.7L2094.7 540.7L2092.6 544.7L2087.2 543.4ZM1945.4 531.2L1952.2 529.8L1955.5 538.6L1949.4 535.9ZM2120.4 524.4L2130.6 521.7L2140.8 524.4L2142.2 534.6L2147.6 541.3L2157.8 533.9L2167.9 529.8L2181.5 535.2L2188.3 536.6L2201.9 542.0L2212.1 544.7L2220.9 552.9L2229.0 559.7L2234.5 564.4L2230.4 566.5L2237.2 573.2L2244.6 580.0L2252.8 588.2L2249.4 590.9L2235.8 588.2L2228.3 582.1L2222.2 573.9L2212.1 570.5L2205.3 575.3L2201.9 581.4L2191.7 581.4L2181.5 574.6L2169.3 575.3L2166.6 568.5L2172.7 565.1L2167.9 556.3L2154.4 550.2L2144.2 546.1L2134.0 546.8L2132.7 540.7L2127.2 538.0L2137.4 535.2L2128.6 532.5L2120.4 528.5ZM2237.8 557.0L2249.4 556.3L2259.6 547.5L2265.0 548.1L2263.0 554.2L2256.2 559.7L2246.0 561.7ZM2254.8 537.3L2263.0 541.3L2269.7 549.5L2267.7 550.2L2259.6 541.3ZM2280.6 555.6L2286.7 559.7L2289.4 565.1L2284.7 563.1ZM2314.5 582.1L2322.7 584.1L2318.6 586.1ZM2321.3 576.0L2326.1 582.1L2324.0 583.4ZM2344.4 655.3L2354.6 661.5L2364.7 670.3L2358.0 668.2L2347.8 660.1ZM2362.0 620.7L2366.1 622.8L2364.7 625.5ZM2366.8 627.5L2370.2 630.9L2367.5 631.6ZM2434.6 637.7L2443.5 637.7L2443.5 642.5L2434.6 641.8ZM2444.1 633.0L2453.0 628.9L2453.0 633.0L2446.2 634.3ZM2213.4 795.1L2222.2 797.9L2229.0 797.2L2237.8 796.5L2237.8 804.0L2235.8 812.1L2229.0 814.8L2222.2 814.1L2217.5 807.4L2214.1 800.6ZM2403.4 752.4L2407.5 756.5L2414.3 758.5L2417.7 765.3L2417.7 769.4L2422.4 766.6L2425.1 772.7L2432.6 776.1L2442.8 774.4L2439.4 781.6L2438.7 785.0L2432.6 787.0L2431.9 793.1L2425.8 799.2L2420.4 801.2L2417.7 799.2L2419.7 793.8L2419.0 789.7L2412.2 787.7L2410.9 785.6L2416.3 782.2L2417.0 776.8L2416.3 770.0L2413.6 765.3L2406.1 757.8ZM2403.4 793.8L2406.1 799.2L2412.2 797.2L2414.3 801.9L2410.2 806.7L2404.1 812.1L2406.1 816.2L2400.0 817.5L2393.9 820.2L2392.6 824.3L2389.9 830.4L2383.7 834.5L2374.2 835.2L2368.1 832.5L2361.3 830.4L2364.7 824.3L2370.2 820.2L2374.2 816.9L2385.1 810.7L2393.2 806.7L2395.3 801.9L2399.4 795.8ZM2368.1 837.9L2372.9 836.5L2372.2 839.2ZM2158.4 761.2L2165.2 760.5L2168.6 762.6L2161.2 763.2ZM2115.7 596.3L2123.8 595.6L2122.5 599.0L2116.4 599.0ZM2157.1 612.6L2160.5 612.6L2159.8 616.0L2157.1 615.3ZM2228.3 217.0L2235.8 211.5L2241.2 210.2L2234.5 214.3ZM2218.2 221.7L2224.3 217.0L2222.2 220.4ZM2285.3 179.0L2290.8 174.2L2289.4 177.6ZM112.5 148.4L122.6 145.7L123.3 148.4L115.2 149.8ZM97.5 156.6L103.6 152.5L103.0 155.9ZM85.3 159.3L92.8 155.9L91.4 158.6ZM43.9 166.1L50.7 164.0L49.4 166.1ZM30.4 168.1L34.4 166.4L33.8 168.5ZM1697.7 851.5L1703.1 849.4L1709.9 852.1L1707.9 855.5L1701.7 855.5ZM612.5 523.0L614.0 521.9L615.4 523.0L614.0 524.2ZM617.0 523.0L618.7 521.7L620.4 523.0L618.7 524.3ZM609.6 519.0L611.2 517.7L612.9 519.0L611.2 520.2ZM623.3 525.1L624.1 524.1L625.0 525.1L624.1 526.0ZM215.8 638.4L217.7 637.3L219.5 638.4L217.7 639.5ZM201.6 632.3L203.4 631.6L205.2 632.3L203.4 632.9ZM280.1 580.0L281.4 579.3L282.8 580.0L281.4 580.8ZM286.8 585.5L288.2 584.4L289.6 585.5L288.2 586.5ZM246.7 627.5L247.5 626.8L248.3 627.5L247.5 628.2ZM266.8 634.3L267.9 633.0L269.0 634.3L267.9 635.6ZM293.4 654.7L295.0 654.0L296.7 654.7L295.0 655.3ZM239.0 620.7L240.7 620.1L242.4 620.7L240.7 621.4ZM252.8 637.7L254.3 637.1L255.8 637.7L254.3 638.4ZM277.2 644.5L278.0 643.2L278.9 644.5L278.0 645.7ZM307.5 664.8L308.6 664.1L309.6 664.8L308.6 665.6ZM228.7 678.4L230.5 677.2L232.4 678.4L230.5 679.7ZM63.2 611.9L64.3 610.6L65.4 611.9L64.3 613.2ZM71.7 616.0L73.1 614.9L74.5 616.0L73.1 617.1ZM42.9 661.5L43.9 660.1L45.0 661.5L43.9 662.8ZM49.2 645.8L50.7 644.5L52.3 645.8L50.7 647.2ZM145.3 662.8L147.1 662.0L148.9 662.8L147.1 663.6ZM162.2 506.1L163.4 505.4L164.6 506.1L163.4 506.7ZM144.7 580.0L145.7 579.4L146.7 580.0L145.7 580.6ZM64.5 581.4L65.6 580.3L66.8 581.4L65.6 582.4ZM22.8 616.0L23.6 614.9L24.4 616.0L23.6 617.1ZM34.6 609.2L35.8 608.4L37.0 609.2L35.8 610.0ZM1039.8 257.7L1041.5 256.8L1043.2 257.7L1041.5 258.6ZM1057.3 262.4L1058.4 261.5L1059.6 262.4L1058.4 263.4ZM1045.3 256.3L1046.9 255.7L1048.5 256.3L1046.9 256.9ZM1017.9 250.9L1019.8 250.3L1021.6 250.9L1019.8 251.5ZM1114.5 297.0L1116.1 295.8L1117.7 297.0L1116.1 298.3ZM791.6 299.8L792.4 298.6L793.3 299.8L792.4 300.9ZM1725.6 491.8L1726.9 490.8L1728.1 491.8L1726.9 492.8ZM1729.4 505.4L1730.3 504.8L1731.1 505.4L1730.3 506.0ZM1727.2 519.0L1728.2 517.6L1729.2 519.0L1728.2 520.3ZM1726.5 474.8L1727.5 473.7L1728.6 474.8L1727.5 476.0ZM1721.0 568.5L1722.8 567.2L1724.6 568.5L1722.8 569.8ZM1606.9 550.2L1608.1 549.3L1609.3 550.2L1608.1 551.0ZM1859.8 434.1L1861.2 433.0L1862.6 434.1L1861.2 435.3ZM1861.0 440.9L1861.9 439.8L1862.8 440.9L1861.9 442.1ZM1860.9 428.7L1862.6 427.5L1864.3 428.7L1862.6 429.9ZM1867.2 468.1L1868.0 466.7L1868.9 468.1L1868.0 469.4ZM1866.4 459.2L1867.3 458.4L1868.2 459.2L1867.3 460.1ZM1173.7 37.1L1175.2 35.9L1176.6 37.1L1175.2 38.4ZM2212.9 427.3L2214.1 426.0L2215.3 427.3L2214.1 428.6ZM2142.8 468.7L2144.2 467.9L2145.6 468.7L2144.2 469.5ZM2219.0 415.8L2220.2 415.1L2221.4 415.8L2220.2 416.5ZM2304.1 472.1L2305.0 471.5L2305.9 472.1L2305.0 472.8ZM2260.0 468.7L2261.6 467.4L2263.2 468.7L2261.6 470.1ZM2392.3 470.8L2393.2 470.2L2394.2 470.8L2393.2 471.4ZM2403.6 509.4L2405.5 508.5L2407.3 509.4L2405.5 510.4ZM2362.8 522.3L2364.1 521.6L2365.3 522.3L2364.1 523.1ZM2446.1 576.6L2447.5 575.4L2449.0 576.6L2447.5 577.8ZM816.2 419.9L817.5 419.0L818.8 419.9L817.5 420.8ZM813.3 409.0L814.1 407.7L815.0 409.0L814.1 410.3ZM816.7 428.7L817.5 427.8L818.4 428.7L817.5 429.6ZM813.8 414.4L815.5 413.8L817.2 414.4L815.5 415.1ZM803.7 401.6L805.3 400.2L806.9 401.6L805.3 402.9ZM811.3 436.8L812.8 435.7L814.3 436.8L812.8 438.0ZM826.1 429.4L827.0 428.5L828.0 429.4L827.0 430.3ZM767.0 436.2L768.0 434.9L769.0 436.2L768.0 437.4ZM762.1 436.2L763.2 435.2L764.4 436.2L763.2 437.1ZM754.6 434.1L756.5 432.9L758.4 434.1L756.5 435.4ZM789.9 394.8L791.7 393.9L793.6 394.8L791.7 395.7ZM741.5 371.7L742.9 370.6L744.2 371.7L742.9 372.8ZM731.4 366.3L732.7 365.5L734.0 366.3L732.7 367.0ZM724.7 356.1L725.9 355.4L727.2 356.1L725.9 356.7ZM714.5 352.7L715.7 351.3L717.0 352.7L715.7 354.0ZM717.3 359.5L719.1 358.4L721.0 359.5L719.1 360.5ZM678.4 388.0L679.8 387.2L681.1 388.0L679.8 388.8ZM2380.8 651.3L2381.7 650.5L2382.6 651.3L2381.7 652.0ZM2371.9 639.1L2373.6 637.8L2375.2 639.1L2373.6 640.3ZM2360.1 597.7L2361.3 596.5L2362.6 597.7L2361.3 598.9ZM2315.6 597.0L2317.2 595.9L2318.9 597.0L2317.2 598.1ZM2298.7 574.6L2300.3 573.4L2301.8 574.6L2300.3 575.8ZM2309.2 573.2L2310.5 572.1L2311.7 573.2L2310.5 574.4ZM2370.4 715.7L2371.5 714.8L2372.6 715.7L2371.5 716.7ZM2308.8 732.7L2310.5 731.6L2312.1 732.7L2310.5 733.8ZM32.6 817.5L33.8 816.2L34.9 817.5L33.8 818.8ZM2443.3 856.2L2444.8 855.2L2446.3 856.2L2444.8 857.2ZM2357.1 863.0L2358.0 862.0L2358.8 863.0L2358.0 864.0ZM2378.6 875.2L2379.7 874.1L2380.8 875.2L2379.7 876.3ZM1486.7 837.2L1488.0 836.0L1489.3 837.2L1488.0 838.4ZM1580.8 833.8L1582.3 832.6L1583.8 833.8L1582.3 835.0ZM1756.2 781.6L1757.4 780.5L1758.6 781.6L1757.4 782.6ZM1274.7 517.6L1276.3 516.4L1277.9 517.6L1276.3 518.8ZM1280.5 508.1L1281.7 506.9L1282.9 508.1L1281.7 509.3ZM1267.7 528.5L1269.5 527.3L1271.2 528.5L1269.5 529.6ZM1190.9 627.5L1192.8 626.2L1194.7 627.5L1192.8 628.8ZM1132.4 572.6L1133.8 571.6L1135.1 572.6L1133.8 573.5ZM1162.6 792.4L1163.6 791.2L1164.6 792.4L1163.6 793.6ZM1146.2 770.7L1148.0 769.8L1149.8 770.7L1148.0 771.6ZM1887.5 601.7L1889.0 600.6L1890.6 601.7L1889.0 602.9ZM1947.2 590.2L1948.8 589.5L1950.4 590.2L1948.8 590.9ZM487.4 702.9L489.1 701.8L490.8 702.9L489.1 703.9ZM687.1 747.6L688.6 746.8L690.1 747.6L688.6 748.5ZM695.3 747.0L696.7 745.8L698.2 747.0L696.7 748.1ZM2088.4 493.2L2089.9 492.0L2091.4 493.2L2089.9 494.3ZM2082.3 498.6L2083.1 497.9L2084.0 498.6L2083.1 499.3ZM2094.0 523.7L2095.3 522.6L2096.6 523.7L2095.3 524.8ZM2112.6 531.8L2113.7 530.7L2114.7 531.8L2113.7 532.9ZM2142.7 559.7L2144.2 559.1L2145.7 559.7L2144.2 560.2ZM2122.5 570.5L2123.8 569.8L2125.2 570.5L2123.8 571.3ZM2111.4 573.2L2112.3 572.6L2113.2 573.2L2112.3 573.9ZM2092.1 574.6L2093.3 573.9L2094.5 574.6L2093.3 575.3ZM2068.5 529.1L2069.6 528.6L2070.6 529.1L2069.6 529.7ZM2056.7 579.3L2058.0 578.5L2059.3 579.3L2058.0 580.2ZM2195.0 335.7L2196.4 334.7L2197.9 335.7L2196.4 336.8ZM2189.3 350.7L2190.3 349.4L2191.4 350.7L2190.3 351.9ZM2109.5 326.9L2110.3 326.0L2111.1 326.9L2110.3 327.8ZM2099.0 339.1L2100.1 338.2L2101.2 339.1L2100.1 340.0ZM2097.8 340.5L2098.7 339.3L2099.7 340.5L2098.7 341.7ZM2073.1 353.4L2074.3 352.8L2075.5 353.4L2074.3 353.9ZM2119.0 308.6L2120.4 308.0L2121.9 308.6L2120.4 309.2ZM2115.6 312.7L2117.1 311.8L2118.5 312.7L2117.1 313.5ZM2281.9 179.6L2283.3 178.3L2284.8 179.6L2283.3 181.0ZM2268.0 189.8L2269.7 188.9L2271.4 189.8L2269.7 190.7ZM2261.3 200.0L2263.0 198.9L2264.6 200.0L2263.0 201.1ZM2251.6 205.4L2252.8 204.8L2254.0 205.4L2252.8 206.1ZM2244.5 207.5L2246.0 206.5L2247.4 207.5L2246.0 208.5ZM76.0 132.1L77.9 130.8L79.7 132.1L77.9 133.5ZM79.1 134.9L80.6 134.0L82.0 134.9L80.6 135.7ZM59.1 164.0L60.9 163.5L62.7 164.0L60.9 164.6ZM22.6 167.4L23.6 166.4L24.5 167.4L23.6 168.4ZM2444.7 170.1L2446.2 169.5L2447.7 170.1L2446.2 170.8ZM2404.0 160.0L2405.5 158.7L2407.0 160.0L2405.5 161.2ZM2356.7 145.7L2358.0 144.8L2359.2 145.7L2358.0 146.6ZM2367.1 147.8L2368.1 147.0L2369.2 147.8L2368.1 148.5ZM1370.8 262.4L1372.6 261.6L1374.5 262.4L1372.6 263.3ZM1369.4 259.0L1371.3 257.8L1373.1 259.0L1371.3 260.3ZM1365.1 250.2L1366.5 249.5L1368.0 250.2L1366.5 251.0ZM1402.0 268.5L1403.8 267.6L1405.7 268.5L1403.8 269.5ZM1401.2 267.2L1402.5 266.4L1403.8 267.2L1402.5 268.0ZM1412.1 262.8L1414.0 261.8L1415.9 262.8L1414.0 263.7ZM1406.8 258.4L1407.9 257.4L1409.0 258.4L1407.9 259.3ZM1401.5 248.2L1402.5 247.1L1403.4 248.2L1402.5 249.2ZM1397.1 242.8L1398.4 242.0L1399.7 242.8L1398.4 243.5ZM1327.5 275.3L1329.2 274.1L1330.9 275.3L1329.2 276.5ZM1312.1 269.2L1312.9 268.2L1313.7 269.2L1312.9 270.2ZM1294.8 227.2L1295.9 225.8L1297.1 227.2L1295.9 228.5ZM1239.3 255.0L1241.0 254.2L1242.6 255.0L1241.0 255.7ZM1257.5 247.5L1258.6 246.8L1259.7 247.5L1258.6 248.2ZM1186.8 140.3L1188.7 139.5L1190.6 140.3L1188.7 141.1ZM1187.9 136.2L1189.4 135.3L1190.9 136.2L1189.4 137.1ZM1198.7 151.1L1200.3 150.1L1201.8 151.1L1200.3 152.2ZM1221.0 174.9L1222.7 174.3L1224.3 174.9L1222.7 175.5ZM1214.9 185.1L1216.6 184.3L1218.2 185.1L1216.6 185.9ZM1212.4 183.4L1213.8 182.6L1215.2 183.4L1213.8 184.2ZM1287.3 147.8L1288.5 146.8L1289.6 147.8L1288.5 148.7ZM1332.0 145.0L1333.3 144.2L1334.6 145.0L1333.3 145.9ZM1365.6 110.4L1367.2 109.4L1368.8 110.4L1367.2 111.5ZM1365.0 109.1L1365.8 108.3L1366.7 109.1L1365.8 109.8ZM1544.4 582.7L1545.7 581.4L1547.0 582.7L1545.7 584.0ZM1531.0 601.7L1532.8 600.8L1534.6 601.7L1532.8 602.7ZM1537.4 605.8L1538.2 604.6L1539.0 605.8L1538.2 607.0ZM1600.0 626.8L1601.3 625.8L1602.6 626.8L1601.3 627.9ZM1660.1 652.6L1661.7 651.6L1663.3 652.6L1661.7 653.7Z" fill="none" stroke="#000" stroke-width="1.15" stroke-linejoin="round"/>
<g clip-path="url(#land)">
<path d="M1156.8 111.8L1448.6 111.8L1448.6 281.4L1156.8 281.4Z" fill="url(#mb)"/><path d="M1448.6 111.8L1448.6 281.4L1469.0 281.4L1469.0 437.5L1692.9 437.5L1692.9 281.4L1774.4 281.4L1774.4 193.2L1570.8 193.2L1570.8 179.6L1448.6 179.6Z" fill="url(#mc)"/><path d="M1421.5 10.0L2453.0 10.0L2453.0 233.9L2147.6 233.9L2147.6 179.6L1774.4 179.6L1774.4 193.2L1570.8 193.2L1570.8 179.6L1448.6 179.6L1448.6 111.8L1421.5 111.8Z" fill="url(#md)"/><path d="M1109.3 281.4L1584.4 281.4L1584.4 756.5L1109.3 756.5Z" fill="url(#ma)"/><path d="M1692.9 281.4L1774.4 281.4L1774.4 315.4L1828.6 335.7L1889.7 328.9L1889.7 376.4L1855.8 376.4L1855.8 478.2L1692.9 478.2Z" fill="url(#mc)"/><path d="M1774.4 179.6L2147.6 179.6L2147.6 233.9L2072.9 233.9L2072.9 376.4L1889.7 376.4L1889.7 328.9L1828.6 335.7L1774.4 315.4Z" fill="url(#ma)"/><path d="M1855.8 376.4L2195.1 376.4L2195.1 593.6L1855.8 593.6Z" fill="url(#mb)"/><path d="M2072.9 233.9L2222.2 233.9L2222.2 315.4L2072.9 315.4Z" fill="url(#mb)"/><path d="M675.0 430.7L1000.8 430.7L1000.8 899.0L675.0 899.0Z" fill="url(#md)"/><path d="M430.7 297.7L452.4 298.4L478.2 306.5L508.8 303.2L532.5 322.2L556.3 332.3L573.2 343.9L573.2 369.7L824.3 369.7L824.3 430.7L709.0 430.7L709.0 471.4L586.8 471.4L430.7 383.2Z" fill="url(#mb)"/>
<path d="M305.5 51.4L325.5 71.8L356.1 91.4L371.0 106.4L390.0 111.8M288.2 111.8L539.3 111.8L588.2 111.8M417.2 111.8L417.2 153.9L430.7 163.4L444.3 172.9L453.1 182.4L457.4 186.4M485.0 111.8L485.0 186.4M539.3 111.8L543.4 145.7L543.4 186.4M585.8 183.7L585.8 160.3L627.5 133.2M692.0 169.5L692.0 196.6L709.0 206.8L726.6 212.2M799.9 109.8L791.7 125.4L776.8 145.7L774.1 166.1L797.2 166.1L799.9 160.6L844.0 166.1L844.0 170.1M539.3 111.8L539.3 83.3L471.4 74.5L412.4 46.6M390.0 205.4L423.9 206.8L437.5 206.8M388.7 233.9L457.5 233.9L477.9 233.9M437.5 186.4L437.5 219.0L437.5 233.9M444.0 186.4L444.0 193.9L454.5 202.7L464.7 217.0L477.9 217.0M477.9 233.9L477.9 213.6M477.9 213.6L525.4 213.6M477.9 240.7L539.0 240.7M457.5 233.9L457.5 267.9M491.5 240.7L491.5 267.9M457.5 267.9L589.5 267.9L589.5 271.3L624.1 271.3L634.3 270.2L663.5 270.6L716.4 270.9M417.2 233.9L417.2 254.3L453.8 281.4L453.1 297.0M491.5 267.9L491.5 306.5M532.2 267.9L532.2 301.8L508.1 301.8M532.5 271.3L552.9 271.3L552.9 284.5L590.5 290.6M539.0 240.7L539.0 267.9M539.0 247.5L584.8 247.5M525.4 227.2L563.1 227.2L577.0 230.5M525.4 207.1L576.3 207.1M525.4 186.4L525.4 240.7M571.9 186.4L576.3 207.1L577.0 223.8M577.0 223.8L612.6 223.8M581.7 243.4L611.2 244.8M606.5 202.0L601.7 210.2L612.6 223.8L616.3 230.5L611.2 244.8L620.1 255.7L626.5 267.9L624.1 271.3L619.4 281.4L613.3 295.0L609.9 308.6L622.4 308.6L622.1 314.0M577.0 230.5L580.7 240.7L581.7 243.4L589.5 253.6L589.5 267.9M593.3 295.0L613.3 295.0M593.3 291.3L593.3 308.6L595.0 317.4M590.5 271.3L590.5 290.6M616.3 230.5L635.7 230.5M637.7 236.0L637.7 252.3L634.3 262.4M656.0 236.0L656.0 253.6M641.1 235.6L665.5 236.0M626.5 267.9L634.3 262.4L647.9 261.1L656.0 253.6L671.0 258.4L685.2 243.4M685.2 231.9L685.2 249.5M685.2 249.4L717.1 249.4M690.3 233.9L720.2 233.9L724.6 238.3M733.7 213.6L734.1 233.9L732.7 240.7M618.7 281.4L659.4 281.4L667.6 281.4M633.0 281.4L631.6 313.3M650.6 281.4L654.7 299.8L654.7 308.6M637.0 308.6L654.7 308.6L673.7 311.6L678.4 310.6M667.6 281.4L681.1 301.1M667.6 281.4L681.8 280.4L690.6 282.8L698.4 289.2M663.5 270.6L675.0 264.5L671.0 258.4M675.0 264.5L686.6 264.5L700.1 251.6L704.2 252.3M734.1 229.2L739.5 228.8L747.6 229.2L751.0 227.8M732.7 233.6L744.2 233.9L747.0 233.9M739.5 213.6L739.5 228.8M749.0 211.5L749.7 226.5M2106.9 620.1L2106.9 733.4M2106.9 695.4L2167.9 695.4M2167.9 630.9L2167.9 695.4M2167.9 695.4L2188.3 695.4L2188.3 715.7M2188.3 695.4L2188.3 776.8M2188.3 715.7L2242.6 715.7L2259.6 715.7L2273.1 710.3M2188.3 749.7L2205.3 757.8L2218.8 763.2L2229.0 763.2L2237.2 768.7L2249.0 773.4" fill="none" stroke="#989898" stroke-width="1.2"/>
<path d="M274.7 46.3L274.7 109.8L288.2 111.8L298.4 118.6L312.0 113.1L325.5 122.6L337.1 134.9L349.3 138.9L347.9 145.7M395.4 186.4L585.8 186.4L588.2 184.4L600.4 189.2L610.6 192.5L624.1 193.2L631.6 191.2L656.0 200.7L658.1 203.4L664.8 206.8L671.6 211.5L672.3 227.2L667.6 233.9L680.5 232.6L695.4 228.5L695.0 225.1L702.2 223.1L712.4 219.7L724.6 213.6L746.3 213.6L751.0 210.9L755.1 204.8L761.9 197.0L768.0 197.6L771.4 199.7L771.4 208.8L774.1 212.2L776.8 214.3M436.8 298.4L453.1 297.0L452.4 298.4L478.2 306.5L497.2 306.5L497.2 303.2L508.8 303.2L519.6 311.3L522.3 318.1L531.2 322.2L535.9 316.7L543.4 316.7L550.8 326.9L556.3 332.3L559.0 339.8L571.9 343.2M605.8 420.6L605.8 415.1L609.2 409.7L618.0 409.7L611.2 401.9L614.0 401.9L614.1 398.2L626.5 398.2L626.5 411.1L628.2 411.1M626.5 398.2L632.3 393.4M626.5 411.1L625.5 421.2L620.1 425.6M625.5 421.2L630.9 423.9L636.3 425.3L635.7 428.0M639.1 430.7L643.1 425.3L649.2 424.6L656.0 418.5L666.9 417.2M649.9 443.6L663.5 445.0M668.9 464.0L671.0 453.8M702.9 470.1L706.2 459.9M744.9 385.3L744.2 396.8M747.6 438.9L739.5 443.6L736.1 455.8L740.2 461.9L740.2 468.7L755.8 471.4L760.5 477.6L773.4 476.9L771.4 488.4L774.8 495.9L771.4 499.9L776.1 510.8M776.1 510.8L781.6 513.9L787.0 512.8L797.2 506.1L797.2 502.0L801.2 502.7L795.8 494.5L793.1 491.1L805.3 491.8L806.0 493.8L817.5 488.4L819.6 483.7M819.6 483.7L814.8 478.9L816.9 473.5L822.3 471.4L824.3 461.3M819.6 483.7L824.3 485.0L825.0 488.4L827.7 492.5L825.0 502.0L831.1 510.1L837.9 508.8L848.1 506.1M844.0 478.9L842.6 485.0L837.9 491.8L842.6 496.6L848.1 506.1M865.0 479.6L861.6 485.0L865.0 495.2L861.0 503.3M848.1 506.1L852.1 506.1L861.0 503.3L872.5 504.0L880.6 491.1M776.1 510.8L776.8 507.4L757.8 507.4L757.8 511.5L761.9 512.2L760.5 514.9L756.1 520.3L760.5 526.4L756.8 547.5M756.8 547.5L751.7 544.7L756.5 537.3L736.8 535.2L731.4 527.4L721.2 519.6M721.2 519.6L718.5 518.6L706.2 516.2L696.7 509.4M721.2 519.6L719.8 525.1L711.7 536.6L700.8 542.0L699.5 546.1L695.4 552.9L687.9 548.1L686.6 542.0M756.8 547.5L736.8 553.6L734.7 560.3L729.3 569.2L736.1 580.0L741.5 586.8L752.4 583.4L752.4 593.6L759.2 593.3M759.2 593.3L765.3 603.8L763.2 611.2L760.5 619.4L761.9 622.8L759.2 628.9L764.6 629.6L759.9 637.7M759.9 637.7L753.7 643.5M759.2 593.3L770.0 591.6L779.5 586.1L788.4 585.5L787.7 598.3L794.5 603.8L805.3 607.2L812.1 610.6L820.9 612.6L823.0 629.6L835.9 629.6L835.2 636.3L841.3 642.5L839.2 647.9L836.5 653.3L836.9 655.7M836.9 655.7L830.4 649.9L812.8 652.0L808.7 658.7L806.3 669.9M806.3 669.9L797.9 668.2L795.1 673.7L789.0 668.9L781.6 666.9L775.5 673.7M775.5 673.7L768.7 663.5L766.6 654.7L763.2 647.9L759.9 637.7M775.5 673.7L774.8 681.8L766.6 685.2L768.0 701.5L758.5 712.4L756.5 725.2L753.1 732.7L756.5 744.2L757.8 751.7L753.1 764.6L748.3 776.8L750.4 783.6L744.9 790.4L743.6 804.0L744.9 816.2L747.6 824.3L744.2 831.1L744.9 837.9L739.5 848.1L734.7 858.2L740.9 865.0L742.9 871.8L767.3 874.2M766.0 876.2L766.0 891.5M806.3 669.9L817.5 680.5L832.5 687.2L840.6 691.3L833.8 703.5L848.7 704.9L852.8 704.2L861.0 692.7M836.9 655.7L838.6 668.9L852.8 670.3L855.5 681.8L863.0 682.5L861.0 692.7M861.0 692.7L866.4 696.7L867.1 702.2L852.8 711.0L840.6 723.9M840.6 723.9L836.5 736.1L835.2 749.0M840.6 723.9L851.5 728.0L854.2 728.6L866.4 736.8L870.5 740.9L869.1 748.0M1216.6 280.8L1219.9 290.3L1223.3 300.4L1207.1 308.6L1194.2 316.7L1172.6 324.2L1172.6 331.2M1172.6 331.2L1142.1 331.2M1172.6 331.2L1172.6 342.5L1150.0 342.5L1150.0 359.8L1143.3 362.9L1142.6 374.2L1116.1 374.2M1172.6 333.7L1198.9 349.3M1198.9 349.3L1187.4 349.3L1194.2 413.8L1168.4 413.8L1158.9 414.4L1153.4 413.1L1148.7 418.5M1148.7 418.5L1140.5 409.7L1133.1 406.3L1119.5 409.7M1198.9 349.3L1239.6 375.8L1239.6 378.5L1253.2 384.6L1253.9 390.0L1260.3 389.0M1260.3 389.0L1270.8 386.6L1282.4 377.1L1312.9 359.5M1312.9 359.5L1299.3 352.7L1295.9 339.8L1298.7 329.6L1298.0 322.2L1295.9 314.0M1295.9 314.0L1293.2 301.1L1287.8 298.4L1282.4 288.9L1287.1 283.5L1288.5 268.5M1295.9 314.0L1301.4 308.6L1301.4 303.8L1309.5 299.1L1309.5 293.7M1312.9 359.5L1327.8 365.6L1333.3 362.9M1333.3 362.9L1394.3 386.6M1394.3 386.6L1394.3 383.2L1401.1 383.2L1401.1 369.7M1401.1 369.7L1401.1 320.8L1399.1 314.0L1402.1 304.5M1401.1 369.7L1481.9 369.7M1333.3 362.9L1336.7 376.4L1337.3 383.2L1337.3 404.3L1323.8 420.6L1323.1 426.0M1323.1 426.0L1316.3 430.1L1304.1 428.0L1296.6 432.1L1284.4 428.7L1278.3 430.7L1268.8 424.6L1259.3 427.3L1255.9 439.6M1260.3 389.0L1260.0 404.3L1255.9 413.1L1241.0 415.1L1232.8 417.2M1232.8 417.2L1237.6 426.7L1245.7 432.8L1247.8 437.5L1255.9 439.6M1232.8 417.2L1217.9 422.6L1211.1 426.0L1202.3 429.4L1195.5 438.9L1194.2 448.4M1194.2 448.4L1189.4 447.0L1177.2 449.7M1177.2 449.7L1174.5 441.6L1168.4 434.8L1154.1 434.8M1154.1 434.8L1148.7 418.5M1154.1 434.8L1138.5 433.4M1138.5 433.4L1118.2 435.1M1138.5 433.4L1138.5 439.6L1129.7 445.0M1117.5 426.7L1129.7 425.3L1137.8 428.0L1129.7 428.7L1117.5 430.1M1141.2 457.9L1146.7 451.8L1155.5 451.1L1159.5 457.2L1161.6 461.3M1161.6 461.3L1153.4 472.1M1161.6 461.3L1167.7 468.7L1173.8 467.4M1173.8 467.4L1179.2 461.9L1177.2 449.7M1173.8 467.4L1175.2 476.2L1180.6 479.6L1180.6 489.1M1213.2 454.5L1209.8 472.8L1212.5 484.3M1194.2 448.4L1200.3 453.1L1213.2 454.5M1213.2 454.5L1212.5 444.3L1231.5 443.6M1231.5 443.6L1234.9 454.5L1235.6 468.7L1239.6 477.6M1236.9 445.0L1242.3 457.9L1242.3 476.9M1255.9 439.6L1256.6 449.7L1249.8 461.3L1249.8 476.2M1237.6 444.3L1247.8 437.5M1323.1 426.0L1327.8 434.8L1321.7 450.4L1314.3 461.3L1306.1 474.2L1298.0 472.8L1291.2 479.6L1289.8 487.7M1327.8 434.8L1333.3 436.8L1333.3 451.1L1325.8 453.8L1336.7 467.4M1336.7 467.4L1357.7 464.7L1360.4 457.9L1374.0 452.4L1386.9 445.0L1387.6 444.3M1394.3 386.6L1394.3 412.4L1386.9 413.8L1380.8 432.8L1386.9 445.0M1336.7 467.4L1329.2 478.2L1333.3 491.8L1340.7 504.0M1340.7 504.0L1321.7 504.0L1308.2 504.0L1298.0 503.3M1308.2 504.0L1308.2 512.2L1298.0 512.2M1321.7 504.0L1329.9 509.4L1325.8 517.6L1329.9 523.0L1329.2 532.5L1316.3 534.6L1310.2 536.6L1318.3 545.4L1306.8 545.4M1387.6 444.3L1397.7 459.2L1403.2 467.4L1417.4 484.3M1417.4 484.3L1397.1 484.3L1383.5 491.1L1370.6 489.1L1357.7 489.8L1357.7 495.2M1357.7 495.2L1344.1 495.2L1340.7 504.0M1357.7 495.2L1352.3 522.3L1341.4 533.9L1339.4 546.1L1334.6 548.1L1329.2 552.2L1322.4 552.2L1320.4 550.2L1314.3 558.3M1397.7 459.2L1401.1 449.1L1420.8 453.8L1426.9 455.2L1432.3 450.4L1443.2 452.4L1451.3 439.6L1456.8 436.2L1456.1 446.3L1462.9 454.5M1462.9 454.5L1464.2 447.0L1469.7 438.9L1476.5 432.8L1479.2 421.9M1479.2 421.9L1478.5 416.5L1482.6 402.9L1493.4 396.8M1479.2 421.9L1488.7 417.8L1496.1 419.9L1509.0 423.3L1519.2 434.1M1519.2 434.1L1515.1 444.3L1522.6 444.4L1525.0 441.1M1522.6 444.4L1523.3 453.8L1530.1 457.9L1550.4 464.7L1557.2 464.7L1536.8 485.0L1523.3 487.7L1515.8 491.9M1515.8 491.9L1508.3 490.4L1499.5 495.9L1490.0 494.5L1475.8 488.8L1475.1 487.7M1515.8 491.9L1509.7 499.9L1509.7 525.1L1513.8 530.5M1462.9 454.5L1455.4 466.0L1467.0 473.5L1475.1 487.7M1475.1 487.7L1462.2 490.4L1458.8 493.5L1441.2 495.2L1436.4 491.8L1417.4 484.3M1462.2 490.4L1466.3 511.5L1461.5 518.3L1461.5 525.7M1461.5 525.7L1486.6 539.3L1487.3 542.7L1497.5 550.8M1441.2 495.2L1443.9 504.0L1434.4 513.5L1432.3 523.0L1432.3 528.5M1432.3 528.5L1438.5 525.7L1461.5 525.7M1438.5 525.7L1440.5 535.2L1435.1 548.1L1431.0 549.1M1432.3 528.5L1428.3 537.3L1429.6 544.7L1431.0 549.1M1428.3 537.3L1435.1 535.2L1440.5 535.2M1505.6 590.2L1489.3 595.6L1474.4 597.7L1468.8 597.5M1462.2 583.4L1454.7 582.7L1441.8 577.3L1440.5 574.6M1440.5 574.6L1427.6 576.6L1424.2 582.1L1425.6 590.2L1424.2 599.7L1428.3 603.1L1433.7 601.4L1433.7 610.2L1424.2 603.8L1416.1 597.7L1403.2 595.0L1397.1 596.3L1394.3 592.9M1394.3 592.9L1382.1 595.0L1379.4 583.4L1379.4 568.5L1363.8 566.5L1360.4 573.2L1350.9 573.9L1344.1 559.0L1319.7 559.0L1314.3 558.3M1394.3 592.9L1394.3 607.2L1380.8 607.2L1380.8 628.9L1390.3 638.4M1311.6 635.7L1325.8 637.0L1356.3 637.0L1376.7 640.4L1390.3 638.4L1403.2 639.7M1374.0 643.1L1391.6 644.5L1403.2 639.7M1374.0 643.1L1374.0 668.2L1367.2 668.2L1367.2 687.2M1367.2 687.2L1367.2 711.7L1360.4 715.1L1349.6 713.7L1343.4 713.0M1367.2 687.2L1372.6 700.8L1380.8 697.4L1387.6 690.6L1399.1 694.0L1407.2 686.6L1414.0 679.8L1423.5 672.3L1431.0 669.6M1431.0 669.6L1419.5 658.1L1409.3 647.9L1403.2 639.7M1403.2 639.7L1414.7 641.1L1427.6 626.8L1437.8 624.8M1437.8 624.8L1443.9 627.5L1454.7 632.3L1455.4 641.1L1453.4 647.9L1455.4 653.3L1451.3 663.5L1443.9 671.0M1431.0 669.6L1443.9 671.0M1443.9 671.0L1448.6 685.2L1448.0 694.7L1449.3 701.2L1454.7 701.2M1414.7 719.8L1421.5 713.7L1430.3 716.4L1429.0 722.5L1422.2 726.6L1417.4 723.9L1414.7 719.8M1441.8 695.4L1448.0 694.7L1449.3 701.2L1443.9 704.2L1440.5 700.8L1441.8 695.4M1454.7 582.7L1457.5 592.2L1453.4 611.2L1456.8 614.0L1436.4 619.4L1437.8 624.8M1456.8 614.0L1464.9 616.7L1466.3 622.8L1464.9 628.2L1471.0 635.0L1474.4 627.5L1475.1 620.1L1468.3 611.2M1463.6 306.5L1468.3 318.8M1171.1 234.6L1175.8 233.3L1186.7 234.6L1189.4 236.7L1184.7 240.7L1184.0 249.5L1180.6 250.2L1184.0 254.3L1181.9 258.4L1184.0 259.7L1180.6 264.5L1181.3 266.5M1219.3 224.4L1222.0 227.2L1226.7 227.8L1236.2 228.5L1243.0 230.5L1253.2 231.2M1282.4 221.7L1279.0 219.0L1278.3 212.9L1279.0 207.5M1279.0 207.5L1277.6 204.1L1272.9 205.4L1272.9 202.7L1279.0 196.6L1283.1 195.9M1283.1 195.9L1283.1 192.5L1287.1 186.4L1276.9 185.1L1274.9 183.0M1274.9 183.0L1270.8 183.0L1264.1 179.6L1260.0 179.6L1253.2 174.2L1248.4 172.2M1254.6 170.1L1260.7 170.1L1265.4 169.5L1270.8 171.5L1270.2 174.2L1272.2 174.6M1272.2 174.6L1273.6 177.6L1272.9 179.0L1275.6 181.0L1274.9 183.0M1272.2 174.6L1272.9 171.5L1272.2 167.4L1277.6 166.8L1279.0 164.0L1279.0 161.7L1280.3 157.9M1289.8 146.4L1295.3 147.1M1327.8 153.2L1329.2 157.9L1327.2 160.6L1331.2 165.4L1330.6 167.4L1333.3 172.2L1331.9 173.5M1331.9 173.5L1328.5 172.9L1319.0 176.9L1313.6 177.6L1316.3 181.7L1325.1 187.8M1325.1 187.8L1319.7 191.2L1318.3 195.3L1319.7 196.6L1314.3 195.9L1306.1 197.3L1302.7 196.6L1296.6 196.3M1296.6 196.3L1289.8 195.3L1283.1 195.9M1279.0 207.5L1285.1 206.8L1288.5 204.1L1292.6 208.2L1294.6 203.4L1300.0 205.4L1302.4 200.7M1302.4 200.7L1296.6 199.3L1296.6 196.3M1302.4 200.7L1307.5 200.0L1314.3 199.3L1315.6 202.0L1324.4 203.4M1324.4 203.4L1322.4 205.4L1323.8 209.5L1325.1 209.5M1324.4 203.4L1330.6 204.1L1338.0 202.0L1340.7 201.0M1340.7 201.0L1343.4 197.3L1347.5 195.3L1347.5 193.2M1325.1 187.8L1331.2 189.2L1333.3 186.4L1340.7 188.1L1346.5 189.2L1347.5 193.2M1331.9 173.5L1336.0 174.2L1342.1 175.2L1341.4 176.9L1346.2 178.3L1350.9 177.6L1353.6 179.6L1357.7 180.3L1359.4 183.0M1359.4 183.0L1354.3 185.8L1348.2 187.1L1346.5 189.2M1359.4 183.0L1363.8 182.4L1365.8 185.1L1367.9 185.1L1371.3 183.7L1378.1 183.4L1384.2 185.8M1347.5 193.2L1352.3 194.9L1359.1 194.6L1365.2 191.9L1370.6 189.8L1376.7 189.2L1381.8 190.5L1384.2 185.8M1384.2 185.8L1385.5 182.4L1394.3 176.3L1395.0 173.9L1391.6 169.5M1391.6 169.5L1391.6 165.4L1388.9 164.0L1393.7 161.3L1391.0 153.2M1391.0 153.2L1386.2 149.8L1365.8 149.5M1386.2 149.8L1384.8 145.7L1376.0 144.0M1391.0 153.2L1404.5 150.5L1406.6 146.4L1413.3 143.7L1412.0 141.0M1374.3 138.3L1386.9 136.2L1400.5 136.2L1412.0 141.0M1412.0 141.0L1422.5 137.9L1419.5 130.1L1417.1 128.4M1396.7 126.0L1403.2 125.4L1411.3 128.8L1417.1 128.4M1417.1 128.4L1418.1 123.3L1417.4 119.9L1422.8 115.9M1420.1 108.1L1430.3 103.0L1443.9 92.1L1435.7 87.4L1438.8 84.0L1433.0 78.5L1433.7 73.1L1435.7 73.1L1429.0 65.0L1435.1 59.5L1426.2 56.1L1424.9 51.4L1427.6 50.4M1427.6 50.4L1435.7 46.3L1441.2 47.0L1440.8 45.3M1427.6 50.4L1430.3 48.7L1421.5 43.9L1407.9 46.0L1405.9 49.4L1400.5 53.4L1390.3 52.8L1378.1 48.7L1370.9 50.3M1370.9 50.3L1378.1 54.8L1392.3 58.2L1391.0 62.9L1394.3 65.6L1392.0 69.0L1395.4 72.4M1370.9 50.3L1367.9 50.7L1369.2 54.1L1354.3 54.1L1352.9 57.5L1344.8 58.2L1340.7 64.3L1336.0 67.7L1329.9 70.4L1330.6 72.4L1324.4 80.6L1327.2 83.3L1317.7 84.6L1312.9 89.4L1314.3 96.2L1314.9 100.3L1319.0 102.3L1314.3 105.0L1317.0 108.4L1316.3 111.1L1311.6 112.5L1311.6 117.2L1309.5 119.3L1306.8 118.6M1391.6 169.5L1401.1 166.8L1416.1 168.8L1426.2 170.1L1439.1 170.8L1439.1 167.4L1447.3 165.4M1447.3 165.4L1445.2 158.6L1453.4 156.2L1443.9 151.5L1440.5 147.1L1441.2 141.6L1422.5 137.9M1447.3 165.4L1460.8 163.7L1464.9 167.4L1471.7 172.9L1473.1 176.9L1486.0 177.6L1489.3 180.3L1503.6 182.4L1500.9 193.9L1490.7 199.3M1381.8 190.5L1386.9 193.2L1400.5 195.3L1412.0 191.5L1418.1 190.2L1429.0 193.9L1435.1 204.1L1422.8 210.5L1433.0 212.2M1412.0 191.5L1422.2 200.7L1422.8 210.5M1381.8 190.5L1386.9 193.6L1375.0 204.8L1368.9 206.1M1368.9 206.1L1377.4 212.2L1376.7 214.9L1383.8 215.6L1385.5 219.0M1385.5 219.0L1387.6 221.7L1403.8 223.1L1414.7 219.3L1425.6 222.1M1385.5 219.0L1383.5 227.2L1387.2 232.6L1386.9 238.3L1397.7 237.0L1410.3 236.0L1408.3 242.4M1410.3 236.0L1421.5 233.9M1367.2 249.5L1371.3 246.8L1374.0 241.7L1386.9 238.3M1340.7 201.0L1344.1 203.4L1351.6 207.5L1359.7 207.5L1368.9 206.1M1323.8 210.2L1335.3 210.5L1338.0 205.4L1344.1 203.4M1338.4 212.2L1346.2 211.9L1360.4 214.6L1363.1 214.3L1360.4 210.9L1359.7 207.5M1338.4 212.2L1338.4 214.9L1341.4 219.0L1350.9 227.2L1357.0 230.5M1363.1 214.3L1361.1 218.3L1364.5 221.0L1361.8 223.8L1358.4 225.8L1357.0 230.5M1363.1 234.6L1365.8 230.5L1367.9 229.9L1371.3 234.6L1370.6 238.7L1374.0 241.7M1371.3 234.6L1378.1 232.2L1383.5 231.9L1387.2 232.6M1361.8 223.8L1369.2 228.5L1367.9 229.9M1513.4 237.3L1519.9 238.0L1526.7 240.0L1527.3 242.8L1535.5 249.5L1532.8 251.6L1530.1 251.6L1533.5 259.0L1535.5 266.5L1532.1 267.9L1519.2 267.2L1517.8 265.8L1507.7 267.2L1494.8 269.9L1483.2 270.2L1480.5 273.0L1476.8 276.0M1519.2 267.2L1511.1 271.3L1509.7 285.5L1494.8 292.3M1494.8 292.3L1481.2 299.8L1474.4 296.7M1474.4 296.7L1472.7 299.1L1472.4 305.2L1469.0 318.4M1474.4 296.7L1475.1 293.0L1479.8 286.9L1475.8 283.8M1469.7 294.3L1475.1 293.0M1494.8 292.3L1497.5 300.8L1482.6 305.2L1489.3 312.0L1486.0 315.4L1476.5 320.8L1468.7 319.8M1497.5 300.8L1505.6 302.5L1517.2 307.9L1534.8 320.8L1546.4 321.7L1547.4 321.5M1547.4 321.5L1553.1 315.4L1556.9 315.4M1547.4 321.5L1553.5 322.2L1559.9 325.2M1535.5 266.5L1539.6 275.0L1544.3 276.7L1539.6 288.2L1544.3 295.0L1556.2 303.8L1555.2 308.6L1557.2 312.3L1560.9 315.7M1521.9 407.7L1525.3 400.2L1531.4 400.9L1548.4 402.2L1553.8 402.9L1558.6 395.4L1564.7 392.7L1584.4 390.0M1584.4 390.0L1604.7 383.2L1609.5 369.7L1606.1 364.9M1584.4 390.0L1591.8 406.0M1606.1 364.9L1588.4 363.2L1581.6 354.7M1606.1 364.9L1610.1 354.7L1614.2 350.0M1576.2 351.0L1578.9 352.0M1502.9 224.4L1519.9 225.8L1528.7 229.9L1538.2 229.2L1546.4 234.6M1546.4 234.6L1552.5 239.4L1556.5 239.4L1561.3 235.3M1526.7 240.0L1536.8 238.7L1547.7 240.0L1546.4 234.6M1536.8 238.7L1540.9 243.4L1543.6 250.2L1547.0 255.0M1535.5 249.5L1547.0 255.0L1557.2 249.5L1563.3 258.0M1597.2 265.5L1603.4 265.2L1612.9 260.4L1620.3 261.1L1633.9 264.5L1641.4 270.2L1646.1 270.2L1646.8 277.0M1646.8 277.0L1642.0 287.5L1644.1 291.6L1642.7 294.3L1644.7 305.2L1650.9 308.6L1644.4 316.4M1644.4 316.4L1649.5 324.2L1657.6 327.2L1657.6 334.4L1661.0 334.7L1660.4 338.1L1650.9 340.8L1649.5 347.9M1644.4 316.4L1655.6 319.4L1666.5 319.4L1681.4 316.0L1682.1 309.3L1690.9 305.9L1701.7 302.5L1703.1 295.0L1708.5 292.3L1705.8 288.2L1714.0 285.5L1717.4 278.0L1714.6 274.0L1723.5 269.2L1737.7 267.9L1739.8 266.2M1646.8 277.0L1657.0 279.7L1669.2 272.6L1682.7 265.5L1691.6 266.5L1692.9 268.2L1701.7 267.2L1707.5 264.1L1708.5 259.0L1715.7 259.4L1717.4 269.9L1728.9 264.8L1739.8 266.2M1682.7 265.5L1676.6 259.0L1655.6 247.5L1651.5 240.0L1639.3 238.0L1638.6 232.6L1629.1 228.5L1623.7 232.6L1617.6 235.0L1618.3 238.7L1611.3 238.7M1611.3 238.7L1611.3 213.6L1629.1 209.5L1646.1 217.7L1652.2 223.8L1671.9 222.4L1680.0 227.2L1679.4 233.9L1684.1 239.4L1692.9 240.0L1693.6 242.1L1700.4 238.0L1707.9 233.3L1712.9 232.2M1712.9 232.2L1714.6 228.5L1730.3 230.5L1730.9 226.5L1745.2 228.5L1768.3 228.5L1775.7 232.6M1611.3 238.7L1602.7 233.9L1587.7 235.3M1775.7 232.6L1764.2 236.7L1753.3 240.4L1739.8 244.1L1732.3 248.2L1731.3 251.2M1731.3 251.2L1739.8 258.4L1739.8 266.2M1731.3 251.2L1718.7 252.3L1703.1 250.6L1709.9 246.8L1710.6 241.4L1718.7 237.3L1712.9 232.2M1691.6 266.5L1692.9 259.7L1688.9 252.9L1696.3 250.6L1703.1 250.6M1564.7 204.1L1560.6 202.7L1564.0 201.4L1550.4 193.2L1547.0 190.5L1550.8 185.1L1549.1 184.1L1559.9 181.0L1562.6 175.6L1576.2 168.1L1588.4 169.5L1601.3 172.9L1609.5 175.6L1621.7 172.9L1635.2 176.3L1648.1 174.2L1638.6 166.8L1645.4 164.0L1643.4 161.3L1648.1 155.2L1645.4 152.8L1672.6 149.8L1694.3 145.7L1711.9 143.7L1713.3 151.8L1729.6 153.2L1753.3 149.5L1750.6 152.8L1760.1 157.3L1775.0 174.2L1797.4 172.9L1810.3 172.9L1824.2 185.8M1824.2 185.8L1813.7 190.5L1811.7 199.7L1794.7 198.7L1790.0 210.2L1773.7 214.3L1777.1 227.2L1775.7 232.6M1824.2 185.8L1840.2 180.3L1857.8 174.2L1871.4 175.9L1891.8 181.3L1898.5 176.3L1902.6 165.4L1924.3 170.1L1925.0 175.6L1957.6 178.3L1982.7 185.4L2007.1 177.6L2023.4 180.7M1824.2 185.8L1828.6 189.2L1844.3 195.3L1849.0 203.1L1848.3 212.2L1866.0 213.9L1878.9 218.3L1885.7 229.2L1915.5 229.5L1943.3 236.3L1961.0 230.9L1980.7 229.5L1991.2 222.1L1987.4 217.7L1990.8 212.9L2002.4 215.3L2018.3 208.8L2023.4 204.4L2043.8 202.0L2028.2 195.6L2015.9 193.9L2018.7 187.8L2023.4 180.7M2023.4 180.7L2031.5 183.0L2041.0 178.6L2045.8 168.8L2050.6 162.3L2069.6 155.6L2084.1 159.0L2097.4 178.3L2119.8 195.3L2131.0 195.3L2146.2 190.5L2135.0 212.9L2122.5 220.0L2122.5 223.8L2117.7 230.9M2117.7 230.9L2112.3 227.5L2100.4 233.9L2092.6 235.3L2075.3 247.5M2087.2 262.8L2102.5 257.0M1964.7 372.7L1955.5 369.7L1946.4 360.5L1930.4 366.3L1924.7 366.6L1922.0 375.4L1917.9 372.7L1910.8 373.4L1904.7 368.6L1907.0 363.2L1901.3 355.4L1893.5 356.4L1901.3 343.5L1901.3 332.0L1892.1 327.6M1892.1 327.6L1884.0 334.0L1877.2 342.5L1873.4 348.3L1870.4 357.1L1865.0 355.4L1863.9 368.0L1859.9 369.8L1857.8 378.5M1836.1 371.0L1833.7 354.7L1829.3 351.3L1831.4 340.5L1840.9 341.2L1841.2 347.3L1858.5 349.3L1850.4 356.1L1853.1 363.2L1859.9 369.8M1917.9 372.7L1910.8 380.9L1896.5 384.6L1892.1 393.1L1902.6 407.7L1897.9 415.8L1904.3 426.0L1907.4 438.9L1901.6 448.7M1910.8 380.9L1913.8 386.6L1918.6 386.6L1916.9 397.5L1924.3 395.4L1936.9 394.8L1942.3 400.5L1942.3 407.7L1948.1 412.4L1947.7 421.2M1924.7 366.6L1930.4 376.8L1941.3 380.5L1937.2 387.3L1945.4 392.1L1961.7 410.0L1961.3 419.2M1947.7 421.2L1929.8 422.6L1927.0 427.0L1926.0 427.0L1929.8 439.9M1961.3 419.2L1961.7 435.5L1949.8 440.9L1940.3 448.2M1947.7 421.2L1961.3 419.2M1910.8 475.2L1917.5 480.3L1924.3 476.5M1694.3 358.1L1712.6 354.1L1703.1 337.1L1709.2 328.9L1726.2 321.8L1736.4 308.6L1737.7 298.4L1733.6 293.7L1733.3 283.8L1745.2 274.7L1759.4 278.0M1739.8 266.2L1745.2 274.7M1759.4 278.0L1765.9 285.9L1766.2 291.6L1771.0 296.7L1765.9 297.7L1765.9 306.5L1781.5 314.0M1781.5 314.0L1788.6 313.0L1802.9 322.8L1815.1 329.6L1829.3 330.0M1781.5 314.0L1774.7 323.5L1792.7 331.0L1813.7 338.4L1829.3 339.8L1829.3 330.0M1829.3 330.0L1834.8 333.7L1840.5 327.6L1853.4 330.6L1856.5 336.7L1840.9 337.8L1834.8 333.7M1853.4 330.6L1866.0 324.5L1878.5 321.8L1884.0 319.8L1892.1 327.6M1975.6 505.4L1981.3 513.2L1990.2 512.2L1998.3 509.1L2008.5 509.1L2017.3 489.4L2029.5 490.4M2188.3 536.6L2188.3 580.7M2073.3 582.4L2080.4 582.7L2079.7 578.0" fill="none" stroke="#000" stroke-width="1.2"/>
</g>
<path d="M606.5 201.7L617.3 195.9L625.5 193.2L633.0 187.8L644.5 188.5L651.3 193.9L656.7 200.0L658.1 203.4L651.3 202.0L644.5 203.4L637.7 203.4L632.3 200.7L634.3 197.0L628.9 199.3L624.1 201.4L617.3 202.7L610.6 201.4ZM637.0 236.0L644.5 233.9L646.5 227.2L644.5 220.4L646.5 215.6L651.3 213.6L654.7 208.8L649.2 206.8L641.8 208.2L637.0 212.9L634.3 216.3L637.7 216.3L636.3 221.7L635.0 227.2L635.7 231.9ZM656.7 207.5L664.8 206.1L675.0 206.1L681.8 207.5L688.6 211.5L690.0 214.9L685.2 217.0L679.8 212.2L677.1 218.3L677.1 223.8L672.3 227.2L671.0 221.7L665.5 222.4L662.1 222.4L666.2 218.3L666.2 213.6L661.5 210.2ZM665.5 236.0L671.6 238.0L677.1 237.3L688.6 232.9L696.1 228.2L688.6 229.9L680.5 229.5L671.6 233.9L667.6 233.9ZM690.0 225.1L692.7 222.7L702.2 220.7L712.4 219.0L714.4 223.8L705.6 225.5L695.4 225.5ZM574.6 176.9L578.0 172.9L576.6 166.1L569.8 159.3L566.5 153.9L559.7 155.9L563.1 162.7L569.8 169.5L573.2 176.3ZM564.4 177.6L561.0 172.9L557.6 167.4L551.5 160.6L555.6 166.1L562.4 170.8ZM437.5 105.0L447.7 106.4L457.9 105.0L464.7 103.0L474.8 98.2L488.4 93.5L478.2 92.1L461.3 96.2L454.5 95.5L444.3 98.2L437.5 102.3ZM383.2 77.9L396.8 77.2L410.4 78.5L420.6 74.5L430.7 69.7L423.9 65.0L410.4 65.6L403.6 69.7L393.4 69.7L383.2 71.1ZM474.8 120.6L485.0 118.6L498.6 116.5L512.2 116.5L498.6 118.6L485.0 120.6ZM535.9 136.9L539.3 128.8L542.7 125.4L538.0 130.8ZM628.9 183.0L633.0 178.3L634.3 182.4ZM585.5 186.4L590.2 183.0L591.6 186.4ZM465.3 240.7L469.4 236.0L471.4 240.7ZM648.6 437.5L652.6 438.2L656.0 442.9L650.6 442.9ZM756.5 622.8L761.2 624.8L764.6 629.6L758.5 628.2ZM745.6 445.0L748.3 448.4L749.0 452.4L746.3 456.5L742.9 453.8L743.6 447.7ZM1447.3 525.1L1448.6 517.6L1455.4 516.2L1462.2 517.6L1465.6 521.0L1462.2 525.7L1461.5 532.5L1457.5 536.6L1450.0 536.6L1446.6 532.5ZM1430.3 542.0L1433.0 549.5L1433.7 559.7L1439.1 568.5L1443.2 578.0L1438.5 575.3L1431.7 565.1L1429.6 556.3L1429.0 547.5ZM1462.2 583.4L1466.3 590.2L1466.3 600.4L1470.3 610.6L1470.3 616.0L1467.0 615.3L1464.2 607.2L1462.9 597.0ZM1475.8 488.4L1477.8 495.2L1480.5 502.0L1476.5 498.6ZM1437.8 511.5L1441.8 508.8L1444.6 503.3L1440.5 506.1ZM1564.0 263.8L1572.8 267.9L1581.0 269.9L1591.1 269.2L1597.9 267.9L1596.6 261.1L1596.6 254.3L1591.1 250.9L1591.1 247.5L1589.1 240.7L1589.8 235.3L1587.1 230.5L1581.0 225.8L1576.2 219.0L1572.8 216.3L1578.9 213.6L1589.1 210.9L1591.1 204.8L1591.1 200.7L1584.4 200.0L1577.6 200.7L1567.4 203.4L1560.6 206.8L1552.5 213.6L1549.1 217.7L1553.1 222.4L1553.8 227.2L1559.2 233.9L1564.0 238.7L1567.4 243.4L1573.5 244.8L1566.7 248.9L1564.0 252.9L1563.3 258.4ZM1590.5 238.7L1594.5 233.9L1601.3 235.3L1600.0 242.1L1593.2 241.4ZM1627.1 213.6L1630.5 207.5L1637.3 204.8L1645.4 202.0L1650.9 205.4L1647.5 211.5L1648.8 217.0L1642.0 222.4L1633.9 223.1L1627.8 219.0ZM1935.2 168.8L1942.7 169.5L1950.8 164.0L1964.4 157.3L1974.5 145.7L1977.3 140.3L1971.2 142.3L1964.4 150.5L1954.2 157.9L1944.0 164.7ZM1730.3 210.2L1735.0 205.4L1743.8 201.4L1754.0 203.4L1767.6 202.0L1764.2 204.8L1747.2 205.4L1737.0 211.5ZM1748.6 231.2L1757.4 228.5L1762.8 230.5L1754.0 233.3ZM1435.1 111.8L1441.8 112.1L1452.0 110.4L1455.4 106.4L1450.0 103.0L1441.8 100.9L1435.1 103.6L1437.1 108.4ZM1465.6 105.7L1472.4 105.7L1477.8 103.0L1472.4 98.2L1467.6 94.1L1464.2 98.2L1469.0 101.6ZM1315.6 122.0L1321.1 116.5L1326.5 118.6L1323.1 122.0ZM1327.8 126.7L1329.9 120.6L1332.6 121.3L1329.9 126.7ZM1414.7 124.0L1416.7 118.6L1420.8 119.3L1418.8 124.0ZM1536.8 266.5L1539.6 259.7L1543.0 264.5ZM1519.9 257.7L1526.7 255.0L1524.6 259.0ZM1908.0 269.2L1914.8 267.2L1913.5 270.6ZM2127.2 216.3L2132.7 212.2L2131.3 216.3Z" fill="#fff" stroke="#000" stroke-width="0.8"/>

</g>
<g font-family="'Liberation Sans',Arial,sans-serif" fill="#000">
<!-- legend -->
<text x="2512" y="45.8" font-size="24.3" stroke="#000" stroke-width="0.9">VCI</text><rect x="2512" y="48" width="41.8" height="2.1"/>
<rect x="2511.5" y="45" width="0" height="0"/>
<g id="sw">
<rect x="2512" y="57.8" width="64.5" height="32" fill="#990000"/>
<rect x="2512" y="96.9" width="64.5" height="32" fill="#FF0000"/>
<rect x="2512" y="136" width="64.5" height="32" fill="#FF8800"/>
<rect x="2512" y="175.1" width="64.5" height="32" fill="#FFCC66"/>
<rect x="2512" y="214.2" width="64.5" height="32" fill="#FFFF00"/>
<rect x="2512" y="253.3" width="64.5" height="32" fill="#66FF00"/>
<rect x="2512" y="292.4" width="64.5" height="32" fill="#33CC00"/>
<rect x="2512" y="331.5" width="64.5" height="32" fill="#009900"/>
<rect x="2512" y="370.6" width="64.5" height="32" fill="#2D6E00"/>
<rect x="2512" y="434.8" width="64.5" height="32" fill="#696969"/>
<rect x="2512" y="473.9" width="64.5" height="32" fill="#0000FF"/>
<rect x="2512" y="513" width="64.5" height="32" fill="#FF00FF"/>
</g>
<g font-size="24.7" stroke="#000" stroke-width="1" id="lt">
<text x="2604.2" y="83.1">&lt; 0.15</text>
<text x="2604.2" y="122.2">0.15 - 0.25</text>
<text x="2604.2" y="161.3">0.25 - 0.35</text>
<text x="2604.2" y="200.4">0.35 - 0.45</text>
<text x="2604.2" y="239.5">0.45 - 0.55</text>
<text x="2604.2" y="278.6">0.55 - 0.65</text>
<text x="2604.2" y="317.7">0.65 - 0.75</text>
<text x="2604.2" y="356.8">0.75 - 0.85</text>
<text x="2604.2" y="395.9">&gt;= 0.85</text>
<text x="2604.2" y="460.1">missing</text>
<text x="2604.2" y="499.2">cloud</text>
<text x="2604.2" y="538.3">snow</text>
</g>
<!-- title block -->
<text x="42.5" y="720.7" font-size="30.6" font-weight="bold" textLength="462" lengthAdjust="spacingAndGlyphs">Vegetation Condition Index (VCI)</text>
<text x="42.5" y="773" font-size="24" textLength="279.5" lengthAdjust="spacingAndGlyphs">Dekad 3 December 2025</text>
<text x="42.5" y="823" font-size="24" textLength="182" lengthAdjust="spacingAndGlyphs">METOP-AVHRR</text>
<text x="42.5" y="873" font-size="24" textLength="323" lengthAdjust="spacingAndGlyphs">WGS84, Geographic Lat/Lon</text>
<!-- disclaimer -->
<g font-size="18.5" font-style="italic" fill="#111">
<text x="901" y="875.3" textLength="1281.7" lengthAdjust="spacingAndGlyphs">Disclaimer: The boundaries and names shown and the designations used on this map do not imply the expression of any opinion whatsoever on the part of FAO</text>
<text x="901" y="894.3" textLength="1120.6" lengthAdjust="spacingAndGlyphs">concerning the legal status of any country, territory, area or of its authorities, or concerning the delimitation of its frontiers and boundaries.</text>
</g>
<!-- FAO block -->
<g fill="#1a1a1a">
<g font-size="21.5" font-weight="bold">
<text x="2575.5" y="739.6" textLength="201" lengthAdjust="spacingAndGlyphs">Food and Agriculture</text>
<text x="2575.5" y="765.2" textLength="187" lengthAdjust="spacingAndGlyphs">Organization of the</text>
<text x="2575.5" y="790.8" textLength="144" lengthAdjust="spacingAndGlyphs">United Nations</text>
</g>
<rect x="2478" y="817.2" width="316" height="2" fill="#222"/>
<g font-size="19.5" fill="#222">
<text x="2479.5" y="853.6" textLength="270" lengthAdjust="spacingAndGlyphs">Global Information and Early</text>
<text x="2479.5" y="881.2" textLength="235.5" lengthAdjust="spacingAndGlyphs">Warning System – GIEWS</text>
</g>
</g>
</g>
<g id="logo" transform="translate(2520.4,756.1)" fill="#1a1a1a" stroke="none" font-family="'Liberation Sans',Arial,sans-serif" font-weight="bold">
<circle r="39.1" fill="#fff" stroke="#1a1a1a" stroke-width="3.8"/>
<g fill="none" stroke="#1a1a1a" stroke-linecap="butt" stroke-linejoin="miter">
<path d="M-22.6,-31 L-1.2,13 M22.6,-31 L1.2,13" stroke-width="3"/>
<path d="M-18.6,-31.5 L0,6 L18.6,-31.5" stroke-width="2.5"/>
<path d="M-14.6,-32 L0,-2.5 L14.6,-32" stroke-width="2.4"/>
</g>
<path d="M-8.2,-14 L0,1 L8.2,-14 C5,-7.5 -5,-7.5 -8.2,-14Z"/>
<path d="M-10,-7.5 L0,9.5 L10,-7.5 L10.5,-0.5 L0,16.5 L-10.5,-0.5Z"/>
<path d="M-10.8,3 L0,19.5 L10.8,3 C12,14 6.5,22 1.7,25.5 L1.7,37.5 L-1.7,37.5 L-1.7,25.5 C-6.5,22 -12,14 -10.8,3Z"/>
<path d="M0,-17.2 C1.6,-14 3.1,-12.3 3.1,-10.3 A3.1,3.1 0 0 1 -3.1,-10.3 C-3.1,-12.3 -1.6,-14 0,-17.2Z" stroke="#fff" stroke-width="1.1"/>
<text x="-25.9" y="0.9" font-size="20" text-anchor="middle" stroke="#1a1a1a" stroke-width="0.9">F</text>
<text x="0" y="-17.4" font-size="20" text-anchor="middle" stroke="#1a1a1a" stroke-width="0.9">A</text>
<text x="26" y="0.9" font-size="20" text-anchor="middle" stroke="#1a1a1a" stroke-width="0.9">O</text>
<path id="fp" d="M-31.95,11.63 A34,34 0 0 0 32.84,8.8" fill="none"/>
<text font-size="10.6" letter-spacing="0.5" stroke="#1a1a1a" stroke-width="0.3"><textPath href="#fp" startOffset="1.5">FIAT</textPath></text>
<text font-size="10.6" letter-spacing="0.5" stroke="#1a1a1a" stroke-width="0.3"><textPath href="#fp" startOffset="49">PANIS</textPath></text>
</g>

<rect x="1" y="1" width="2798" height="908" fill="none" stroke="#000" stroke-width="2.5"/>
</svg>
</body></html>
